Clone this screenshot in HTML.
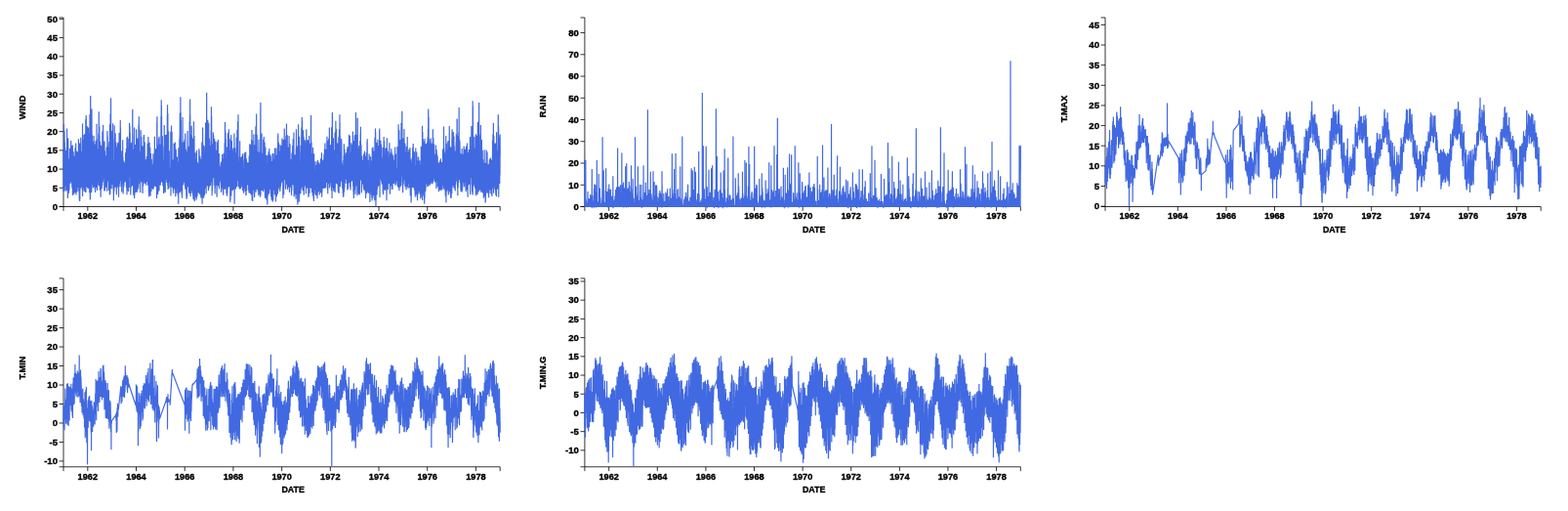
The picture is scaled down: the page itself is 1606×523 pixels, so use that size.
<!DOCTYPE html>
<html lang="en"><head><meta charset="utf-8"><title>Weather time series</title>
<style>
html,body{margin:0;padding:0;background:#fff;}
body{width:1606px;height:523px;overflow:hidden;}
svg{display:block;position:absolute;left:0;top:0;}
text{font-family:"Liberation Sans",sans-serif;font-weight:bold;font-size:9.2px;fill:#000;stroke:#000;stroke-width:0.35px;stroke-linejoin:round;}
.ax path,.ax line{fill:none;stroke:#000;stroke-width:0.8;}
.ln{fill:none;stroke:#4169e1;stroke-width:1.2;}
</style></head><body>
<svg width="1606" height="523" viewBox="0 0 1606 523">
<g class="chart">
<g class="ax">
<path d="M65.00,215.90V211.50H512.20V215.90"/>
<line x1="89.83" x2="89.83" y1="211.50" y2="215.90"/><text x="89.83" y="224.20" text-anchor="middle">1962</text>
<line x1="139.50" x2="139.50" y1="211.50" y2="215.90"/><text x="139.50" y="224.20" text-anchor="middle">1964</text>
<line x1="189.23" x2="189.23" y1="211.50" y2="215.90"/><text x="189.23" y="224.20" text-anchor="middle">1966</text>
<line x1="238.90" x2="238.90" y1="211.50" y2="215.90"/><text x="238.90" y="224.20" text-anchor="middle">1968</text>
<line x1="288.63" x2="288.63" y1="211.50" y2="215.90"/><text x="288.63" y="224.20" text-anchor="middle">1970</text>
<line x1="338.30" x2="338.30" y1="211.50" y2="215.90"/><text x="338.30" y="224.20" text-anchor="middle">1972</text>
<line x1="388.03" x2="388.03" y1="211.50" y2="215.90"/><text x="388.03" y="224.20" text-anchor="middle">1974</text>
<line x1="437.70" x2="437.70" y1="211.50" y2="215.90"/><text x="437.70" y="224.20" text-anchor="middle">1976</text>
<line x1="487.43" x2="487.43" y1="211.50" y2="215.90"/><text x="487.43" y="224.20" text-anchor="middle">1978</text>
<text x="300.20" y="238.00" text-anchor="middle" style="font-size:8.9px">DATE</text>
<path d="M60.60,18.00H65.00V211.50H60.60"/>
<line x1="60.60" x2="65.00" y1="211.50" y2="211.50"/><text x="59.00" y="214.80" text-anchor="end" style="font-size:9.6px">0</text>
<line x1="60.60" x2="65.00" y1="192.29" y2="192.29"/><text x="59.00" y="195.59" text-anchor="end" style="font-size:9.6px">5</text>
<line x1="60.60" x2="65.00" y1="173.08" y2="173.08"/><text x="59.00" y="176.38" text-anchor="end" style="font-size:9.6px">10</text>
<line x1="60.60" x2="65.00" y1="153.88" y2="153.88"/><text x="59.00" y="157.18" text-anchor="end" style="font-size:9.6px">15</text>
<line x1="60.60" x2="65.00" y1="134.67" y2="134.67"/><text x="59.00" y="137.97" text-anchor="end" style="font-size:9.6px">20</text>
<line x1="60.60" x2="65.00" y1="115.46" y2="115.46"/><text x="59.00" y="118.76" text-anchor="end" style="font-size:9.6px">25</text>
<line x1="60.60" x2="65.00" y1="96.25" y2="96.25"/><text x="59.00" y="99.55" text-anchor="end" style="font-size:9.6px">30</text>
<line x1="60.60" x2="65.00" y1="77.04" y2="77.04"/><text x="59.00" y="80.34" text-anchor="end" style="font-size:9.6px">35</text>
<line x1="60.60" x2="65.00" y1="57.84" y2="57.84"/><text x="59.00" y="61.14" text-anchor="end" style="font-size:9.6px">40</text>
<line x1="60.60" x2="65.00" y1="38.63" y2="38.63"/><text x="59.00" y="41.93" text-anchor="end" style="font-size:9.6px">45</text>
<line x1="60.60" x2="65.00" y1="19.42" y2="19.42"/><text x="59.00" y="22.72" text-anchor="end" style="font-size:9.6px">50</text>
<text transform="translate(25.50,97.70) rotate(-90)" text-anchor="end">WIND</text>
</g>
<path class="ln" vector-effect="non-scaling-stroke" transform="translate(65.000,211.500) scale(0.068036,-0.192079)" d="M0 294l1-214 1 11 1 74 1-31 1 74 1-4 1 234 1-166 1-147 1-41 1 59 1-22 1 102 1-9 1 189 1-56 1-102 1-112 1 211 1-142 1 88 1-182 1 129 1 79 1-159 1-52 1 128 1-124 1 7 1-34 1 109 1-83 1 63 1 128 1-120 1-6 1-3 1-27 1 9 1-30 1 83 1 31 1-18 1 17 1-55 1-1 1 11 1 32 1 68 1-203 1 14 1 176 1 140 1-133 1-200 1 26 1 146 1-6 1-77 1-7 1-58 1 93 1-27 1 37 1-167 1 81 1-68 1 116 1-25 1 217 1-151 1-101 1 1 1 6 1 38 1 37 1 61 1-2 1-153 1-29 1 24 1 118 1-87 1-40 1 56 1-55 1 5 1 9 1 45 1 32 1 74 1-115 1-9 1 54 1 128 1-102 1 1 1-22 1-30 1-28 1 12 1 50 1-69 1 49 1-21 1-12 1 4 1-11 1 17 1 17 1 117 1 37 1 31 1-138 1-1 1-64 1 4 1-12 1 27 1-28 1 185 1-153 1 52 1-14 1-81 1 41 1 7 1-34 1-27 1-12 1-4 1 145 1-69 1-2 1 11 1 46 1 98 1-229 1-39 1 67 1-26 1 11 1 67 1 85 1-8 1-109 1 133 1-5 1 18 1-80 1-123 1 36 1-59 1 10 1 22 1-21 1 35 1 135 1-181 1 85 1-45 1 163 1-64 1-90 1 18 1 15 1 6 1-46 1 72 1-87 1-9 1 30 1-30 1-11 1 123 1 98 1 18 1-84 1-9 1-118 1 88 1-66 1 54 1-28 1 110 1 79 1-123 1-141 1 101 1-3 1-111 1 105 1 38 1-15 1 107 1-101 1 72 1-152 1 82 1-2 1-104 1 18 1 181 1-212 1-1 1 26 1-19 1 52 1-31 1 165 1-6 1-117 1 63 1 3 1-106 1 71 1 114 1-71 1-14 1-39 1-68 1 41 1-39 1 16 1 93 1-8 1 157 1-160 1-9 1 42 1-151 1 12 1 14 1 59 1 62 1 52 1-183 1-41 1-22 1 142 1 17 1 110 1-170 1 204 1-310 1 82 1-71 1 83 1-36 1 115 1 1 1-64 1 35 1 126 1 4 1 20 1-201 1 96 1-120 1 91 1 178 1-67 1 48 1-159 1 107 1-135 1-45 1-10 1 1 1 67 1 79 1-61 1 24 1-87 1 4 1-7 1 168 1-56 1-22 1-90 1-35 1 34 1 8 1 47 1-19 1 36 1 244 1-387 1 148 1-111 1 38 1 20 1 48 1 155 1 3 1-253 1 129 1-23 1-5 1-103 1 23 1 3 1 26 1 37 1 10 1-73 1 64 1 192 1-146 1-128 1-23 1 129 1-134 1 45 1 53 1-2 1 82 1 31 1 33 1 65 1-296 1 75 1 96 1 33 1-131 1 88 1-79 1-37 1-41 1 1 1-1 1-21 1 9 1 182 1 198 1-308 1-79 1 31 1 138 1-66 1 302 1 4 1-143 1-79 1-36 1-34 1-5 1 64 1 18 1-164 1 189 1-12 1 6 1 139 1-225 1 193 1-174 1 4 1 79 1-145 1 15 1-74 1 164 1 22 1-94 1 70 1-117 1-46 1 0 1 322 1-324 1-4 1 198 1 13 1 9 1-25 1 130 1-281 1 209 1-161 1 39 1-93 1-33 1 16 1 154 1 118 1-37 1-26 1 45 1-183 1-21 1 17 1-109 1 141 1-77 1 203 1 151 1-325 1-36 1 22 1-54 1-52 1-11 1 153 1-63 1 41 1 424 1-21 1-414 1 93 1-112 1 103 1-25 1 54 1-66 1 6 1-52 1 139 1-209 1-13 1 125 1-15 1-105 1 196 1 118 1 128 1-160 1-207 1 113 1-136 1 120 1-132 1 90 1 173 1-260 1 7 1 58 1 91 1 23 1-103 1-12 1-15 1-47 1-4 1-20 1 74 1 174 1-180 1-66 1 74 1-41 1 5 1 79 1-29 1 63 1-94 1 96 1 123 1-62 1-152 1 26 1-83 1 122 1 35 1-38 1-34 1 46 1 25 1-65 1-15 1-62 1 212 1-241 1 100 1 19 1 55 1-108 1-37 1-46 1 53 1 31 1-62 1 129 1-106 1-8 1 240 1-240 1 117 1-25 1 18 1 126 1-49 1-138 1 43 1-103 1 104 1 35 1-75 1 62 1 214 1-234 1-61 1 69 1 147 1-39 1-147 1-90 1 34 1 29 1-11 1-24 1 56 1 39 1 98 1-135 1 8 1 2 1 33 1-34 1-7 1 19 1 76 1-14 1-110 1 47 1-61 1 258 1-170 1-24 1-80 1 87 1-81 1 385 1-85 1-311 1 48 1-25 1 101 1 73 1 121 1-19 1-269 1 237 1-225 1 96 1 41 1-84 1-82 1-36 1 117 1 72 1 71 1-203 1-23 1-12 1 122 1-24 1-69 1 44 1-55 1-76 1 12 1 188 1-62 1-72 1 27 1 183 1-36 1-7 1-180 1 132 1 23 1-72 1-36 1-25 1 24 1-54 1 38 1-7 1 193 1-178 1-21 1-8 1 119 1-61 1 230 1-131 1-71 1-51 1 24 1 51 1-56 1-37 1 29 1-16 1 65 1 33 1 195 1-275 1-10 1 17 1 37 1 46 1-43 1-39 1 151 1-53 1-96 1 82 1 52 1-126 1 151 1-107 1-59 1-75 1 260 1-5 1-192 1-70 1 175 1-75 1-8 1 123 1-182 1-28 1 18 1 110 1-77 1 24 1-21 1 94 1 24 1-156 1-2 1 40 1 39 1-7 1 16 1 21 1 62 1-131 1 3 1 43 1-68 1 9 1 106 1-118 1 108 1 92 1-128 1-72 1-4 1-8 1 119 1-75 1 67 1-133 1 78 1-1 1 244 1-33 1-126 1-113 1 242 1-61 1-173 1 29 1 157 1-47 1 2 1-39 1 23 1-20 1-56 1-37 1 119 1-40 1 30 1 54 1-135 1 10 1-46 1 28 1-85 1 59 1 82 1-24 1 143 1-105 1-111 1 92 1-3 1 31 1-121 1-61 1-5 1 339 1 37 1-260 1 146 1-253 1 84 1-90 1 125 1-96 1 167 1 225 1 9 1-283 1 116 1 100 1-119 1 269 1-33 1-171 1-144 1 130 1-68 1-136 1-18 1 14 1-58 1 214 1 96 1-93 1-149 1 161 1 57 1-224 1 235 1-195 1 53 1-61 1 166 1-39 1-191 1 128 1-136 1 167 1-162 1 16 1 59 1 247 1-255 1-8 1-36 1 43 1-78 1-15 1 109 1 43 1-101 1-74 1 125 1-164 1 41 1-5 1 111 1 58 1-127 1 64 1-93 1 31 1 249 1-143 1 117 1 97 1-163 1-36 1-114 1-17 1 2 1 234 1-47 1-23 1-127 1 20 1 67 1-55 1 157 1 61 1-192 1-5 1-92 1 3 1 2 1 148 1-2 1-81 1 170 1-41 1-97 1-39 1 111 1 45 1-93 1 8 1-173 1 29 1 219 1-58 1-59 1-76 1 121 1-64 1-67 1 54 1 100 1-91 1 86 1-59 1-13 1-60 1 3 1 121 1 90 1-118 1-96 1-6 1 28 1-19 1-29 1 73 1-72 1 222 1-227 1 152 1-132 1 88 1-75 1-78 1 292 1-122 1-16 1-22 1-49 1 117 1-3 1 146 1-79 1-169 1 46 1-29 1-2 1-8 1 71 1 5 1-27 1-79 1 70 1 95 1-111 1-71 1 131 1-56 1 280 1-235 1-64 1 258 1-122 1-11 1-56 1 35 1-75 1-55 1 16 1 127 1-88 1 47 1 17 1-41 1-1 1-43 1 22 1-34 1 10 1-90 1 93 1 0 1 127 1-22 1-90 1 27 1-30 1 14 1-31 1 50 1 40 1-50 1 3 1-74 1 220 1-191 1-15 1-29 1 144 1-49 1-147 1 8 1 20 1 63 1 35 1-64 1 25 1-52 1 138 1 4 1-138 1 6 1 6 1 66 1-44 1 30 1-6 1 63 1-14 1-46 1-13 1 8 1-33 1 59 1-33 1-16 1 64 1 31 1-13 1-52 1 41 1-34 1 38 1-54 1-3 1 17 1 36 1 77 1-70 1 36 1-59 1-65 1 51 1 27 1-15 1-23 1 63 1 25 1 52 1-168 1-34 1-7 1 140 1-81 1 5 1-45 1 91 1 157 1-304 1 94 1 60 1 76 1-119 1 22 1 12 1 67 1 77 1 21 1-180 1-49 1-60 1 91 1-30 1 38 1 98 1-30 1-101 1 167 1-213 1 82 1-106 1 74 1 16 1 34 1-93 1 94 1 70 1 86 1-247 1 232 1-124 1-122 1 124 1-41 1 109 1-77 1 230 1-289 1 154 1-120 1 204 1 36 1-95 1-58 1-102 1 219 1-101 1-53 1-42 1 49 1 14 1-90 1-62 1-34 1-14 1 36 1 190 1-65 1-64 1 99 1 81 1-196 1 12 1-50 1 4 1 82 1 2 1-58 1 69 1-93 1 230 1-44 1-45 1-139 1 55 1-8 1 63 1 127 1-232 1-4 1 111 1-113 1 395 1 12 1-344 1 214 1-118 1-81 1 59 1-22 1-78 1-33 1 29 1 24 1 7 1 130 1-245 1 47 1 146 1-21 1-14 1-84 1 105 1-83 1-64 1-6 1 170 1-139 1 304 1-378 1 3 1 54 1 92 1-132 1 38 1 86 1-33 1-8 1-67 1 251 1-96 1-158 1 257 1-193 1 25 1 166 1-65 1-61 1-35 1 64 1-58 1-31 1 80 1 20 1 65 1-43 1-188 1 25 1 311 1-11 1-191 1-85 1 210 1-149 1 108 1-66 1-73 1 31 1-41 1-69 1 201 1 13 1 36 1-196 1 103 1 130 1-166 1 52 1-88 1 35 1 11 1-104 1 1 1 74 1 102 1-22 1 91 1-112 1-45 1-100 1 20 1-6 1 48 1 130 1 152 1-258 1 97 1-14 1 218 1-359 1 110 1-48 1 22 1 217 1-134 1-111 1-33 1 56 1-27 1 5 1 46 1-70 1 140 1-101 1 6 1 20 1-18 1-54 1 76 1-148 1 108 1 77 1-134 1 85 1 83 1-78 1 192 1-261 1-14 1 97 1-71 1 11 1 17 1 27 1 38 1 120 1-76 1-85 1-63 1-11 1-5 1 3 1 51 1-44 1-9 1 25 1 74 1 92 1-125 1-58 1 156 1-145 1-18 1-53 1-11 1 17 1 188 1-119 1 165 1-142 1 11 1 58 1-139 1 38 1 7 1 54 1-22 1-12 1-51 1 2 1 250 1-88 1-40 1 8 1 36 1 92 1-241 1 127 1-60 1 35 1-87 1 34 1-10 1 96 1 0 1 67 1-136 1-13 1-70 1 56 1 44 1-26 1-6 1-7 1-63 1 102 1-16 1 44 1-85 1 17 1 32 1 23 1-46 1-14 1-29 1 75 1-9 1-104 1 127 1-54 1 42 1-45 1-27 1 65 1-50 1 56 1 41 1-126 1-7 1 0 1-3 1 32 1 23 1-39 1 31 1 23 1-2 1 47 1 89 1-56 1-90 1-18 1 92 1-36 1-8 1-107 1 42 1-9 1 178 1 48 1-92 1-45 1-91 1-28 1 190 1-199 1-31 1 137 1 88 1-115 1-133 1 221 1-213 1 124 1-65 1 39 1 22 1 161 1-127 1 79 1-120 1-85 1 5 1 75 1-19 1-28 1 75 1 118 1-201 1-26 1-23 1 16 1-25 1 94 1-50 1 126 1-133 1 100 1 91 1-135 1 98 1-145 1 140 1-46 1-115 1 15 1 120 1-8 1-71 1 117 1-83 1-30 1 58 1 19 1-71 1-6 1-45 1 72 1 1 1-37 1 92 1-62 1-47 1-18 1 34 1 5 1-1 1-24 1 90 1-15 1-93 1 137 1-109 1-30 1 192 1-161 1 40 1 81 1-20 1-14 1-68 1-41 1 117 1 5 1-77 1 49 1 16 1 33 1-69 1-47 1-17 1 77 1-24 1 10 1 201 1-230 1 89 1-42 1-61 1-20 1 60 1 18 1 30 1 38 1-94 1-26 1 171 1-119 1 7 1-88 1 16 1 36 1-21 1 33 1 83 1 16 1-54 1 24 1-35 1 105 1-18 1-52 1-68 1 97 1-141 1 14 1-98 1 107 1 51 1 234 1 17 1-3 1 30 1-337 1-38 1 67 1 57 1 98 1-194 1 35 1 160 1-104 1-160 1 70 1 14 1-45 1-27 1 164 1 55 1 18 1-128 1-18 1-46 1 47 1 162 1 34 1-97 1-61 1-65 1-30 1-28 1 7 1 0 1 59 1 225 1-232 1-14 1 95 1-54 1 8 1-22 1-26 1 40 1 37 1 86 1-172 1 186 1 26 1-203 1 44 1-1 1-59 1 44 1 122 1-98 1 137 1-76 1 24 1-78 1 10 1 174 1 110 1-237 1-116 1 24 1 416 1-223 1-206 1 400 1-380 1 321 1-99 1-202 1-35 1-7 1-2 1 76 1 32 1 106 1-68 1-118 1 212 1-43 1-127 1 18 1-96 1 183 1 10 1-46 1-165 1 17 1 123 1-45 1-44 1 6 1 46 1-44 1-5 1 71 1-44 1-121 1 124 1-32 1 20 1-11 1-31 1-21 1 15 1 3 1 298 1-211 1 23 1-153 1 23 1 64 1 160 1-24 1-99 1-122 1-17 1 151 1-85 1-71 1 17 1 53 1-64 1 196 1 107 1-21 1-148 1 113 1 22 1-98 1-45 1-16 1-22 1-26 1 30 1-24 1 5 1 32 1-31 1 154 1-53 1 129 1-165 1-56 1 104 1-46 1-93 1 136 1-70 1 36 1 62 1-27 1 222 1-301 1 148 1 209 1-402 1 11 1 40 1-80 1 385 1-300 1 52 1-156 1-1 1 12 1 107 1-9 1-64 1 143 1 121 1-157 1-141 1 72 1 124 1-119 1-84 1 53 1 47 1-10 1 29 1 81 1-157 1-8 1 12 1 22 1-24 1-8 1 73 1-72 1 10 1-6 1 61 1-57 1 19 1-13 1-17 1 1 1-19 1-10 1 106 1-26 1 14 1 72 1 130 1-253 1-90 1 102 1 26 1 1 1 10 1-48 1 51 1-2 1 235 1-176 1 48 1-102 1-25 1-14 1-56 1 143 1 150 1-211 1-82 1 97 1-45 1 91 1-149 1 149 1-100 1 59 1 5 1-63 1 14 1-17 1-39 1 9 1-18 1 16 1-16 1-18 1 169 1-62 1-110 1-8 1 82 1 16 1-54 1-25 1 7 1 240 1-168 1 67 1-22 1-82 1 121 1-39 1 91 1-59 1-114 1 28 1-13 1-49 1 89 1-5 1 11 1-4 1 72 1 82 1-106 1-85 1 57 1-120 1 31 1-38 1-28 1 59 1-57 1 64 1 19 1 46 1 9 1-17 1 129 1-186 1 3 1 26 1-60 1 17 1 45 1 59 1-121 1-17 1 19 1 150 1-122 1-11 1 38 1-33 1 152 1-68 1-65 1 69 1-54 1-17 1 39 1 20 1 49 1-11 1-52 1-54 1-13 1-32 1-19 1 55 1 13 1-12 1-31 1 7 1-75 1 152 1 148 1-239 1 17 1 17 1-39 1 52 1 63 1 19 1-62 1 128 1-37 1-154 1-2 1 170 1 114 1-247 1 96 1-44 1 213 1-217 1 337 1-15 1-262 1-134 1 203 1-13 1-201 1 17 1 81 1 409 1-162 1-288 1 214 1 156 1-264 1-70 1-84 1 373 1-320 1-24 1 53 1 5 1-48 1 54 1-53 1-18 1 37 1 198 1-273 1-5 1 12 1-17 1 21 1 5 1-40 1 55 1 174 1-94 1 56 1 13 1-25 1 252 1-190 1 16 1-189 1 41 1-37 1 15 1 64 1 1 1-62 1 83 1 95 1-133 1 63 1-61 1-10 1 109 1 61 1-130 1-27 1 32 1 79 1-168 1 36 1 129 1-110 1 12 1 105 1 40 1-96 1 111 1-228 1-13 1 20 1 84 1-74 1 52 1-92 1 286 1-15 1-268 1-13 1 0 1 42 1-13 1-23 1-4 1 50 1 160 1-105 1-56 1 40 1 36 1 69 1-194 1 156 1-196 1 44 1 146 1-207 1 207 1-50 1 99 1-218 1 140 1-68 1-104 1 181 1-41 1-24 1-18 1 101 1-121 1 69 1 210 1-107 1-133 1 60 1-67 1 114 1-166 1 215 1-189 1 174 1 2 1-91 1-81 1 187 1-194 1 95 1-28 1-29 1-13 1 161 1-158 1 131 1-185 1-30 1 128 1-57 1-39 1 16 1 162 1-80 1 40 1 216 1-172 1-145 1 1 1 348 1-192 1-172 1 448 1-301 1 218 1-422 1 70 1 40 1-51 1-72 1 167 1-1 1 35 1 78 1-162 1-37 1 34 1 122 1-24 1-175 1-20 1 38 1 273 1-68 1-117 1 233 1-189 1 3 1-159 1 261 1 27 1-27 1-131 1-10 1 93 1-69 1 21 1 90 1-123 1-92 1 112 1-56 1-97 1-13 1 73 1-86 1 206 1 98 1-80 1-82 1-159 1 55 1-13 1 52 1 37 1 60 1-197 1 319 1 99 1-292 1-69 1 39 1 139 1-26 1 17 1 116 1-127 1 4 1-73 1-116 1-38 1 58 1-17 1 66 1-57 1 59 1 6 1 32 1-106 1 65 1-34 1 70 1 118 1-124 1-63 1-33 1 27 1 156 1-85 1-118 1 72 1 43 1 2 1 62 1-118 1-3 1-4 1-67 1 54 1 2 1-23 1 104 1 129 1-254 1 98 1-14 1-2 1 56 1-68 1 41 1-102 1 158 1-98 1 43 1 78 1-102 1-16 1 96 1 13 1-75 1-63 1 12 1 43 1-23 1 29 1-29 1 44 1-93 1 2 1 69 1 63 1-80 1 52 1-96 1 20 1 3 1 202 1-132 1 99 1-80 1 103 1-109 1 50 1 31 1-51 1-152 1 54 1-25 1-30 1 34 1 90 1 45 1 34 1-49 1-96 1 18 1-80 1 48 1-41 1 186 1-87 1-16 1-54 1 4 1 24 1 9 1-88 1 165 1 40 1-65 1-7 1-87 1 108 1-49 1-52 1 89 1-4 1-8 1 45 1-53 1 174 1-72 1-185 1-53 1 111 1-130 1 61 1 125 1 103 1-194 1 30 1 68 1 215 1-132 1-68 1 60 1-123 1 26 1-137 1 38 1-4 1-4 1-24 1-5 1 238 1 41 1-234 1-45 1 0 1 164 1-147 1 140 1-85 1-12 1 35 1 15 1-88 1-11 1 10 1-10 1 16 1 210 1-26 1-63 1 124 1-199 1 67 1-11 1-82 1 27 1-20 1 56 1 53 1-7 1 180 1-215 1 278 1-179 1-70 1-40 1-24 1 68 1-71 1-37 1-26 1 256 1 41 1-66 1-18 1 116 1-85 1 196 1 99 1-406 1-13 1 142 1-69 1 117 1-152 1 11 1-129 1 38 1 46 1 124 1 28 1-75 1-138 1 27 1-18 1 321 1-142 1-103 1-75 1 89 1 99 1-88 1-17 1-42 1-98 1 150 1 12 1-102 1 302 1-87 1-87 1-176 1 11 1 76 1-32 1 99 1 28 1 85 1-146 1-30 1-34 1-45 1 217 1-192 1-17 1 88 1-42 1 31 1 16 1-98 1 2 1 74 1-77 1 56 1 65 1-114 1 2 1 69 1 16 1 18 1 127 1-197 1 22 1-14 1 246 1-247 1-27 1 253 1 146 1-230 1 35 1-146 1 289 1-238 1-50 1-51 1-13 1 106 1-175 1 98 1-82 1 54 1 2 1-43 1 57 1 68 1 120 1-222 1 22 1 32 1 18 1 80 1-9 1-37 1-66 1 101 1 144 1-188 1 51 1-79 1 39 1 76 1 85 1-187 1 49 1-90 1 47 1-44 1 15 1 35 1 6 1-41 1 98 1-93 1 83 1 104 1-193 1-56 1 29 1 145 1 48 1-111 1-155 1 63 1 0 1-18 1-15 1 55 1-2 1 60 1 52 1-37 1-22 1 143 1-108 1-84 1 101 1 9 1-123 1 106 1-133 1-2 1 127 1 46 1 14 1-134 1-15 1-11 1 55 1 73 1-208 1 89 1-99 1 39 1 35 1 42 1-10 1 33 1-42 1 51 1 145 1-193 1-38 1 7 1 128 1-47 1-42 1 84 1 60 1-12 1 65 1-147 1-41 1-46 1 15 1 100 1-76 1-16 1-37 1 5 1 96 1-88 1 8 1 150 1 5 1-129 1-61 1 92 1-80 1 46 1 52 1-58 1 0 1-10 1 40 1 36 1-47 1-22 1 41 1 8 1-51 1-3 1 45 1 19 1 5 1 8 1-41 1 7 1 6 1 42 1-76 1-24 1 81 1-4 1-19 1 53 1-165 1 23 1 53 1-53 1 0 1 117 1-62 1-51 1 1 1 17 1 3 1-21 1 1 1 2 1 109 1-10 1 75 1-109 1-36 1-20 1 17 1 21 1 44 1-63 1 42 1-90 1 140 1 31 1-56 1-85 1 1 1-55 1 9 1 3 1 24 1 7 1 111 1 70 1-112 1-1 1 21 1-66 1-33 1 20 1 27 1 7 1 28 1 30 1-19 1-33 1 56 1-44 1 14 1 160 1-92 1-2 1-23 1 13 1 214 1-357 1 163 1-137 1 142 1 147 1-212 1 199 1-217 1 72 1 69 1 40 1-253 1 53 1 92 1-90 1-6 1 30 1-58 1-24 1 105 1-124 1-13 1 147 1 21 1-79 1-98 1 3 1 24 1 121 1 108 1-262 1 184 1-138 1 107 1-140 1 12 1 13 1-3 1 39 1-32 1 22 1 34 1 238 1-288 1 19 1 131 1-17 1-133 1 20 1 41 1-6 1 150 1-88 1 154 1-164 1 177 1 24 1-226 1 67 1-5 1-100 1-40 1-1 1 149 1-43 1-99 1 8 1 103 1 135 1-177 1 82 1-149 1 164 1-163 1 25 1-27 1 43 1-135 1 114 1-11 1 137 1-228 1 138 1 72 1 55 1-40 1-145 1-47 1 187 1 106 1 21 1-316 1-9 1 22 1 101 1 10 1-65 1 18 1 39 1-50 1-13 1 232 1-201 1 147 1-121 1-89 1 185 1-3 1-80 1-31 1-25 1-43 1-5 1 18 1-5 1-7 1 4 1-2 1 199 1-186 1 117 1 85 1-98 1-94 1 8 1 98 1-16 1-70 1 77 1 57 1 43 1 1 1-47 1-16 1-160 1 118 1 112 1-33 1 103 1-245 1 64 1-196 1 43 1 30 1 54 1 164 1-28 1-155 1-27 1 34 1 184 1-135 1-41 1 31 1 6 1 44 1 60 1-175 1 56 1-65 1 62 1 1 1 130 1-144 1 14 1-21 1 115 1-64 1-23 1-61 1 22 1 81 1 162 1-196 1 129 1-18 1-149 1-26 1 85 1 136 1-33 1-102 1 215 1-134 1-118 1 0 1-17 1-3 1 69 1 47 1 201 1-301 1 54 1-20 1 137 1-72 1-112 1 26 1 325 1-308 1 87 1-165 1 159 1-143 1 31 1-10 1 58 1 13 1 27 1-110 1 88 1-92 1-4 1 84 1-45 1 60 1-124 1-3 1 23 1 47 1-18 1 114 1-14 1 104 1-211 1 7 1 7 1-35 1 64 1-45 1 19 1-2 1-51 1-8 1 10 1-8 1 3 1 29 1 134 1-112 1-6 1 6 1 30 1 10 1 72 1-65 1-70 1 8 1 53 1-2 1 81 1-77 1 70 1-27 1-66 1-62 1 1 1 0 1 52 1 3 1-56 1 10 1 115 1-113 1 111 1-142 1 196 1-199 1 35 1 62 1 63 1 7 1-101 1 52 1-68 1 22 1 48 1-72 1-28 1-33 1 37 1 12 1 14 1 60 1-36 1-37 1 6 1 5 1-6 1 34 1-6 1 127 1-68 1-74 1-14 1-29 1 66 1-1 1 47 1 81 1-67 1-134 1 17 1-26 1 4 1 99 1 33 1-68 1-25 1-21 1 29 1 162 1-68 1-121 1-44 1 69 1-65 1 1 1 55 1 42 1 95 1-121 1 34 1 77 1-117 1 50 1-93 1 103 1 2 1 24 1-13 1-2 1 10 1-71 1 49 1-25 1 0 1-44 1 12 1-15 1 3 1 117 1-45 1-39 1 46 1-20 1-14 1 34 1-67 1-16 1 47 1-19 1 9 1 6 1 27 1-98 1 105 1 43 1-22 1-37 1-103 1 50 1 148 1-12 1-56 1-90 1-39 1 41 1-42 1 27 1 117 1 118 1-148 1 37 1-82 1 109 1-45 1-88 1-6 1 23 1-64 1 111 1 54 1-49 1-117 1 37 1 63 1-96 1 86 1 171 1-202 1 77 1-143 1 67 1-19 1 25 1-64 1-7 1 78 1 215 1-237 1-13 1 29 1 49 1 223 1-324 1-53 1 127 1-123 1 118 1 28 1 6 1 164 1-250 1 140 1-213 1 210 1-90 1-37 1 31 1-4 1 49 1-24 1 135 1-25 1-88 1-78 1 71 1-86 1-2 1 19 1 275 1-167 1-13 1-52 1-52 1 68 1-18 1-85 1 129 1-109 1 140 1 58 1-235 1 19 1 50 1 65 1 90 1 56 1-178 1-41 1-3 1 83 1-104 1 4 1 78 1 94 1-59 1 25 1 159 1-111 1-71 1 222 1-173 1-177 1 243 1-53 1-26 1-35 1 190 1 41 1-256 1 313 1-370 1-26 1-5 1 51 1 98 1 53 1-27 1 116 1-135 1-35 1-28 1-7 1 27 1-59 1 63 1-24 1-7 1-90 1 27 1 177 1-145 1 32 1 17 1-53 1-20 1 32 1-44 1-33 1 37 1 157 1-214 1 113 1 120 1 66 1-103 1-144 1 147 1-29 1-85 1 21 1 52 1-3 1-24 1-41 1 51 1-134 1 5 1 39 1 86 1 75 1 19 1-159 1 71 1 76 1-62 1-165 1 110 1 59 1 75 1-136 1 327 1 40 1 28 1-495 1 127 1-11 1-56 1 124 1-57 1-57 1 81 1 164 1-254 1 110 1-72 1 85 1 139 1-208 1 216 1-284 1 66 1-86 1 193 1 1 1 0 1-114 1-70 1 189 1-165 1 89 1-22 1-78 1 16 1 40 1-24 1-55 1 189 1-54 1-52 1 16 1-105 1 30 1 158 1 90 1-224 1 42 1 26 1-73 1-7 1 101 1-19 1 168 1-98 1-132 1 91 1-56 1-85 1 35 1-13 1 40 1 52 1-24 1-51 1 212 1-73 1-154 1-36 1 27 1-42 1-19 1 4 1 8 1 193 1-90 1 157 1-211 1 145 1-94 1 8 1 96 1-103 1-34 1-80 1 72 1 45 1 39 1-81 1 153 1-165 1-3 1 63 1-133 1 21 1 16 1-5 1-10 1 5 1 20 1 3 1 48 1 95 1-135 1 10 1-93 1 190 1-184 1 240 1 18 1-34 1-179 1-2 1 39 1 2 1-22 1 10 1 26 1 32 1-40 1-43 1 29 1-27 1 228 1-134 1-17 1-21 1 103 1 17 1 19 1-109 1-19 1 160 1-221 1 26 1 213 1-156 1-60 1 5 1-8 1 49 1-1 1 51 1 13 1-45 1-67 1 76 1-15 1 127 1-102 1 63 1-62 1-81 1 41 1-46 1 19 1 159 1-25 1-101 1-45 1-36 1 11 1-19 1-3 1 98 1 92 1-59 1-106 1-18 1-24 1 32 1-27 1 28 1 6 1 53 1-16 1 130 1-107 1-81 1-9 1 137 1 17 1 58 1 28 1-259 1 27 1 222 1-40 1-93 1-43 1 10 1-6 1-70 1 29 1 18 1 115 1 90 1-35 1-104 1-36 1-11 1-12 1 79 1-14 1-34 1 10 1 81 1-77 1 78 1-79 1 20 1 102 1-119 1-40 1 21 1 30 1-27 1-53 1 246 1-186 1-52 1 18 1 52 1-9 1-4 1-7 1 51 1 141 1-160 1 103 1-175 1-3 1-53 1 18 1 93 1-64 1 32 1 159 1-55 1-22 1 87 1-48 1-3 1-4 1-149 1 4 1-20 1 14 1 10 1 28 1 14 1 70 1-65 1 64 1 124 1-39 1-78 1-83 1-38 1-1 1-7 1 50 1 0 1-37 1 236 1 61 1-119 1 132 1-267 1 85 1-91 1 46 1-33 1-12 1-24 1 98 1 149 1-233 1 6 1 32 1 131 1-96 1-6 1-28 1 149 1-105 1 14 1-64 1-7 1-1 1 31 1 105 1-82 1-37 1-41 1-20 1-8 1 116 1 134 1-177 1-60 1 39 1 25 1-28 1 13 1-35 1 213 1-157 1-46 1 19 1 43 1-22 1-30 1 12 1 12 1 105 1-77 1 10 1-64 1 200 1-88 1-2 1-18 1-33 1 128 1-8 1-3 1 20 1 43 1-230 1 16 1 72 1 92 1-76 1 70 1 6 1-87 1 109 1-70 1-63 1-73 1-87 1 89 1-37 1 50 1 158 1-172 1 225 1-166 1 32 1 11 1-38 1-91 1-43 1 122 1 94 1-25 1 3 1 29 1-112 1-26 1 269 1-63 1 9 1-80 1-102 1-38 1 10 1 94 1 0 1 54 1-48 1-33 1 138 1-54 1-72 1 6 1-40 1 96 1-46 1-139 1-15 1 114 1 78 1 9 1 49 1 34 1-32 1-6 1-109 1 111 1-91 1 148 1-27 1 71 1-163 1-145 1-16 1 47 1 21 1 8 1 39 1-58 1 55 1 62 1 39 1 50 1-272 1-4 1 21 1-29 1-6 1 80 1 104 1-45 1 86 1-160 1-51 1 12 1 2 1-6 1 3 1 56 1 12 1 88 1 33 1-188 1 17 1 135 1-127 1 30 1-69 1 274 1-238 1-26 1 34 1-7 1-39 1 41 1-67 1 110 1 124 1-88 1-41 1-50 1 105 1 100 1-56 1-112 1 20 1 59 1-12 1-110 1-19 1 54 1 50 1-82 1 78 1-92 1 25 1 115 1-153 1 37 1 1 1 24 1-13 1 79 1-66 1-102 1 133 1-79 1 61 1-90 1 9 1 192 1-157 1 27 1 125 1-165 1 8 1 26 1 46 1-59 1 142 1-74 1 121 1-164 1-26 1 39 1-36 1 97 1-47 1 16 1 155 1-246 1 24 1 98 1 19 1-99 1 150 1-69 1-8 1 13 1 40 1 114 1-185 1-130 1-28 1 1 1 80 1-36 1-1 1 97 1-31 1-49 1-31 1 94 1 12 1 88 1-142 1 118 1-90 1-16 1 71 1-79 1-73 1 50 1-23 1 82 1-90 1 32 1 159 1-47 1-170 1 108 1-22 1-104 1 2 1 269 1-200 1-45 1 345 1-159 1-146 1-19 1 26 1 38 1-84 1 176 1 75 1-251 1 0 1 9 1 46 1-6 1-44 1 48 1-34 1 18 1-68 1-15 1 154 1-166 1 275 1 1 1 40 1-136 1-83 1 8 1 6 1-53 1 293 1 77 1-162 1-59 1 54 1-44 1 18 1-180 1 81 1 79 1-175 1-25 1 35 1 73 1-91 1 300 1 32 1-87 1-80 1 84 1-89 1-12 1-83 1 91 1 16 1 11 1-121 1-9 1-21 1 39 1 129 1-131 1-43 1 91 1-90 1 16 1 40 1-28 1 131 1 99 1-149 1-57 1-17 1 133 1-143 1 12 1 13 1 5 1 237 1 61 1-163 1 30 1 32 1-156 1-61 1 372 1-302 1 121 1-97 1 74 1 186 1-225 1 37 1 18 1 82 1-48 1-38 1-20 1-180 1 63 1 44 1 46 1-22 1 55 1-110 1 247 1-131 1-20 1 26 1 13 1 32 1-85 1 130 1-142 1-163 1-5 1 141 1 18 1 40 1-37 1 37 1 54 1 34 1-96 1-104 1 1 1 10 1 73 1-87 1 208 1-1 1-144 1-95 1 0 1 117 1-71 1 79 1-63 1 132 1 35 1-191 1 24 1-75 1 47 1 123 1-154 1-18 1-30 1 76 1-10 1 9 1-44 1 312 1-21 1-277 1 107 1-125 1 6 1 54 1 61 1 136 1-215 1 48 1-83 1 17 1 20 1 59 1-26 1 184 1-188 1 44 1-33 1 59 1-20 1-24 1 158 1-244 1 192 1-146 1-57 1 36 1 87 1-159 1-10 1 92 1 142 1-135 1-100 1 259 1-167 1 85 1 53 1-11 1 107 1-244 1-56 1 73 1-22 1-57 1 4 1 29 1 152 1 81 1-125 1-1 1-86 1-4 1 7 1 1 1 117 1 74 1-173 1 17 1 121 1 40 1-121 1-7 1-95 1 55 1 114 1 188 1-133 1 161 1-125 1-187 1-79 1 196 1-111 1 14 1 147 1-243 1 63 1 88 1-17 1-12 1-127 1-19 1 132 1-125 1 37 1 163 1-31 1-6 1-46 1-56 1-38 1-6 1-42 1 19 1 7 1 28 1 204 1-201 1-19 1 132 1-56 1-43 1 21 1 14 1 48 1-170 1 12 1 115 1-68 1-71 1 102 1 27 1 124 1-72 1-70 1-6 1-32 1 18 1 23 1 39 1-50 1-24 1 28 1-33 1-16 1 51 1 54 1-18 1-61 1 69 1-53 1-63 1 175 1-97 1 1 1 57 1-1 1-66 1-18 1 83 1-37 1-103 1 35 1-35 1 22 1 96 1-27 1 70 1-155 1 28 1 33 1-33 1-35 1 11 1-2 1 40 1 15 1 39 1-45 1 122 1-59 1-137 1 53 1-38 1 104 1-79 1-3 1 40 1-46 1 175 1-154 1 42 1-56 1 55 1-11 1 30 1-17 1 63 1-38 1-11 1-45 1 35 1 2 1 53 1-113 1 5 1 48 1 98 1-46 1 43 1-104 1 0 1-49 1 37 1-10 1 67 1-110 1 37 1 86 1 39 1-73 1-41 1 35 1-71 1 29 1 24 1-14 1 10 1 62 1-32 1-60 1 6 1 38 1 119 1-126 1-14 1-3 1 11 1-6 1-28 1-4 1-15 1 153 1 13 1-105 1-46 1 89 1 112 1-147 1 97 1-187 1 57 1 87 1-76 1-43 1 50 1 118 1-30 1-98 1-7 1 56 1 16 1-19 1 36 1-69 1 8 1 112 1-140 1 40 1-31 1-21 1 13 1 96 1-14 1 51 1-87 1-33 1 114 1-131 1-9 1 46 1 111 1-150 1 176 1-55 1-25 1-54 1 105 1-11 1-22 1-20 1 111 1-189 1 125 1-148 1 99 1-22 1 26 1 139 1-4 1-228 1 4 1 22 1-1 1 152 1-87 1-58 1-39 1 13 1 97 1-33 1-48 1 14 1 96 1 66 1-34 1-86 1 8 1 47 1-50 1 19 1-82 1 41 1 23 1-61 1 54 1 117 1 59 1 14 1-159 1-24 1-44 1 53 1-48 1 16 1-77 1 9 1 251 1-68 1-183 1-31 1 98 1 84 1-73 1 130 1-38 1 24 1-2 1 19 1-81 1-55 1-42 1 84 1 146 1-242 1 130 1-44 1 42 1-42 1 47 1-119 1-7 1 67 1 227 1-261 1-62 1 27 1 75 1-93 1 79 1-32 1-22 1 96 1 23 1 78 1-119 1-42 1 16 1-59 1 75 1-35 1-5 1 101 1-17 1 77 1-78 1-70 1-42 1 15 1 53 1-36 1-55 1 220 1-110 1-135 1 48 1 86 1 205 1-89 1-63 1 39 1-180 1 1 1-87 1 161 1 45 1-10 1 262 1-51 1 36 1-365 1-17 1 183 1-162 1 29 1-54 1 43 1 62 1 59 1-90 1 66 1-2 1-31 1 158 1-185 1 109 1-194 1 96 1-110 1 3 1 8 1 105 1 51 1 29 1-147 1 71 1-61 1 62 1 99 1-154 1-42 1 180 1-41 1-144 1 44 1 113 1-168 1 304 1-225 1-93 1 93 1-67 1 127 1-17 1-50 1 235 1-66 1-83 1-125 1 334 1-115 1 74 1-68 1-147 1 85 1-151 1-11 1 113 1 65 1 112 1-242 1 180 1-142 1-74 1-15 1 39 1 32 1-67 1 60 1 106 1-82 1-15 1 102 1-123 1 37 1-45 1 173 1-191 1 11 1 16 1 39 1-94 1-2 1 27 1-38 1-25 1 8 1-1 1 175 1-158 1-32 1 68 1-25 1 255 1-134 1-27 1-56 1-83 1 243 1-34 1-64 1 66 1 129 1-85 1-210 1-9 1 233 1-159 1-12 1 322 1-241 1 195 1-149 1-77 1 158 1-158 1 21 1-80 1-55 1 56 1-37 1 105 1-62 1-35 1 7 1 65 1 23 1 67 1-129 1 105 1 22 1-156 1 70 1 126 1 30 1-82 1 73 1-116 1-55 1 62 1-35 1 25 1-42 1-55 1 25 1 67 1-50 1 38 1-48 1-46 1-26 1 17 1 77 1 30 1-48 1-20 1-38 1-45 1 6 1 5 1 70 1-100 1 58 1-22 1 57 1 103 1-161 1-31 1 25 1 192 1-55 1-42 1 54 1 105 1-40 1 14 1-144 1-86 1 49 1 28 1-56 1 14 1 191 1-120 1 24 1-3 1-83 1 5 1 21 1 72 1-56 1 16 1-31 1 125 1-82 1-28 1 6 1-25 1 56 1 12 1-42 1 92 1-47 1 71 1-28 1-85 1-5 1 86 1-14 1-8 1-52 1 19 1-30 1-12 1-32 1-4 1 22 1-16 1 20 1-25 1 41 1 144 1-53 1-126 1 36 1-77 1 24 1-6 1 214 1-122 1-4 1-88 1-9 1-4 1 35 1-26 1 36 1 8 1 133 1 38 1-104 1-85 1 140 1-68 1 9 1 57 1-120 1 51 1 181 1-157 1 163 1-254 1 47 1-34 1-17 1 63 1 102 1-85 1 127 1-30 1-133 1 207 1-231 1 138 1-158 1-22 1 15 1 155 1-30 1 46 1-12 1-161 1-28 1 81 1 20 1-23 1 85 1-49 1-40 1 26 1-51 1-5 1 207 1-95 1 59 1 23 1-19 1-168 1 48 1-7 1-15 1 44 1-6 1 127 1-11 1-79 1 82 1-22 1-97 1-49 1 78 1-97 1 22 1 44 1 65 1 12 1 122 1-163 1 56 1-104 1 3 1-85 1 24 1 38 1 81 1-172 1 31 1 242 1-289 1 70 1-89 1 21 1 114 1-72 1 125 1-82 1-39 1 8 1-20 1 62 1-72 1 12 1 14 1 58 1 205 1-99 1-75 1 148 1 5 1 25 1-192 1 75 1-58 1-25 1-116 1 30 1 166 1-110 1 130 1-54 1-19 1 293 1-146 1-121 1 240 1-243 1-114 1 158 1 66 1-166 1 162 1-229 1 127 1-25 1-72 1 0 1 130 1 3 1-35 1 26 1 119 1-194 1-51 1-58 1-20 1 21 1 234 1 24 1 135 1-326 1-4 1 89 1-84 1 109 1-64 1-66 1-52 1 159 1-28 1-41 1-4 1-49 1-7 1 206 1-244 1 9 1 7 1-9 1 55 1 101 1 95 1-135 1-37 1 3 1-27 1 60 1-84 1-28 1-2 1-12 1 84 1 55 1 56 1-39 1 133 1-140 1 7 1-78 1 19 1 157 1-145 1 218 1-245 1 90 1 191 1-210 1 120 1-110 1-75 1-5 1 41 1 21 1 120 1-78 1-111 1 95 1-6 1 42 1-169 1-28 1 39 1 62 1-30 1 81 1 46 1-77 1 37 1-75 1 74 1-10 1-91 1 72 1-60 1 15 1 47 1 28 1-60 1-11 1-41 1 33 1-1 1 49 1 49 1-83 1 57 1-61 1 77 1-92 1-46 1 82 1-82 1 180 1-38 1-155 1 59 1 69 1-70 1-43 1 32 1 55 1 28 1-56 1 48 1 85 1-65 1-97 1 38 1-61 1-11 1-16 1 42 1 101 1-134 1 60 1 90 1-112 1-20 1 160 1-209 1 8 1-25 1 22 1 13 1 49 1 72 1-50 1 42 1-103 1 165 1-86 1 120 1-213 1 75 1 93 1 13 1-84 1 79 1-181 1 115 1-56 1 117 1 99 1-170 1-87 1 272 1-200 1-27 1 49 1-18 1-86 1 113 1 23 1-69 1-62 1 1 1 8 1 157 1-99 1 13 1-34 1-5 1 46 1-86 1 33 1 7 1-47 1-5 1 121 1-23 1-79 1-19 1 62 1 147 1-172 1 154 1 9 1-184 1 35 1 11 1-37 1 99 1-57 1-5 1-110 1 7 1 50 1 23 1 22 1 14 1-31 1 74 1-70 1-20 1 56 1 118 1-111 1-12 1-32 1-11 1 52 1-28 1-42 1 19 1 15 1-53 1 102 1 46 1-41 1-7 1 81 1-80 1-94 1-22 1 115 1-84 1 160 1-209 1 134 1 148 1-206 1 28 1-33 1 7 1 45 1-27 1 24 1 81 1-188 1 149 1 72 1 53 1-83 1-154 1 130 1-72 1-22 1-18 1-35 1 55 1-60 1 238 1-152 1-5 1 71 1 26 1 33 1 16 1-179 1 14 1-15 1 158 1-104 1-65 1 65 1-47 1 9 1-90 1 47 1 289 1-200 1-40 1-31 1 171 1-85 1-123 1 118 1 238 1-73 1-211 1 264 1-277 1-36 1 87 1-167 1 242 1-207 1 151 1-101 1-15 1 135 1-100 1 234 1-193 1 191 1-221 1-25 1 184 1-139 1 67 1-143 1 175 1-120 1-18 1 88 1-95 1 102 1-44 1-29 1 67 1 122 1-171 1 218 1-222 1 49 1-17 1-63 1 13 1 33 1 25 1 88 1 61 1-127 1-10 1 60 1-97 1 10 1-17 1 84 1-96 1-13 1 6 1-13 1 28 1-22 1 94 1-95 1 118 1 169 1-123 1 135 1-220 1 47 1-110 1-84 1 168 1 53 1 48 1-82 1-27 1 3 1 107 1-61 1-112 1 52 1-45 1 200 1-192 1 97 1-98 1 12 1 23 1-9 1 8 1-21 1 159 1-134 1-45 1-19 1 26 1 33 1-20 1 21 1-7 1 27 1-94 1 23 1 38 1-50 1 130 1-136 1 1 1-8 1 96 1-25 1 50 1-86 1 56 1 106 1-168 1-74 1 42 1 50 1 47 1 67 1-109 1 63 1-169 1 77 1-30 1 12 1 22 1-15 1-40 1 282 1-134 1-71 1-75 1 80 1-13 1 19 1 171 1-80 1-138 1-27 1 26 1 47 1-69 1 81 1 0 1 122 1-165 1-22 1-38 1 70 1-51 1 35 1 65 1 2 1-8 1 28 1 54 1-165 1 95 1-17 1-34 1 15 1 2 1-54 1 190 1-122 1-99 1 11 1 57 1-20 1 55 1-162 1 79 1-43 1 22 1 9 1 266 1-247 1 14 1 177 1-119 1 45 1 60 1-146 1-57 1 67 1-36 1 8 1-1 1-40 1 205 1-36 1-49 1-43 1-4 1-28 1 41 1 25 1 16 1-51 1 23 1-10 1-57 1 19 1 62 1 61 1-95 1 49 1-77 1 61 1 48 1-38 1 127 1-3 1-60 1-126 1 132 1-151 1 48 1-48 1 3 1-68 1 8 1 37 1 25 1 32 1 48 1-101 1 61 1 109 1-120 1-21 1-1 1 45 1-23 1-27 1-29 1 111 1-68 1 6 1 97 1-67 1 120 1-152 1-39 1 174 1-56 1-63 1 11 1-91 1 31 1-15 1 43 1 76 1-106 1 66 1 77 1 11 1 5 1-190 1 50 1 95 1-6 1-26 1 66 1-15 1-119 1 18 1 12 1 83 1-67 1-4 1-55 1 37 1 87 1-50 1-18 1 6 1-58 1-4 1 67 1-8 1-52 1 30 1 43 1-65 1 27 1-16 1 10 1 37 1 76 1-77 1-1 1-43 1 128 1-112 1 14 1-14 1-20 1 171 1-168 1-37 1 37 1 6 1-3 1 26 1 28 1-39 1-35 1 38 1-26 1 136 1-161 1 38 1 4 1 2 1-2 1-24 1 50 1-13 1-35 1 66 1-36 1-23 1 11 1-8 1 11 1 38 1-54 1 31 1-41 1 4 1 52 1 129 1-150 1 26 1-88 1 5 1 58 1 39 1-52 1 86 1-60 1-69 1 118 1-121 1 21 1 50 1-83 1 338 1-236 1 66 1-142 1 99 1 68 1-92 1 153 1-68 1-126 1-32 1 280 1-323 1 29 1 31 1-5 1 11 1 25 1-24 1 29 1 58 1 1 1-25 1-11 1 115 1 37 1-252 1 182 1-44 1 98 1-89 1-16 1-5 1-75 1-45 1 86 1 47 1-132 1 26 1 33 1 22 1-30 1 285 1-90 1 14 1-67 1 73 1-11 1-169 1 9 1 20 1-29 1 30 1 54 1 228 1-10 1-144 1-107 1 89 1-208 1 26 1 50 1-94 1 88 1-74 1-21 1-30 1 48 1 96 1-6 1-73 1 226 1-210 1 118 1-149 1-5 1 58 1-40 1 59 1 4 1-61 1 159 1-89 1 108 1-3 1 100 1-31 1-69 1-172 1 110 1-82 1 94 1-120 1 114 1-81 1 162 1-145 1 5 1 52 1 85 1-227 1 13 1 133 1-52 1-18 1-21 1-59 1 109 1-52 1-3 1 132 1-27 1-66 1 25 1 3 1-90 1-46 1 1 1 136 1-24 1 119 1-181 1 68 1 50 1-76 1 36 1-7 1-18 1-53 1-1 1 5 1 66 1-105 1 37 1 229 1-211 1-28 1-28 1 4 1 16 1 104 1 2 1-40 1 1 1-26 1-22 1-48 1 196 1-25 1-109 1 30 1-14 1-42 1-6 1-1 1 135 1-106 1 25 1 127 1-90 1-1 1-59 1 35 1-20 1 34 1 69 1-145 1-29 1 3 1 59 1-5 1-25 1 22 1 25 1 136 1-98 1-108 1 128 1-32 1-147 1 11 1 48 1 7 1 59 1 42 1-57 1 85 1-50 1-88 1 20 1-45 1-69 1 16 1 16 1 62 1 18 1 103 1-91 1-30 1 67 1-9 1-35 1 66 1-43 1 24 1 4 1 24 1 50 1-99 1-57 1 101 1 55 1-161 1 51 1 162 1-39 1-64 1 26 1-53 1-24 1 89 1 59 1 27 1-37 1-34 1-97 1 34 1-42 1-34 1-20 1-6 1 34 1 90 1-51 1 43 1-46 1 22 1 73 1-13 1 41 1-165 1-39 1 34 1-2 1 66 1-37 1-22 1 81 1-10 1-93 1-39 1 147 1-162 1 40 1-30 1 26 1-26 1 65 1 91 1-15 1 110 1-249 1 187 1 27 1-120 1-72 1 200 1-157 1-57 1 208 1-142 1 73 1-86 1 46 1-36 1 156 1-219 1 126 1-72 1 59 1-123 1-11 1 42 1 8 1 32 1-51 1-50 1 36 1 177 1-153 1 66 1 54 1-129 1 136 1-128 1 32 1-12 1 155 1-70 1-15 1 33 1-31 1 81 1-42 1-65 1 78 1-115 1-52 1 17 1 25 1-2 1 12 1 24 1-14 1-24 1 33 1-26 1 71 1-93 1 139 1 16 1-122 1 2 1-33 1-11 1 57 1 37 1-20 1-19 1 35 1-106 1-4 1 163 1-183 1 140 1-68 1-12 1-10 1 19 1 41 1-21 1 191 1-242 1 99 1-24 1-85 1 170 1 27 1-71 1-77 1 157 1-72 1-110 1-44 1 113 1 70 1-112 1-37 1 137 1 210 1-362 1-35 1 209 1-78 1 233 1-181 1-95 1 148 1-167 1 195 1-169 1 231 1-153 1 132 1-212 1-35 1-18 1 1 1 41 1 100 1-150 1-8 1 198 1-170 1 233 1-88 1-55 1 172 1-263 1 70 1-120 1-21 1 48 1 46 1-6 1-57 1 66 1 251 1-212 1 40 1-65 1 14 1-24 1-25 1 28 1 20 1-59 1 25 1 57 1 12 1-77 1 16 1 99 1-28 1 153 1-104 1-82 1 24 1-53 1 104 1 15 1-23 1-69 1 15 1 36 1 132 1-35 1-170 1 161 1-61 1-49 1 24 1 26 1-110 1 226 1-167 1 37 1-99 1-8 1 160 1 105 1-260 1 177 1-40 1 46 1 47 1 73 1-157 1 14 1-18 1 268 1-49 1-128 1-235 1 109 1 260 1-145 1-121 1 122 1-198 1 198 1-91 1 35 1-81 1 162 1-145 1-64 1 32 1-60 1 55 1 48 1 113 1-159 1 32 1-93 1-4 1 22 1 36 1 14 1 104 1-142 1 37 1-9 1 170 1-49 1 67 1-53 1-8 1-20 1-159 1 125 1 25 1-15 1-37 1 45 1-129 1 160 1-89 1 128 1-86 1 30 1-131 1 102 1-100 1 35 1-27 1 75 1-76 1 38 1-76 1 21 1 10 1-27 1 107 1-81 1 194 1-220 1 198 1 90 1-118 1-134 1-29 1 3 1 42 1 60 1-30 1 160 1-146 1-5 1-20 1-47 1 28 1 104 1-50 1-19 1 123 1-148 1-41 1 25 1 41 1 12 1 15 1-46 1-42 1 72 1 21 1-8 1-102 1 146 1-81 1 3 1 16 1 22 1-71 1-39 1 34 1-18 1 49 1-55 1 5 1 76 1 83 1-110 1 134 1-146 1 19 1-65 1 12 1 25 1-16 1-61 1 36 1 17 1 103 1 51 1-88 1 68 1-22 1-24 1 43 1-22 1-72 1-48 1 36 1 43 1-23 1 16 1 57 1 0 1-19 1-105 1-37 1 38 1 31 1-59 1 49 1-44 1 58 1 5 1-32 1 84 1-75 1-41 1 79 1-50 1-3 1-66 1 33 1 36 1-49 1 1 1 75 1-37 1 94 1-61 1-32 1-13 1 16 1 24 1-26 1-16 1-4 1-30 1 129 1-1 1 26 1-90 1-9 1 49 1-75 1-35 1 32 1 45 1-18 1-33 1 146 1-125 1-14 1 61 1 47 1-26 1-80 1-16 1 51 1-67 1 40 1 37 1 18 1-30 1 19 1-34 1-50 1 9 1 140 1-45 1-41 1-61 1 11 1 7 1 46 1-26 1 70 1-44 1 46 1-4 1-73 1 80 1 1 1 103 1-194 1 14 1 167 1-16 1-38 1-27 1 34 1 2 1-34 1-33 1-52 1-36 1 42 1 291 1-323 1 233 1-115 1 27 1-29 1 92 1-137 1-33 1-37 1 34 1-30 1 40 1 6 1 136 1-118 1-17 1-40 1-25 1-4 1 22 1 26 1-37 1 177 1-208 1 14 1-2 1-24 1 30 1 54 1 78 1-146 1 55 1 252 1-257 1 7 1-107 1 164 1-6 1-38 1 71 1-51 1 176 1-255 1 49 1 48 1 8 1-61 1 88 1 38 1-117 1-47 1 66 1 127 1 24 1-93 1-15 1-99 1 50 1 53 1 41 1-52 1 131 1 28 1-128 1 33 1 73 1-201 1-47 1 33 1-44 1-5 1 46 1 202 1 40 1-57 1-46 1-38 1 78 1-167 1-34 1 18 1 75 1 9 1 241 1-57 1-249 1 141 1-186 1 12 1 31 1-17 1 218 1-150 1-20 1-50 1 97 1-22 1-101 1 67 1-76 1 31 1 184 1-73 1-162 1 147 1-121 1-1 1 145 1 98 1-129 1 14 1-157 1 28 1 209 1-91 1-19 1-47 1 105 1-63 1 27 1-13 1-110 1 290 1-182 1 172 1 63 1-312 1 79 1 34 1 5 1-98 1 24 1 205 1-7 1-34 1 33 1-201 1-30 1 114 1 41 1-90 1 100 1-99 1 221 1-111 1-126 1-10 1 68 1-69 1 27 1 17 1 54 1 127 1-276 1 103 1-17 1 97 1 41 1-31 1-78 1-116 1 100 1 55 1-11 1-94 1 11 1-43 1 50 1-76 1 60 1-5 1-20 1-42 1 214 1-132 1 14 1-33 1-11 1-16 1 69 1 55 1-23 1-31 1 100 1 38 1 17 1-158 1-52 1 253 1-98 1-58 1-34 1 11 1-3 1-23 1 135 1 58 1-208 1 302 1-86 1 80 1-82 1-208 1 109 1 17 1-140 1-60 1 24 1 53 1-44 1-73 1 319 1-220 1 11 1 102 1-170 1 49 1 54 1-11 1 21 1-85 1 94 1-27 1-23 1 224 1-180 1 98 1 13 1-175 1 375 1-313 1-15 1-42 1-1 1 73 1 70 1 58 1-215 1 23 1 103 1 42 1 38 1-72 1 10 1-113 1-3 1-14 1-8 1-21 1 67 1-15 1-40 1 63 1 29 1-131 1-11 1 2 1 27 1-38 1 132 1-87 1 157 1-82 1 49 1-150 1 82 1-42 1 1 1 84 1-99 1 51 1-95 1-5 1 233 1-91 1-129 1 155 1 16 1-86 1 91 1-179 1 141 1-110 1 2 1 160 1-119 1 98 1-93 1-29 1 128 1-62 1 54 1-46 1-26 1-36 1-13 1-7 1 15 1 120 1-105 1 123 1 26 1 1 1 14 1-73 1-144 1 9 1 5 1-9 1 130 1 61 1-106 1 81 1-107 1 120 1-27 1-103 1 145 1-169 1-8 1 25 1 11 1 33 1 16 1-85 1 112 1-40 1-7 1 26 1-103 1-24 1 54 1-50 1-16 1 234 1-79 1-26 1 83 1 30 1-213 1-17 1 40 1 164 1-206 1 23 1-19 1 193 1 6 1-105 1-23 1 27 1 147 1-114 1 91 1-171 1 97 1-121 1 87 1 5 1-19 1-122 1-21 1 214 1-98 1-50 1 0 1 32 1 24 1 39 1 77 1-85 1-88 1 4 1 100 1-99 1 130 1-83 1-49 1 52 1 133 1-106 1 2 1-65 1 91 1-85 1-18 1 98 1 31 1-89 1 44 1 93 1-164 1 128 1-38 1 22 1 124 1-195 1-78 1-34 1 73 1 104 1 30 1-62 1-92 1 62 1 22 1 48 1 54 1-146 1 96 1-100 1 86 1-69 1 106 1 73 1 20 1 60 1-144 1-47 1-65 1 41 1-26 1-8 1 34 1 57 1-90 1-93 1-9 1 44 1-25 1 133 1-42 1-123 1 120 1-66 1 443 1-501 1 91 1 381 1-171 1-112 1 11 1 14 1 27 1-21 1-71 1-80 1 5 1 68 1 109 1-181 1-24 1 171 1-158 1 65 1 18 1-66 1 23 1-8 1 219 1-2 1-134 1-64 1 140 1-167 1-6 1 153 1-90 1-62 1 38 1-13 1-69 1 9 1 199 1-56 1 58 1-85 1 51 1-94 1-57 1 125 1-181 1 321 1-62 1-104 1-133 1 235 1-265 1 10 1 61 1-11 1 16 1-8 1 71 1 20 1 56 1 106 1-263 1-13 1 195 1-7 1-30 1 65 1-126 1-59 1 113 1-49 1-140 1 55 1 249 1-216 1 297 1-133 1-24 1-77 1-87 1-29 1 72 1-95 1 73 1 107 1-122 1-31 1 88 1-47 1 312 1-200 1-134 1-39 1 8 1 462 1-363 1 202 1-114 1-16 1 37 1-37 1 118 1-289 1 70 1 16 1 122 1-93 1 68 1-78 1-101 1 91 1 81 1-60 1 10 1-123 1 13 1-23 1 74 1-38 1 86 1 228 1-249 1 88 1-179 1 30 1 59 1-44 1-64 1 3 1 22 1 69 1-71 1-17 1 40 1 190 1 45 1-124 1-80 1-19 1-30 1 18 1 3 1-41 1 62 1-31 1-28 1 213 1-117 1-29 1-26 1-55 1 50 1-30 1 95 1 63 1-55 1 25 1-57 1-74 1 69 1 74 1-124 1 29 1-92 1 2 1 58 1-37 1-6 1-5 1 69 1-38 1-18 1 20 1-36 1 122 1 126 1-187 1 59 1-51 1-24 1 7 1 125 1-126 1-37 1-14 1 39 1 84 1 55 1-25 1-187 1 5 1 2 1 0 1 34 1 63 1-8 1-37 1-14 1 32 1 14 1-24 1-9 1 44 1 47 1 10 1 122 1-186 1 0 1-10 1 39 1-47 1 21 1 9 1-6 1 47 1 93 1-52 1 82 1-178 1-43 1 56 1 29 1 39 1-81 1 41 1 22 1-7 1 55 1-81 1-9 1-21 1 83 1-53 1 4 1-40 1 26 1-55 1-7 1 154 1-166 1-12 1 20 1 53 1 76 1-111 1 3 1-18 1 60 1-1 1 5 1 32 1 70 1-129 1 146 1-109 1 16 1 0 1 30 1-50 1-52 1 166 1-22 1-52 1-61 1-3 1 42 1-33 1-32 1 22 1 144 1-124 1 43 1 53 1-110 1-53 1 43 1 21 1-40 1 24 1 3 1-19 1 17 1-54 1 184 1-69 1 43 1-79 1-63 1-6 1-19 1 29 1 21 1 31 1 107 1-47 1-19 1-79 1 131 1 125 1-243 1 156 1-100 1 84 1-69 1 203 1-151 1-112 1 138 1-13 1 96 1-176 1 279 1-272 1 118 1-221 1 106 1 59 1-52 1 192 1-239 1 138 1-14 1-19 1-59 1-40 1-28 1-8 1 42 1 43 1 140 1-106 1-11 1 11 1-23 1-109 1 1 1 117 1 126 1-83 1 8 1-18 1-101 1 122 1-166 1-16 1 46 1-13 1-56 1 136 1-13 1 11 1 143 1-137 1-16 1-94 1 105 1-142 1 39 1 304 1-58 1-38 1-162 1-44 1 13 1 100 1 25 1-85 1-18 1 12 1 39 1-89 1 86 1 25 1-10 1 63 1-16 1 59 1-68 1 5 1-139 1 124 1 32 1 228 1 10 1-219 1-67 1 97 1 128 1-16 1-196 1-167 1 119 1 201 1-227 1 96 1-31 1 93 1-2 1-45 1-19 1 8 1-13 1-32 1-3 1-24 1-50 1 158 1-112 1-2 1 20 1 199 1-113"/>
</g>
<g class="chart">
<g class="ax">
<path d="M598.90,215.90V211.50H1045.30V215.90"/>
<line x1="623.69" x2="623.69" y1="211.50" y2="215.90"/><text x="623.69" y="224.20" text-anchor="middle">1962</text>
<line x1="673.27" x2="673.27" y1="211.50" y2="215.90"/><text x="673.27" y="224.20" text-anchor="middle">1964</text>
<line x1="722.91" x2="722.91" y1="211.50" y2="215.90"/><text x="722.91" y="224.20" text-anchor="middle">1966</text>
<line x1="772.49" x2="772.49" y1="211.50" y2="215.90"/><text x="772.49" y="224.20" text-anchor="middle">1968</text>
<line x1="822.13" x2="822.13" y1="211.50" y2="215.90"/><text x="822.13" y="224.20" text-anchor="middle">1970</text>
<line x1="871.71" x2="871.71" y1="211.50" y2="215.90"/><text x="871.71" y="224.20" text-anchor="middle">1972</text>
<line x1="921.36" x2="921.36" y1="211.50" y2="215.90"/><text x="921.36" y="224.20" text-anchor="middle">1974</text>
<line x1="970.93" x2="970.93" y1="211.50" y2="215.90"/><text x="970.93" y="224.20" text-anchor="middle">1976</text>
<line x1="1020.58" x2="1020.58" y1="211.50" y2="215.90"/><text x="1020.58" y="224.20" text-anchor="middle">1978</text>
<text x="833.70" y="238.00" text-anchor="middle" style="font-size:8.9px">DATE</text>
<path d="M594.50,18.00H598.90V211.50H594.50"/>
<line x1="594.50" x2="598.90" y1="211.50" y2="211.50"/><text x="592.90" y="214.80" text-anchor="end" style="font-size:9.6px">0</text>
<line x1="594.50" x2="598.90" y1="189.26" y2="189.26"/><text x="592.90" y="192.56" text-anchor="end" style="font-size:9.6px">10</text>
<line x1="594.50" x2="598.90" y1="167.02" y2="167.02"/><text x="592.90" y="170.32" text-anchor="end" style="font-size:9.6px">20</text>
<line x1="594.50" x2="598.90" y1="144.78" y2="144.78"/><text x="592.90" y="148.08" text-anchor="end" style="font-size:9.6px">30</text>
<line x1="594.50" x2="598.90" y1="122.53" y2="122.53"/><text x="592.90" y="125.83" text-anchor="end" style="font-size:9.6px">40</text>
<line x1="594.50" x2="598.90" y1="100.29" y2="100.29"/><text x="592.90" y="103.59" text-anchor="end" style="font-size:9.6px">50</text>
<line x1="594.50" x2="598.90" y1="78.05" y2="78.05"/><text x="592.90" y="81.35" text-anchor="end" style="font-size:9.6px">60</text>
<line x1="594.50" x2="598.90" y1="55.81" y2="55.81"/><text x="592.90" y="59.11" text-anchor="end" style="font-size:9.6px">70</text>
<line x1="594.50" x2="598.90" y1="33.57" y2="33.57"/><text x="592.90" y="36.87" text-anchor="end" style="font-size:9.6px">80</text>
<text transform="translate(559.40,97.70) rotate(-90)" text-anchor="end">RAIN</text>
</g>
<path class="ln" vector-effect="non-scaling-stroke" transform="translate(598.900,211.500) scale(0.067914,-0.111207)" d="M0 430l1-250 1-176 1-4 1 0 1 0 1 39 1-39 1 5 1-5 1 0 1 0 1 0 1 0 1 430 1-430 1 14 1-14 1 64 1-39 1-25 1 0 1 24 1-7 1 34 1-41 1-10 1 0 1 11 1-11 1 0 1 0 1 0 1 0 1 0 1 0 1 0 1 0 1 0 1 28 1-28 1 22 1-22 1 0 1 3 1 3 1 133 1-105 1 48 1-7 1-20 1-42 1 3 1 3 1-4 1-15 1 7 1-7 1 0 1 0 1 6 1 56 1-62 1 0 1 0 1 0 1 0 1 75 1-75 1 0 1 0 1 0 1 0 1 0 1 0 1 0 1 17 1-3 1-14 1 0 1 0 1 44 1-40 1-4 1 0 1 90 1 23 1-64 1-38 1-7 1-4 1 2 1-2 1 0 1 6 1 72 1-52 1 11 1-35 1 65 1-14 1 44 1-94 1 13 1-14 1-2 1 2 1-2 1 5 1 341 1-326 1-9 1-11 1 0 1 1 1-1 1 41 1 9 1 53 1-92 1 5 1 15 1-23 1 2 1 3 1 4 1-17 1 0 1 6 1 26 1 18 1-13 1-37 1 0 1 0 1 0 1 44 1-43 1 57 1-57 1-1 1 165 1-133 1-32 1 0 1 19 1 191 1-197 1-10 1 97 1-88 1-12 1 46 1-38 1 16 1-21 1-3 1 25 1 44 1-69 1 0 1 29 1 171 1-199 1-1 1 24 1-24 1 0 1 17 1-9 1-8 1 0 1 63 1-63 1 7 1 130 1-38 1-99 1 0 1 0 1 0 1 0 1 0 1 426 1-426 1 0 1 0 1 0 1 0 1 0 1 3 1 38 1 6 1-47 1 0 1 12 1-12 1 0 1 0 1 15 1-15 1 2 1-2 1 0 1 4 1-2 1-2 1 0 1 9 1-9 1 0 1 301 1-296 1 22 1 10 1-17 1-20 1 7 1-7 1 0 1 0 1 6 1-6 1 0 1 0 1 0 1 0 1 0 1 58 1 112 1-170 1 0 1 13 1 50 1-55 1 58 1 18 1-32 1-20 1-32 1 24 1-24 1 29 1-29 1 0 1 10 1 13 1 3 1-13 1 9 1-22 1 0 1 11 1 20 1-5 1-26 1 0 1 10 1-1 1-9 1 0 1 56 1-54 1 32 1-34 1 152 1-123 1-3 1 615 1-641 1 27 1-27 1 0 1 3 1 32 1 81 1-103 1 12 1-6 1 35 1 5 1-59 1 0 1 0 1 0 1 336 1-336 1 0 1 0 1 12 1 5 1-17 1 0 1 0 1 30 1-18 1-12 1 4 1-4 1 30 1 10 1-40 1 0 1 0 1 3 1 12 1 18 1-33 1 0 1 0 1 9 1 35 1-44 1 20 1 132 1-50 1-102 1 0 1 46 1 4 1 303 1-339 1-14 1 0 1 0 1 15 1-15 1 0 1 21 1-21 1 0 1 0 1 0 1 0 1 34 1-20 1 1 1 26 1 18 1 80 1-139 1 0 1 3 1-3 1 70 1-52 1-18 1 30 1-30 1 29 1-29 1 44 1-37 1-7 1 0 1 0 1 166 1-166 1 1 1 123 1-124 1 0 1 0 1 136 1-120 1-10 1 201 1-134 1-73 1 13 1-8 1-5 1 37 1 122 1-159 1 11 1 55 1-66 1 0 1 0 1 18 1-18 1 0 1 0 1 118 1-94 1 30 1-20 1 0 1 30 1-64 1 0 1 160 1-160 1 0 1 49 1 45 1-15 1 9 1-63 1 6 1-20 1 14 1 0 1 17 1-35 1 20 1 70 1-97 1 92 1-9 1-80 1 13 1 14 1-8 1-20 1 9 1-11 1 0 1 3 1-3 1 18 1 30 1 29 1-66 1-11 1 282 1-282 1 1 1-1 1 22 1 10 1-30 1 6 1-8 1 48 1-11 1-31 1-6 1 25 1-23 1 53 1-55 1 0 1 26 1-26 1 0 1 16 1 50 1-5 1-55 1 11 1-17 1 0 1 0 1 0 1 0 1 99 1-99 1 2 1-2 1 0 1 0 1 57 1-57 1 19 1-9 1 148 1-55 1-64 1 65 1-78 1-17 1 47 1-56 1 0 1 0 1 0 1 3 1 2 1 175 1-17 1-156 1 122 1-129 1 0 1 0 1 62 1 1 1-63 1 96 1-96 1 3 1-3 1 19 1-15 1 536 1-540 1 34 1 156 1-154 1-36 1 2 1-2 1 0 1 7 1 23 1 50 1-50 1-30 1 0 1 0 1 0 1 0 1 0 1 99 1-80 1 166 1-76 1 9 1-90 1-28 1 42 1 130 1-67 1-80 1 9 1-23 1-11 1 0 1 0 1 60 1-38 1-21 1 126 1-115 1-4 1 1 1 25 1 165 1-199 1 38 1-38 1 0 1 0 1 0 1 0 1 15 1-15 1 59 1 20 1-54 1 16 1 87 1-123 1-5 1 18 1-18 1 0 1 495 1-495 1 34 1-20 1-8 1-5 1 20 1 10 1-31 1 0 1 75 1 127 1-169 1 45 1-21 1 19 1-10 1-46 1 78 1-73 1-5 1-19 1 38 1 102 1-137 1 220 1-224 1 0 1 0 1 13 1 12 1 42 1-67 1 24 1-24 1 1 1 10 1 25 1 137 1-114 1-59 1 0 1 0 1 5 1-5 1 0 1 0 1 0 1 4 1-4 1 0 1 0 1 0 1 0 1 0 1 40 1 22 1 310 1-317 1-41 1-14 1 0 1 39 1 113 1-152 1 0 1 0 1 0 1 1 1-1 1 7 1 1 1 390 1-340 1-37 1 21 1 3 1-29 1 83 1-95 1-4 1 0 1 3 1 157 1-149 1 0 1-11 1 16 1-16 1 7 1 22 1-29 1 164 1-155 1 6 1-15 1 170 1-124 1 30 1-68 1 37 1 14 1-59 1 30 1 33 1 93 1-124 1-32 1 28 1-14 1 216 1-224 1-6 1 0 1 0 1 0 1 0 1 0 1 29 1 163 1-192 1 33 1-33 1 6 1 8 1-14 1 0 1 0 1 47 1 93 1-6 1-75 1-59 1 0 1 4 1-4 1 93 1-64 1-12 1 24 1 19 1-60 1 379 1-379 1 0 1 27 1-24 1 82 1-15 1-56 1 105 1-119 1 8 1-8 1 0 1 41 1-41 1 0 1 111 1-78 1-23 1 4 1-14 1 166 1-88 1-78 1 0 1 256 1-256 1 0 1 13 1-13 1 0 1 3 1-3 1 0 1 0 1 11 1 23 1 45 1-79 1 30 1-25 1-5 1 0 1 0 1 0 1 10 1-7 1-3 1 38 1-38 1 37 1-37 1 0 1 0 1 0 1 0 1 0 1 1 1 43 1 597 1-607 1-34 1 0 1 0 1 0 1 0 1 9 1 1 1 19 1-21 1 2 1 18 1-3 1 13 1 148 1-186 1 0 1 124 1-124 1 5 1-5 1 0 1 0 1 0 1 4 1 4 1 92 1-66 1 23 1-53 1-4 1 19 1-19 1 21 1-21 1 46 1-46 1 0 1 0 1 0 1 0 1 372 1-323 1 90 1-93 1-40 1-6 1 0 1 0 1 18 1 40 1-58 1 21 1-21 1 8 1 50 1-58 1 0 1 27 1-1 1 9 1-13 1-6 1-5 1 45 1-52 1-4 1 0 1 0 1 19 1 186 1-177 1-28 1 0 1 0 1 28 1 35 1-63 1 0 1 35 1 28 1-37 1 56 1-41 1-30 1-11 1 0 1 58 1-55 1 36 1-35 1-1 1-3 1 29 1 173 1-202 1 11 1-11 1 44 1 4 1-48 1 1 1-1 1 3 1 10 1 53 1-16 1-22 1-28 1 0 1 9 1-8 1-1 1 0 1 36 1 3 1-11 1-28 1 2 1-2 1 0 1 1 1 1 1 106 1-77 1 348 1-312 1-64 1-3 1 0 1 11 1 38 1-49 1 0 1 0 1 56 1-11 1-45 1 41 1 89 1-130 1 0 1 0 1 0 1 0 1 0 1 1 1-1 1 0 1 15 1-15 1 3 1-3 1 0 1 46 1 5 1 3 1 99 1-145 1 215 1-110 1-113 1 62 1-62 1 0 1 18 1-18 1 0 1 0 1 0 1 13 1-13 1 5 1 9 1 15 1 41 1 34 1-104 1 0 1 0 1 0 1 42 1-42 1 0 1 0 1 0 1 0 1 0 1 141 1 752 1-893 1 176 1-176 1 0 1 14 1 51 1 4 1 54 1-63 1-44 1-16 1 0 1 0 1 53 1-5 1-9 1-39 1 0 1 23 1 55 1-78 1 41 1-24 1 140 1-6 1-147 1-4 1 38 1-38 1 5 1-5 1 19 1-19 1 0 1 21 1 14 1-27 1-8 1 15 1-15 1 73 1 248 1-315 1-3 1 65 1 24 1-43 1-26 1-23 1 25 1-25 1 0 1 120 1-92 1 74 1-90 1-12 1 0 1 82 1-76 1-6 1 0 1 46 1-46 1 0 1 45 1-44 1 25 1 20 1-46 1 6 1 52 1-8 1-50 1 0 1 0 1 7 1 56 1-58 1 18 1-20 1 324 1-279 1-3 1-34 1-11 1 0 1 18 1 115 1-133 1 17 1-17 1 0 1 22 1-22 1 0 1 76 1-10 1 164 1-204 1-26 1 49 1-43 1-6 1 0 1 0 1 0 1 0 1 0 1 8 1-8 1 0 1 1 1 99 1-82 1-18 1 37 1-11 1-26 1 12 1 185 1-193 1 8 1-12 1 0 1 0 1 3 1-1 1-1 1-1 1 0 1 4 1-4 1 46 1 132 1 20 1-136 1-44 1 12 1-30 1 2 1-2 1 10 1 26 1 57 1-71 1 26 1-48 1 8 1 33 1 0 1 9 1-40 1-6 1-4 1 0 1 0 1 0 1 0 1 0 1 13 1-13 1 0 1 0 1 11 1 72 1-83 1 0 1 60 1-34 1-26 1 0 1 0 1 126 1-69 1-55 1-2 1 0 1 0 1 4 1 59 1 11 1 74 1-119 1-29 1 110 1-49 1-54 1 1 1 1 1 43 1-23 1 48 1 48 1-122 1 27 1-30 1 13 1-1 1 100 1-53 1-59 1 0 1 0 1 59 1-35 1-15 1 4 1-13 1 0 1 1 1-1 1 8 1-3 1 322 1-327 1 196 1-80 1-116 1 7 1 67 1-45 1-29 1 4 1 4 1-8 1 0 1 11 1-11 1 0 1 0 1 0 1 3 1 12 1 23 1-38 1 51 1-51 1 3 1 10 1 108 1-121 1 0 1 0 1 0 1 14 1-14 1 0 1 0 1 25 1-25 1 0 1 11 1-11 1 5 1 45 1-50 1 25 1-25 1 0 1 30 1-30 1 52 1-34 1 14 1 0 1-32 1 20 1 38 1-34 1-24 1 134 1-91 1-36 1-7 1 14 1 23 1 57 1-94 1 42 1 11 1-23 1 90 1-61 1-53 1 13 1 29 1-2 1-46 1 12 1 4 1-16 1 55 1-28 1-7 1-20 1 163 1-139 1-5 1 31 1-50 1 5 1 9 1-14 1 57 1-57 1 0 1 0 1 0 1 0 1 0 1 15 1 79 1-94 1 0 1 35 1-35 1 0 1 0 1 61 1-48 1-13 1 12 1-12 1 0 1 0 1 45 1-45 1 0 1 0 1 14 1-14 1 0 1 97 1-81 1 38 1 117 1-158 1-9 1-4 1 0 1 0 1 0 1 0 1 19 1-6 1-4 1-9 1 0 1 3 1 75 1-59 1-19 1 0 1 0 1 0 1 0 1 18 1-18 1 14 1-8 1-6 1 0 1 3 1-3 1 13 1 475 1-488 1 0 1 86 1-49 1-27 1 144 1-154 1 0 1 0 1 12 1 111 1-78 1-45 1 44 1 6 1-50 1 65 1 29 1-87 1 79 1-30 1-56 1 14 1-14 1 0 1 4 1 10 1-10 1 5 1 3 1-2 1 336 1-319 1-8 1-14 1 23 1 1 1-29 1 0 1 0 1 28 1 39 1-67 1 0 1 26 1-14 1 105 1-57 1 23 1-41 1 79 1-117 1 0 1-2 1 489 1-491 1 4 1 31 1 0 1-34 1-1 1 0 1 64 1 10 1-24 1-50 1 8 1-8 1 0 1 0 1 0 1 0 1 0 1 0 1 0 1 0 1 13 1-13 1 0 1 12 1-8 1 117 1 36 1-110 1-39 1-8 1 34 1-34 1 4 1 0 1-4 1 163 1-78 1-15 1-49 1-17 1-4 1 0 1 0 1 0 1 1 1 17 1-8 1 4 1-14 1 27 1-16 1 39 1 40 1-33 1-57 1 0 1 10 1-10 1 0 1 0 1 0 1 1 1-1 1 0 1 0 1 0 1 372 1-372 1 10 1 14 1 33 1-57 1 16 1 38 1 24 1-62 1 21 1-2 1-35 1 0 1 0 1 0 1 0 1 0 1 0 1 0 1 0 1 36 1-15 1-17 1 20 1-13 1 42 1-31 1-22 1 22 1-15 1 641 1-609 1-28 1 11 1-22 1 0 1 0 1 0 1 0 1 0 1 0 1 0 1 2 1-2 1 0 1 0 1 0 1 1 1-1 1 0 1 11 1-11 1 0 1 13 1-10 1 25 1-28 1 0 1 43 1 21 1-64 1 0 1 0 1 65 1-56 1-9 1 14 1 31 1-40 1 64 1 7 1-76 1 30 1 61 1-36 1-3 1-52 1 17 1-17 1 71 1-56 1-14 1-1 1 0 1 0 1 34 1 97 1-50 1-60 1 13 1-24 1 79 1-45 1-14 1-30 1 2 1 5 1 69 1-76 1 0 1 0 1 18 1-18 1 0 1 0 1 62 1-58 1-4 1 15 1-10 1 21 1 34 1 97 1-140 1 60 1 128 1-205 1 26 1 26 1-52 1 0 1 12 1-12 1 0 1 22 1-20 1 33 1 19 1-54 1 19 1-19 1 26 1 8 1-34 1 0 1 0 1 0 1 0 1 0 1 0 1 25 1-15 1-10 1 0 1 0 1 42 1-32 1 19 1 26 1 33 1-88 1 0 1 0 1 0 1 47 1-3 1-44 1 0 1 0 1 10 1-10 1 0 1 72 1-7 1-30 1-2 1-33 1 353 1-353 1 13 1 4 1-17 1 0 1 0 1 0 1 21 1 41 1-62 1 0 1 0 1 11 1-11 1 71 1 58 1 204 1-251 1 46 1-99 1-19 1-10 1 4 1-4 1 19 1 68 1-26 1-61 1 13 1 8 1-10 1-5 1 152 1-109 1-44 1-5 1 0 1 0 1 6 1 4 1-10 1 0 1 0 1 3 1-3 1 0 1 366 1-354 1 19 1 8 1 108 1-117 1-6 1-22 1-2 1 0 1 15 1-15 1 0 1 0 1 0 1 0 1 0 1 321 1-321 1 0 1 7 1-7 1 0 1 34 1-23 1 55 1-66 1 28 1-28 1 0 1 0 1 0 1 14 1-13 1-1 1 0 1 0 1 9 1 39 1-26 1-22 1 48 1-27 1-21 1 0 1 66 1-50 1 74 1 31 1-91 1-30 1 82 1-39 1 47 1-82 1-8 1 0 1 0 1 0 1 0 1 75 1 18 1-93 1 11 1 36 1 461 1-508 1 10 1 11 1 24 1 72 1-43 1-74 1 16 1 25 1-34 1-7 1 2 1 38 1-26 1-3 1-11 1 0 1 0 1 0 1 18 1-18 1 14 1 22 1-36 1 11 1-10 1 11 1-12 1 10 1-2 1 49 1-21 1-30 1 11 1 9 1-4 1-22 1 0 1 0 1 23 1 5 1 27 1-48 1 43 1-36 1 63 1-73 1-4 1 0 1 0 1 0 1 0 1 1047 1-1010 1-37 1 0 1 35 1-35 1 0 1 0 1 0 1 63 1-52 1 29 1-2 1-38 1 0 1 559 1-558 1-1 1 0 1 31 1-9 1-22 1 25 1 9 1-34 1 4 1 6 1-7 1-3 1 145 1 19 1-143 1 46 1-39 1-28 1 14 1 7 1 44 1-65 1 0 1 31 1-31 1 60 1-60 1 0 1 5 1 55 1-60 1 70 1-70 1 0 1 59 1 15 1-74 1 14 1-14 1 29 1 526 1-555 1 14 1 21 1-31 1-4 1 10 1 90 1 17 1-117 1 73 1-66 1 122 1-128 1-1 1 50 1 131 1-162 1 37 1-56 1 57 1-29 1 2 1 13 1-42 1-1 1 0 1 41 1 24 1-13 1-14 1 18 1 38 1-66 1-28 1 0 1 25 1-20 1-5 1 0 1 7 1 16 1 317 1-340 1 0 1 55 1-55 1 0 1 0 1 0 1 58 1-58 1 0 1 0 1 8 1-8 1 0 1 43 1-31 1-10 1-2 1 133 1-103 1-25 1-5 1 0 1 1 1 55 1-8 1-38 1-2 1 49 1-22 1 4 1-25 1-14 1 0 1 0 1 29 1 3 1 321 1-353 1 0 1 1 1-1 1 0 1 0 1 24 1-1 1 6 1 56 1-85 1 44 1 69 1-38 1 304 1-379 1 22 1 68 1-73 1-17 1 36 1-36 1 5 1 49 1-54 1 0 1 14 1-14 1 44 1-44 1 0 1 25 1-25 1 0 1 37 1-37 1 0 1 0 1 85 1-85 1 69 1-69 1 1 1-1 1 43 1-43 1 0 1 0 1 45 1 17 1-5 1 100 1-108 1-49 1 0 1 12 1-12 1 5 1-5 1 58 1-51 1-7 1 0 1 0 1 37 1-23 1-14 1 0 1 88 1 814 1-874 1-13 1 16 1 19 1-32 1 14 1-10 1 1 1 23 1 39 1-85 1 8 1 10 1-18 1 462 1-432 1-30 1 11 1-11 1 5 1 25 1 43 1-73 1 6 1 47 1-53 1 23 1-23 1 139 1-108 1-16 1-15 1 69 1-51 1 20 1-38 1 1 1-1 1 37 1-35 1-2 1 9 1 19 1-28 1 2 1-2 1 0 1 0 1 52 1-20 1-23 1-9 1 0 1 58 1-6 1 101 1-86 1-53 1 49 1-39 1-20 1 40 1-32 1-12 1 14 1 7 1 45 1-66 1 0 1 0 1 22 1 292 1-314 1 118 1-118 1 0 1 0 1 0 1 20 1-20 1 32 1-32 1 0 1 0 1 12 1-12 1 0 1 0 1 126 1-125 1-1 1 38 1-14 1 62 1-53 1-33 1 0 1 15 1-3 1-12 1 18 1 43 1-15 1-2 1-4 1-39 1-1 1 14 1-11 1 12 1 56 1-55 1 8 1 309 1-333 1 1 1 40 1-10 1-31 1 0 1 24 1-24 1 10 1 3 1 5 1 172 1-117 1 106 1 354 1-524 1 0 1 78 1-50 1 123 1-160 1 0 1 0 1 0 1 82 1-43 1-39 1 0 1 0 1 0 1 11 1 10 1-21 1 19 1-19 1 0 1 0 1 25 1-25 1 0 1 0 1 43 1-43 1 0 1 0 1 36 1 3 1-29 1-10 1 71 1 10 1-81 1 0 1 0 1 43 1-43 1 5 1 23 1 31 1-19 1-38 1 1 1 162 1-63 1-82 1 3 1 93 1 334 1-433 1-17 1 0 1 3 1 28 1-18 1 47 1-8 1-46 1-6 1 0 1 0 1 0 1 25 1-6 1 14 1-15 1 5 1-23 1 34 1 63 1-66 1 4 1 74 1-5 1-104 1 4 1 20 1 17 1-41 1 0 1 0 1 101 1-40 1-61 1 0 1 5 1-5 1 0 1 0 1 0 1 0 1 0 1 0 1 0 1 0 1 0 1 12 1-12 1 8 1 2 1 49 1-46 1 6 1-5 1 33 1 12 1 0 1-55 1-4 1 15 1 16 1-31 1 17 1 35 1-52 1 25 1 27 1 22 1-44 1 52 1-82 1 7 1-7 1 0 1 648 1-648 1 0 1 0 1 0 1 0 1 0 1 75 1-75 1 48 1-36 1 21 1-31 1 12 1 3 1-17 1 0 1 7 1-7 1 0 1 14 1-14 1 0 1 0 1 11 1-11 1 0 1 0 1 3 1 3 1-6 1 0 1 12 1-12 1 0 1 0 1 263 1-148 1-95 1-20 1 15 1-15 1 41 1 27 1-68 1 66 1-8 1 47 1-54 1 43 1-37 1-57 1 0 1 0 1 0 1 0 1 20 1 11 1 55 1-59 1 3 1-29 1 21 1-20 1-2 1 0 1 86 1 41 1-79 1-48 1 0 1 0 1 0 1 0 1 0 1 15 1-15 1 15 1 293 1-269 1-39 1 9 1 11 1 115 1-66 1 117 1-54 1 21 1-144 1-9 1 47 1-40 1-7 1 0 1 0 1 0 1 73 1-73 1 53 1 14 1-67 1 65 1-60 1-5 1 0 1 23 1-23 1 0 1 0 1 0 1 0 1 30 1-30 1 0 1 0 1 11 1-11 1 0 1 0 1 9 1-7 1 79 1-81 1 2 1 60 1-30 1-21 1 58 1-42 1 28 1-1 1-22 1-32 1 0 1 19 1-19 1 26 1-10 1-1 1 93 1-79 1 292 1-286 1-35 1 20 1 31 1 72 1-123 1 33 1-33 1 0 1 0 1 0 1 0 1 0 1 0 1 0 1 30 1-30 1 0 1 0 1 23 1 24 1 30 1-77 1 0 1 0 1 32 1-2 1-30 1 99 1-99 1 0 1 53 1-53 1 0 1 29 1 397 1-426 1 0 1 19 1 23 1 15 1-57 1 99 1-13 1-80 1 7 1-13 1 4 1 34 1-38 1 0 1 0 1 12 1-9 1 2 1-5 1 404 1-370 1-34 1 50 1-50 1 33 1 66 1-87 1 0 1 1 1 43 1 19 1-62 1 61 1-42 1-32 1 0 1 25 1 14 1 17 1-56 1 0 1 0 1 0 1 0 1 0 1 0 1 0 1 23 1 37 1 129 1-107 1-26 1-56 1 40 1-26 1 4 1-4 1 539 1-466 1 26 1 9 1-107 1-15 1 0 1 86 1-70 1-16 1 0 1 391 1-298 1-19 1-20 1 44 1-15 1-59 1-24 1 0 1 0 1 0 1 0 1 58 1-3 1-45 1 12 1-22 1 53 1-51 1 11 1-13 1 40 1-39 1 58 1-52 1-7 1 0 1 46 1-14 1-24 1 67 1 48 1-106 1-17 1 6 1 10 1 69 1 55 1-140 1 0 1 0 1 0 1 0 1 0 1 54 1-15 1-31 1-8 1 3 1 2 1 33 1-13 1 17 1-16 1-11 1 58 1-11 1-29 1-23 1 72 1-61 1-21 1 0 1 10 1-10 1 6 1 49 1 69 1-124 1 0 1 2 1 1 1-3 1 0 1 555 1-555 1 0 1 31 1 119 1-81 1-12 1-7 1-42 1 35 1 6 1 118 1-167 1 23 1-23 1 0 1 0 1 171 1-70 1-53 1-37 1-11 1 0 1 0 1 0 1 16 1-16 1 0 1 0 1 40 1 94 1 71 1-173 1-30 1-2 1 15 1-15 1 38 1-2 1 160 1-181 1 3 1-18 1 29 1 25 1-41 1 15 1-28 1 24 1-24 1 38 1-38 1 19 1 19 1-24 1-14 1 0 1 0 1 18 1-18 1 23 1-23 1 0 1 0 1 20 1-20 1 0 1 0 1 6 1-6 1 0 1 0 1 0 1 18 1 238 1-250 1 3 1-9 1 23 1-23 1 0 1 5 1 4 1-1 1-8 1 0 1 0 1 0 1 0 1 14 1-14 1 0 1 85 1-85 1 2 1 14 1 89 1-91 1-8 1 10 1-16 1 0 1 0 1 0 1 0 1 0 1 0 1 14 1 63 1-73 1-3 1-1 1 308 1-302 1-6 1 19 1-19 1 91 1 9 1-42 1 113 1-169 1 26 1 29 1 58 1 1 1-60 1 9 1-21 1 26 1-22 1-20 1 23 1-47 1 9 1-6 1 51 1-58 1 0 1 60 1-52 1-8 1 0 1 0 1 13 1-13 1 0 1 13 1-13 1 0 1 0 1 0 1 0 1 47 1-35 1-12 1 0 1 0 1 47 1 8 1-55 1 1 1-1 1 0 1 0 1 0 1 0 1 0 1 0 1 243 1-243 1 0 1 23 1-9 1-4 1 6 1 34 1-45 1 94 1-99 1 23 1-23 1 0 1 76 1 43 1-97 1 35 1-57 1 90 1-90 1 0 1 6 1 0 1 40 1-44 1-2 1 27 1 136 1-90 1-73 1 0 1 0 1 0 1 3 1-3 1 0 1 72 1 7 1 40 1-54 1-10 1-55 1 0 1 132 1-132 1 0 1 8 1-8 1 0 1 0 1 2 1 406 1-408 1 0 1 48 1 21 1-28 1-36 1-5 1 3 1 0 1-3 1 0 1 0 1 0 1 17 1-5 1-12 1 0 1 18 1 39 1-57 1 61 1-59 1-2 1 0 1 0 1 64 1-64 1 0 1 19 1 88 1-86 1 358 1-367 1 54 1-66 1 1 1 23 1-24 1 0 1 0 1 0 1 0 1 158 1-81 1-14 1-15 1-33 1-15 1 11 1 3 1 2 1-16 1 0 1 41 1 12 1 75 1-117 1-4 1 53 1 74 1-134 1 18 1-7 1-4 1-7 1 10 1 40 1 97 1-52 1-46 1-33 1 92 1-108 1 0 1 0 1 29 1-29 1 559 1-543 1-16 1 0 1 0 1 0 1 0 1 18 1 45 1 32 1-8 1-1 1-25 1-61 1 0 1 0 1 2 1 0 1 9 1-11 1 13 1 21 1 9 1-35 1-8 1 149 1-103 1-7 1-22 1-6 1 1 1 76 1-32 1-26 1 30 1 33 1-89 1-4 1 25 1 457 1-482 1 35 1-24 1 48 1-59 1 0 1 2 1 4 1 53 1 756 1-815 1 0 1 0 1 0 1 3 1 42 1-7 1-7 1-31 1 0 1 9 1-2 1-7 1 20 1-20 1 0 1 29 1 90 1-119 1 3 1 164 1-113 1-50 1-3 1 26 1 54 1-81 1 99 1-97 1 65 1 93 1-160 1 0 1 0 1 0 1 0 1 0 1 0 1 0 1 0 1 0 1 0 1 25 1 22 1-5 1 19 1-26 1-27 1-8 1 31 1-19 1-11 1 45 1 140 1-186 1 0 1 58 1-46 1 10 1-18 1-4 1 0 1 25 1-11 1 79 1-86 1-7 1 0 1 0 1 9 1-9 1 8 1-8 1 0 1 0 1 49 1 20 1-69 1 0 1 0 1 0 1 0 1 78 1-68 1-10 1 9 1 82 1-91 1 357 1-348 1-9 1 14 1-1 1-12 1-1 1 17 1-17 1 0 1 0 1 0 1 19 1-19 1 0 1 0 1 8 1 26 1-34 1 0 1 63 1-23 1 2 1-31 1-11 1 0 1 0 1 295 1-295 1 1 1 78 1-7 1-15 1-14 1-35 1 36 1-44 1 0 1 57 1-57 1 0 1 0 1 0 1 20 1-7 1 112 1-110 1-15 1 0 1 0 1 50 1-50 1 67 1-54 1-13 1 0 1 54 1-39 1 14 1-29 1 22 1 43 1 92 1 205 1-362 1 39 1 35 1-73 1-1 1 12 1 2 1 7 1 131 1-149 1 13 1-16 1 0 1 34 1-34 1 35 1-35 1 0 1 59 1-59 1 0 1 0 1 0 1 0 1 0 1 0 1 0 1 486 1-486 1 56 1-56 1 0 1 94 1 20 1-89 1 131 1-156 1 0 1 33 1-33 1 0 1 77 1 131 1-149 1 5 1-60 1-4 1 0 1 0 1 36 1 21 1-57 1 11 1-11 1 221 1-108 1-107 1-6 1 478 1-467 1-11 1 0 1 6 1 28 1-34 1 0 1 0 1 0 1 0 1 0 1 38 1 5 1-37 1-6 1 0 1 9 1 4 1-8 1-5 1 14 1-14 1 0 1 0 1 0 1 0 1 17 1-17 1 129 1-19 1-70 1-40 1 3 1 13 1-16 1 0 1 0 1 0 1 0 1 22 1 40 1-43 1 21 1-40 1 23 1-23 1 0 1 0 1 38 1 31 1-51 1-18 1 559 1-558 1 40 1 0 1-37 1 11 1-15 1 0 1 0 1 12 1 22 1-24 1-10 1 0 1 0 1 0 1 31 1 9 1 39 1-50 1 6 1 2 1 52 1-81 1 9 1 27 1 11 1 49 1 23 1-64 1-31 1-30 1-2 1 36 1-36 1 2 1 46 1-18 1 33 1-25 1-38 1 0 1 0 1 25 1-25 1 0 1 0 1 0 1 36 1-36 1 0 1 26 1-26 1 408 1-398 1 64 1 38 1-112 1 0 1 33 1 96 1 9 1-138 1 41 1-41 1 50 1-50 1 1 1-1 1 0 1 20 1-12 1 50 1-52 1 302 1-303 1 6 1 109 1-120 1 0 1 0 1 0 1 78 1-78 1 0 1 0 1 0 1 0 1 1 1 60 1-14 1-47 1 0 1 0 1 0 1 35 1-11 1-7 1-17 1 18 1-18 1 0 1 0 1 58 1 12 1-12 1 172 1-210 1 27 1 42 1 128 1-165 1 61 1-104 1-9 1 28 1-28 1 84 1-84 1 23 1-23 1 16 1-16 1 3 1 33 1-16 1 20 1 89 1-98 1-20 1 6 1-11 1-6 1 0 1 8 1 14 1 10 1-32 1 7 1-7 1 0 1 149 1-7 1-92 1 23 1-63 1-10 1 48 1-34 1 47 1 53 1-68 1 139 1-146 1 42 1-32 1-32 1-7 1 167 1-108 1 0 1 124 1-91 1-102 1 0 1 0 1 29 1-29 1 61 1 24 1-85 1 33 1-14 1-19 1 9 1-9 1 0 1 35 1-17 1-18 1 43 1-43 1 51 1 2 1 5 1 15 1 20 1-93 1 0 1 0 1 0 1 2 1-2 1 0 1 0 1 64 1 15 1 121 1-185 1-15 1 0 1 0 1 0 1 0 1 11 1 45 1-19 1-14 1-23 1 0 1 17 1-17 1 26 1 88 1 64 1 136 1-265 1-32 1-17 1 0 1 0 1 0 1 0 1 0 1 0 1 20 1 15 1-35 1 36 1-36 1 23 1 0 1 3 1-1 1 152 1-155 1 93 1-115 1 0 1 0 1 0 1 30 1-30 1 0 1 0 1 4 1 48 1-37 1-13 1-2 1 0 1 17 1-11 1-2 1 138 1-142 1 0 1 6 1 8 1-14 1 0 1 0 1 128 1-109 1 18 1-25 1 31 1-43 1 30 1-30 1 11 1 174 1-185 1 3 1 118 1-121 1 3 1-3 1 28 1-28 1 15 1-15 1 0 1 0 1 0 1 0 1 27 1 184 1-211 1 205 1-132 1-37 1 121 1-135 1-22 1 0 1 178 1-79 1-89 1 33 1-43 1 13 1-8 1-5 1 3 1 46 1-21 1-28 1 40 1 10 1-11 1 15 1-39 1-15 1 15 1-15 1 0 1 49 1-49 1 0 1 0 1 0 1 0 1 0 1 0 1 4 1 0 1-4 1 0 1 0 1 0 1 0 1 11 1-11 1 0 1 0 1 0 1 0 1 462 1-462 1 0 1 0 1 0 1 0 1 0 1 162 1-148 1-14 1 4 1-4 1 0 1 49 1-22 1 3 1-28 1-2 1 7 1-5 1-2 1 18 1-18 1 15 1 43 1-15 1-36 1-7 1 11 1-11 1 16 1-11 1 12 1-5 1-12 1 0 1 205 1-205 1 40 1-40 1 0 1 0 1 0 1 0 1 0 1 40 1-11 1-6 1 31 1 6 1-60 1 19 1-19 1 41 1 84 1 5 1-11 1-116 1 3 1 7 1-13 1 0 1 39 1-38 1 135 1-108 1 12 1 40 1-40 1-16 1-24 1 158 1-147 1-11 1 0 1 0 1 0 1 39 1 527 1-505 1-47 1-14 1 0 1 37 1-37 1 27 1 62 1-53 1 10 1 40 1-68 1-5 1-7 1-6 1 0 1 0 1 0 1 77 1 30 1 162 1-241 1-23 1 4 1 4 1 2 1-15 1 0 1 20 1-20 1 0 1 0 1 20 1 5 1 116 1-59 1-82 1 7 1-7 1 0 1 0 1 0 1 12 1 54 1 30 1-58 1 17 1 62 1 36 1-143 1 53 1-63 1 0 1 0 1 2 1-2 1 2 1 59 1-61 1 100 1-94 1 4 1 25 1 39 1-60 1 25 1 116 1-13 1-122 1 6 1 45 1-69 1 1 1-3 1 27 1-27 1 36 1-36 1 8 1 351 1-345 1-14 1 7 1-7 1 0 1 62 1 27 1-68 1-21 1 0 1 14 1-14 1 0 1 0 1 0 1 0 1 8 1 4 1 27 1 5 1-19 1-25 1 118 1-108 1 27 1 5 1-36 1 118 1-80 1-26 1-2 1 23 1 62 1-101 1 0 1 0 1 0 1 0 1 47 1 24 1-57 1-4 1-10 1 0 1 3 1-3 1 0 1 0 1 0 1 43 1-39 1 42 1 714 1-760 1 0 1 2 1 39 1-30 1 5 1-16 1 6 1 18 1-24 1 0 1 0 1 0 1 0 1 67 1-43 1-15 1 24 1 45 1 76 1-131 1 99 1-92 1-9 1 116 1-111 1-26 1 0 1 0 1 0 1 0 1 5 1 44 1-49 1 19 1-19 1 22 1-22 1 0 1 295 1-295 1 0 1 0 1 78 1 77 1-138 1 76 1-93 1 0 1 39 1-39 1 0 1 14 1-14 1 0 1 30 1 46 1-22 1 24 1-56 1-5 1-11 1-6 1 0 1 0 1 104 1-104 1 16 1-16 1 0 1 0 1 13 1-13 1 3 1-3 1 57 1-50 1 113 1 39 1-159 1 0 1 0 1 57 1-57 1 4 1 31 1 5 1 68 1 361 1-469 1 0 1 0 1 0 1 0 1 0 1 71 1-58 1 7 1-13 1 28 1-32 1-3 1 0 1 0 1 15 1 9 1 10 1-5 1-17 1-10 1 6 1-8 1 0 1 0 1 0 1 20 1-7 1 81 1 49 1-73 1-70 1 60 1 74 1-93 1-24 1-17 1 0 1 37 1-37 1 33 1 333 1-366 1 29 1-21 1 13 1 67 1 52 1-70 1-68 1 113 1-115 1 0 1 0 1 0 1 0 1 67 1 40 1-77 1-20 1-10 1 98 1 3 1-101 1 0 1 0 1 21 1-9 1 8 1 9 1 30 1-38 1-6 1-15 1 42 1-42 1 86 1 25 1 63 1-170 1-4 1 0 1 51 1-30 1-3 1 19 1-26 1 14 1-21 1-4 1 13 1 34 1 38 1-50 1 157 1-169 1 3 1-26 1 0 1 3 1 29 1 83 1-105 1-10 1 29 1-29 1 0 1 0 1 0 1 0 1 137 1-137 1 0 1 11 1 105 1-34 1-82 1 47 1 26 1-73 1 0 1 78 1-78 1 33 1-33 1 0 1 6 1-6 1 74 1-66 1-8 1 0 1 250 1-250 1 0 1 21 1-20 1 13 1 42 1-56 1 0 1 53 1-50 1 13 1-16 1 0 1 0 1 0 1 39 1 28 1-1 1-57 1-9 1 0 1 42 1-42 1 9 1 228 1-200 1-33 1-4 1 1 1-1 1 46 1-18 1 37 1-9 1-16 1-40 1 0 1 0 1 7 1-7 1 10 1 34 1 73 1-107 1 69 1-65 1-6 1-8 1 0 1 0 1 42 1 1 1 8 1-47 1-4 1 0 1 0 1 0 1 16 1 135 1-34 1-80 1 55 1 25 1-73 1 138 1-182 1 0 1 63 1-3 1-48 1 76 1-32 1 10 1-66 1 0 1 0 1 0 1 0 1 0 1 0 1 0 1 0 1 0 1 8 1 43 1-51 1 18 1 43 1-58 1-3 1 0 1 21 1-21 1 11 1-2 1-8 1 16 1 297 1-295 1-9 1 44 1 39 1 83 1-22 1-154 1 84 1-19 1-65 1 0 1 0 1 0 1 60 1-6 1 83 1-123 1-14 1 41 1-40 1 0 1-1 1 0 1 0 1 78 1-78 1 80 1-80 1 10 1 20 1-15 1-1 1 9 1-18 1-5 1 0 1 0 1 47 1-27 1 14 1-8 1 64 1 116 1-186 1-20 1 33 1-33 1 57 1-57 1 64 1-31 1-33 1 211 1-170 1 48 1-67 1-18 1-4 1 80 1-5 1-75 1 1 1-1 1 90 1 103 1-141 1 34 1 46 1-103 1 96 1-29 1 31 1-89 1-32 1-6 1 0 1 5 1 63 1 1 1 91 1-99 1-41 1-20 1 0 1 0 1 0 1 2 1 13 1 7 1-10 1-12 1 0 1 69 1-29 1-35 1 11 1 62 1-51 1 317 1-300 1-17 1-12 1-15 1 6 1-4 1 10 1-11 1 4 1-4 1-1 1 30 1 16 1-7 1-39 1 64 1-31 1-23 1-10 1 5 1-5 1 40 1 45 1-78 1 10 1-6 1-11 1 32 1 113 1-145 1 10 1-10 1 5 1-5 1 39 1-39 1 0 1 0 1 29 1-29 1 0 1 0 1 0 1 6 1-6 1 24 1-7 1-17 1 344 1-236 1 15 1-1 1-115 1-7 1 12 1-4 1 100 1-108 1 3 1-3 1 0 1 0 1 0 1 28 1 38 1-66 1 0 1 0 1 0 1 7 1 22 1-29 1 3 1 26 1 24 1-48 1 16 1-21 1 18 1 163 1-173 1 27 1-28 1 82 1-89 1 68 1-9 1-59 1 6 1-6 1 237 1-237 1 0 1 0 1 56 1-56 1 0 1 0 1 75 1-71 1 7 1 11 1-14 1 50 1-44 1-14 1 69 1 3 1-40 1 3 1-35 1 0 1 40 1-17 1-23 1 7 1-6 1-1 1 0 1 28 1-28 1 49 1-49 1 19 1 29 1-31 1-17 1 10 1-10 1 0 1 0 1 0 1 0 1 0 1 0 1 19 1-19 1 25 1-25 1 0 1 0 1 94 1 31 1-119 1-6 1 42 1-21 1-21 1 0 1 0 1 0 1 5 1-5 1 0 1 0 1 0 1 10 1-7 1-3 1 0 1 0 1 0 1 0 1 0 1 308 1-283 1 116 1-125 1-16 1 0 1 25 1 11 1-23 1-13 1 84 1-4 1-80 1 0 1 0 1 50 1-33 1-17 1 0 1 0 1 0 1 0 1 0 1 0 1 0 1 559 1-559 1 0 1 6 1-6 1 74 1-74 1 0 1 22 1-22 1 0 1 0 1 0 1 33 1-33 1 0 1 0 1 33 1-20 1-13 1 0 1 2 1 36 1 66 1-73 1-3 1-28 1 0 1 73 1-73 1 103 1-103 1 7 1-7 1 34 1-10 1 7 1 2 1 45 1 17 1-95 1 0 1 0 1 28 1 75 1 327 1-401 1 50 1-79 1 0 1 0 1 0 1 0 1 24 1-22 1-2 1 30 1 45 1 33 1-36 1 100 1-139 1 9 1-42 1 0 1 0 1 16 1-16 1 2 1 20 1-22 1 0 1 36 1 25 1-61 1 0 1 0 1 86 1-48 1 31 1-69 1 0 1 1 1-1 1 12 1 42 1-54 1 12 1-12 1 0 1 41 1-39 1-2 1 2 1-2 1 0 1 0 1 6 1 23 1-29 1 0 1 45 1-45 1 44 1 14 1-35 1-16 1 48 1-39 1-2 1-14 1 69 1-69 1 10 1-1 1-9 1 0 1 2 1-2 1 0 1 4 1 12 1-5 1 39 1-49 1-1 1 0 1 0 1 32 1-32 1 13 1-13 1 0 1 0 1 0 1 18 1 9 1 21 1-18 1-30 1 301 1-301 1 43 1-38 1 9 1-14 1 0 1 21 1-5 1 8 1-3 1-21 1 25 1 24 1-46 1 45 1-29 1-19 1 0 1 0 1 23 1-3 1-20 1 20 1-18 1 20 1-17 1-5 1 0 1 0 1 14 1-3 1-11 1 1 1-1 1 0 1 0 1 20 1 27 1-42 1-5 1 0 1 0 1 0 1 0 1 34 1 222 1-255 1-1 1 2 1-2 1 0 1 0 1 0 1 0 1 0 1 0 1 0 1 16 1-14 1 96 1-22 1-61 1 37 1 18 1-67 1-3 1 0 1 0 1 2 1-2 1 0 1 0 1 10 1-10 1 21 1 92 1-50 1-30 1-17 1 14 1-28 1 3 1-5 1 20 1-11 1-9 1 3 1-3 1 24 1 11 1 70 1-105 1 0 1 3 1 60 1 3 1-52 1-5 1 113 1-122 1 0 1 0 1 589 1-589 1 0 1 10 1-8 1 20 1 53 1 152 1-195 1-25 1-7 1 19 1 59 1-78 1 0 1 119 1-53 1-41 1-5 1-13 1 98 1-105 1 34 1 319 1-295 1-57 1-1 1 0 1 0 1 0 1 0 1 17 1-17 1 0 1 54 1-54 1 0 1 0 1 0 1 13 1 58 1-62 1-3 1 52 1-7 1-51 1 111 1-102 1-9 1 0 1 120 1-120 1 0 1 0 1 24 1 56 1-42 1-38 1 0 1 0 1 40 1-37 1 31 1 432 1-466 1 12 1-12 1 0 1 0 1 0 1 34 1-7 1-25 1 23 1-4 1-21 1 25 1 7 1-21 1 23 1-34 1 0 1 0 1 26 1 0 1 80 1-65 1 15 1-18 1-17 1-18 1 227 1-230 1 0 1 0 1 0 1 3 1 17 1-20 1 7 1 20 1-27 1 0 1 43 1 128 1-142 1-3 1-26 1 0 1 43 1-41 1 6 1 20 1-17 1-11 1 0 1 28 1-28 1 0 1 51 1-28 1-23 1 26 1 24 1 23 1-7 1-32 1 3 1-37 1 0 1 0 1 0 1 4 1 13 1-12 1-5 1 70 1-15 1 37 1-13 1 7 1-60 1-16 1-10 1 0 1 0 1 45 1 118 1-135 1-17 1-11 1 0 1 44 1 2 1-46 1 0 1 0 1 0 1 0 1 0 1 0 1 411 1-411 1 153 1-123 1 47 1-70 1 22 1-29 1 0 1 4 1 111 1-68 1-4 1-43 1 0 1 0 1 25 1-25 1 0 1 0 1 21 1-21 1 109 1-109 1 5 1 238 1-240 1 12 1-15 1 2 1 121 1-116 1 27 1-34 1 0 1 0 1 7 1-7 1 0 1 0 1 50 1 64 1-114 1 37 1-37 1 0 1 0 1 0 1 32 1-32 1 0 1 13 1-13 1 0 1 0 1 41 1 21 1-62 1 6 1 14 1 21 1-41 1 0 1 9 1 27 1 169 1-181 1 16 1-40 1 0 1 0 1 5 1 39 1-44 1 18 1 32 1-5 1 5 1-24 1-26 1 0 1 0 1 0 1 13 1-13 1 20 1-18 1 13 1 52 1-55 1-12 1 0 1 5 1 9 1-14 1 14 1-14 1 0 1 0 1 0 1 12 1 0 1-12 1 0 1 78 1-9 1-44 1 10 1-35 1 30 1-30 1 33 1-33 1 8 1-8 1 11 1-2 1-9 1 51 1-17 1 11 1-43 1-2 1 22 1-4 1-18 1 0 1 0 1 0 1 8 1 104 1 340 1-372 1-63 1-17 1 10 1 16 1-7 1-19 1 0 1 0 1 0 1 0 1 0 1 4 1 87 1-91 1 0 1 78 1-52 1 1 1-18 1 273 1-282 1 45 1-26 1-16 1-3 1 105 1 60 1-165 1 29 1-29 1 0 1 14 1-14 1 0 1 33 1-33 1 3 1 10 1 78 1-10 1-81 1 0 1 0 1 0 1 0 1 0 1 0 1 33 1 7 1-40 1 1 1-1 1 22 1 27 1-46 1 28 1-3 1-10 1 3 1-21 1 0 1 0 1 0 1 9 1-9 1 0 1 7 1-7 1 0 1 0 1 0 1 23 1 33 1 8 1-41 1 60 1 11 1-74 1-10 1 201 1-160 1-51 1 0 1 141 1-141 1 11 1 297 1-308 1 5 1-5 1 51 1 47 1-31 1-63 1 2 1-6 1 0 1 0 1 0 1 96 1-26 1-70 1 9 1 13 1-20 1 17 1-19 1 0 1 0 1 0 1 0 1 46 1-28 1-18 1 11 1-11 1 7 1-7 1 0 1 0 1 120 1-109 1 80 1 65 1-137 1 127 1-133 1-13 1 0 1 0 1 0 1 721 1-544 1-98 1-75 1 26 1-27 1-2 1-1 1 0 1 0 1 5 1-5 1 0 1 0 1 0 1 3 1-3 1 0 1 33 1-9 1 30 1 23 1-77 1 143 1-142 1-1 1 4 1-4 1 0 1 0 1 0 1 13 1 37 1-50 1 0 1 0 1 0 1 0 1 34 1-34 1 0 1 29 1-18 1-6 1 7 1-12 1 137 1-77 1-60 1 0 1 7 1 17 1 70 1-43 1-48 1-3 1 0 1 0 1 0 1 0 1 0 1 6 1 8 1-14 1 0 1 0 1 0 1 0 1 0 1 0 1 0 1 5 1 106 1 152 1-198 1-45 1 170 1-190 1 0 1 4 1-4 1 2 1-2 1 0 1 37 1-35 1 30 1-19 1 47 1-60 1 0 1 43 1 92 1 31 1-147 1-6 1 23 1-4 1-32 1 1 1 71 1-57 1-15 1 16 1 12 1 57 1-62 1 3 1 70 1-96 1 0 1 0 1 0 1 15 1-15 1 0 1 0 1 0 1 19 1 43 1 40 1-82 1-20 1 0 1 0 1 0 1 0 1 0 1 0 1 0 1 5 1-5 1 0 1 0 1 7 1 316 1-323 1 0 1 0 1 0 1 0 1 0 1 0 1 32 1 19 1-50 1-1 1 39 1-39 1 0 1 0 1 0 1 0 1 0 1 0 1 1 1 78 1-54 1 152 1-124 1-22 1-14 1-4 1-1 1 59 1-53 1-18 1 11 1-11 1 0 1 0 1 5 1 6 1-11 1 5 1-5 1 4 1-2 1 11 1-13 1 0 1 16 1 46 1-54 1-8 1 31 1 7 1-38 1 0 1 0 1 0 1 15 1 50 1 25 1-85 1 35 1-40 1 5 1 35 1 185 1-46 1-179 1 0 1 0 1 0 1 0 1 0 1 0 1 14 1-7 1-7 1 10 1-10 1 79 1-26 1-43 1-10 1 0 1 0 1 57 1-57 1 15 1-13 1 10 1-6 1 29 1-10 1-25 1 0 1 6 1 9 1 20 1-35 1 8 1-8 1 0 1 336 1-336 1 2 1-2 1 0 1 0 1 9 1-9 1 39 1-39 1 0 1 1 1 150 1-139 1-12 1 0 1 0 1 29 1 75 1-104 1 0 1 0 1 39 1-39 1 2 1 61 1-56 1-7 1 0 1 0 1 0 1 5 1-5 1 0 1 0 1 0 1 0 1 3 1-3 1 0 1 3 1 4 1 56 1 3 1 42 1-42 1 11 1-77 1 78 1-21 1-35 1 29 1 6 1-57 1 0 1 0 1 0 1 0 1 0 1 27 1-6 1 97 1-77 1 26 1 76 1 20 1-133 1-30 1 0 1 32 1 18 1-32 1-18 1 0 1 0 1 0 1 4 1-3 1 121 1-104 1-2 1-7 1 47 1-56 1 1 1-1 1 3 1 8 1-11 1 129 1-115 1 1 1-15 1 11 1-9 1 239 1-241 1 122 1-122 1 85 1-85 1 0 1 10 1-10 1 6 1 2 1-8 1 0 1 15 1 15 1 128 1 1 1-95 1 125 1-59 1-130 1 1 1 17 1-18 1 12 1-12 1 71 1-36 1-23 1 1 1-13 1 5 1 36 1-41 1 0 1 0 1 0 1 6 1 725 1-728 1-3 1 29 1-27 1-2 1 0 1 10 1-10 1 7 1-7 1 32 1-32 1 43 1-14 1-29 1 0 1 0 1 8 1-8 1 0 1 0 1 0 1 121 1-105 1-4 1 127 1-125 1-5 1-9 1 0 1 0 1 0 1 0 1 185 1-22 1-118 1-45 1 4 1-4 1 0 1 0 1 0 1 46 1-15 1 3 1-20 1-8 1-6 1 0 1 0 1 10 1 44 1 441 1-443 1-51 1 6 1 51 1-33 1 5 1-30 1 42 1-42 1 0 1 0 1 0 1 0 1 28 1-28 1 0 1 9 1 10 1-6 1-3 1 6 1 9 1-25 1 0 1 0 1 0 1 5 1-4 1-1 1 21 1-14 1-7 1 3 1-3 1 12 1-9 1-3 1 61 1-61 1 0 1 13 1 16 1-8 1-21 1 65 1-27 1 82 1-96 1 45 1-69 1 0 1 126 1-45 1-80 1-1 1 3 1 67 1-62 1-8 1 0 1 340 1-340 1 44 1 38 1-82 1 12 1-12 1 0 1 0 1 0 1 0 1 53 1 95 1-68 1-48 1 3 1-12 1 42 1-65 1 0 1 0 1 0 1 49 1-12 1 104 1-33 1-108 1 58 1-7 1 57 1-78 1-29 1-1 1 0 1 4 1-4 1 5 1 149 1-6 1-148 1 0 1 158 1-158 1 14 1-14 1 8 1 3 1 33 1-44 1 34 1 55 1 17 1-106 1 0 1 0 1 10 1 121 1-45 1 92 1-128 1-37 1-11 1 95 1 230 1-327 1 0 1 0 1 7 1 0 1 55 1-59 1-2 1-1 1 13 1 65 1 100 1-11 1-79 1-44 1 106 1-150 1 0 1 0 1 0 1 75 1-51 1-24 1 17 1-17 1 94 1-85 1 71 1 13 1-45 1-25 1-23 1 4 1-4 1 7 1 42 1-34 1 30 1-45 1 5 1 21 1-1 1-25 1 0 1 0 1 41 1 29 1-70 1 0 1 0 1 0 1 118 1-118 1 0 1 23 1 35 1-16 1 26 1-47 1 145 1-145 1-21 1 0 1 66 1 15 1-81 1 0 1 38 1-38 1 0 1 0 1 0 1 6 1-6 1 0 1 0 1 0 1 0 1 10 1-4 1 8 1-11 1-3 1 119 1-88 1-31 1 0 1 0 1 0 1 70 1-70 1 27 1-27 1 0 1 72 1-34 1-18 1-8 1 77 1-24 1 2 1-62 1-5 1 0 1 15 1 12 1-12 1 22 1-29 1-8 1 32 1-17 1 5 1 46 1-30 1-5 1-8 1-23 1 344 1-344 1 36 1-36 1 21 1-21 1 0 1 69 1 29 1 116 1-198 1 22 1-38 1 0 1 0 1 53 1-30 1 22 1-45 1 0 1 16 1 71 1-81 1 2 1-8 1 59 1-51 1 22 1-30 1 0 1 0 1 0 1 39 1-10 1 36 1 79 1-117 1-27 1 116 1-100 1 8 1-13 1-11 1 53 1-2 1 82 1-133 1 0 1 0 1 0 1 22 1-22 1 2 1-2 1 0 1 52 1 5 1-57 1 0 1 0 1 77 1-73 1-4 1 35 1 4 1-39 1 0 1 66 1 41 1-93 1-14 1 2 1 12 1 36 1 500 1-550 1 0 1 23 1-23 1 0 1 0 1 0 1 0 1 14 1-14 1 60 1-33 1-27 1 0 1 0 1 0 1 0 1 43 1-43 1 70 1 321 1-354 1-6 1-31 1 0 1 10 1-10 1 31 1-31 1 43 1 41 1 7 1-91 1 0 1 0 1 45 1-45 1 25 1-25 1 0 1 0 1 0 1 0 1 0 1 0 1 14 1-14 1 35 1 66 1-45 1-56 1 20 1 11 1-31 1 10 1-10 1 0 1 0 1 15 1 18 1-33 1 0 1 15 1 24 1-21 1 58 1-13 1 23 1-18 1-34 1 14 1-2 1-46 1 24 1-3 1 22 1-43 1 43 1 50 1-60 1 9 1-39 1 16 1 3 1 48 1-14 1-56 1 0 1 33 1-32 1-1 1 0 1 16 1 149 1-118 1-13 1-10 1 8 1-32 1 0 1 105 1-57 1-26 1-22 1 0 1 0 1 0 1 0 1 25 1 16 1-41 1 11 1-11 1 379 1-268 1-66 1 38 1-73 1 14 1-3 1-7 1 118 1-132 1 0 1 0 1 0 1 0 1 65 1-41 1-23 1-1 1 0 1 1 1-1 1 0 1 0 1 0 1 0 1 0 1 164 1-107 1 30 1-27 1-25 1-7 1-28 1 297 1-297 1 5 1 172 1-122 1 9 1-11 1-53 1 0 1 0 1 16 1-16 1 1 1-1 1 9 1-9 1 15 1 0 1-15 1 0 1 0 1 20 1 13 1 6 1-22 1 42 1 28 1-61 1 50 1-76 1 0 1 0 1 0 1 0 1 32 1-32 1 237 1-237 1 56 1-34 1 64 1-65 1-7 1-14 1 97 1-70 1 2 1-2 1 53 1-67 1-9 1-4 1 0 1 0 1 174 1-7 1-167 1 12 1-12 1 17 1 0 1 28 1-17 1-28 1 15 1 55 1-46 1-3 1-21 1 62 1-62 1 0 1 3 1 18 1-11 1 108 1-51 1-67 1 40 1 2 1-4 1-32 1 7 1-13 1 0 1 0 1 0 1 0 1 14 1 3 1 29 1-46 1 19 1 21 1-40 1 15 1 30 1-1 1 120 1-144 1-14 1 8 1 46 1-60 1 0 1 0 1 0 1 4 1-4 1 11 1 67 1-63 1 43 1-58 1 0 1 110 1-103 1 320 1-311 1 121 1-99 1-9 1-29 1 0 1 0 1 82 1-80 1 88 1 125 1-215 1 0 1 75 1-75 1 140 1-140 1 0 1 0 1 16 1 40 1-29 1-27 1 41 1-41 1 103 1-103 1 18 1-17 1-1 1 56 1-56 1 4 1 2 1 118 1-86 1 138 1-122 1-17 1-37 1 31 1-5 1 106 1-103 1-29 1 0 1 8 1 5 1 0 1 1 1 3 1 10 1-27 1 14 1 15 1 0 1 33 1-12 1-32 1-11 1-7 1 23 1 61 1-84 1 0 1 0 1 12 1-8 1-3 1 143 1 1 1-111 1-34 1 0 1 0 1 0 1 0 1 308 1-258 1-50 1 11 1 51 1-23 1-39 1 0 1 30 1-20 1-10 1 0 1 0 1 26 1 60 1-67 1-8 1 48 1-46 1 2 1-15 1 0 1 20 1-5 1-15 1 0 1 0 1 2 1 17 1-6 1 18 1-2 1-29 1 0 1 19 1 42 1-61 1 22 1 301 1-309 1-14 1 0 1 52 1 83 1-85 1 1 1-31 1 30 1-50 1 24 1-2 1-15 1 46 1-53 1 1 1 3 1-4 1 0 1 118 1-118 1 6 1-6 1 0 1 598 1-551 1-47 1 0 1 0 1 0 1 0 1 0 1 0 1 0 1 0 1 24 1 16 1-22 1 141 1-159 1 0 1 87 1 13 1-64 1 151 1-88 1 71 1-106 1-64 1 71 1-23 1-32 1-16 1 45 1-45 1 21 1-2 1-6 1-13 1 0 1 0 1 56 1 187 1-225 1-18 1 31 1-31 1 46 1 61 1-80 1-27 1 0 1 25 1-25 1 13 1 137 1-51 1-44 1-38 1 55 1-72 1 0 1 5 1 78 1-61 1-22 1 18 1 73 1-74 1 35 1-50 1 8 1-10 1 0 1 0 1 48 1-41 1-7 1 27 1-27 1 0 1 0 1 0 1 19 1 38 1-8 1-5 1-44 1 0 1 0 1 39 1-39 1 2 1 4 1-6 1 0 1 65 1-65 1 0 1 336 1-325 1-11 1 0 1 0 1 4 1 17 1 23 1-44 1 0 1 0 1 0 1 15 1-10 1-5 1 65 1-65 1 58 1-51 1 24 1-20 1 16 1-22 1-5 1 0 1 0 1 22 1-22 1 0 1 0 1 0 1 0 1 282 1-282 1 0 1 0 1 39 1-7 1-32 1 29 1-29 1 16 1 20 1-36 1 27 1-27 1 16 1-16 1 10 1 23 1 23 1 3 1-42 1 39 1-56 1 0 1 0 1 51 1-50 1 54 1-52 1-3 1 54 1-49 1 19 1-22 1 17 1 46 1-47 1-17 1-1 1 119 1-107 1-11 1 97 1-76 1-1 1-21 1 0 1 0 1 70 1-52 1 7 1-21 1 164 1-168 1 23 1-23 1 76 1-66 1-3 1-7 1 24 1-10 1 7 1 15 1 23 1 9 1-68 1 9 1-9 1 7 1 47 1-54 1 0 1 0 1 5 1-5 1 0 1 1 1-1 1 14 1 36 1-5 1 24 1-54 1 8 1-7 1 31 1 4 1 6 1 27 1-84 1 19 1 52 1-46 1 75 1-9 1-76 1 2 1-5 1 1 1 36 1 177 1-226 1 0 1 0 1 0 1 0 1 0 1 0 1 10 1-10 1 0 1 0 1 0 1 0 1 0 1 0 1 8 1 6 1-11 1 26 1 21 1 36 1 32 1 63 1-128 1 11 1-29 1-11 1-4 1-20 1 3 1-3 1 0 1 0 1 115 1-90 1 97 1-122 1 0 1 0 1 0 1 10 1-10 1 0 1 28 1 31 1-59 1 7 1 2 1-9 1 24 1 1319 1-1343 1 0 1 24 1-1 1 117 1-140 1 24 1-24 1 24 1 31 1-47 1-8 1 0 1 0 1 28 1 127 1-81 1-17 1-12 1-4 1-35 1 6 1 33 1-16 1-29 1 50 1-44 1 22 1-14 1-14 1 0 1 2 1 1 1 214 1-217 1 61 1-60 1 11 1 0 1-12 1 0 1 0 1 0 1 0 1 9 1 26 1 95 1-96 1-34 1 0 1 0 1 20 1-17 1 27 1 44 1-74 1 51 1-9 1 16 1 57 1-71 1-41 1 23 1 8 1 18 1-43 1 68 1-14 1 9 1-33 1 29 1-59 1 67 1-76 1 0 1 0 1 74 1-65 1 10 1-12 1 17 1 10 1 10 1-7 1-37 1 0 1 25 1 38 1-4 1 26 1-32 1-53 1 28 1 12 1-15 1-10 1-15 1 0 1 0 1 0 1 217 1-168 1-49 1 0 1 0 1 122 1-89 1 9 1-42 1 0 1 0 1 10 1 100 1-101 1 186 1-182 1 11 1 18 1-40 1-2 1 36 1 3 1-13 1-14 1-12 1 0 1 0 1 0 1 17 1 28 1 155 1-200 1 559 1-559 1 40 1-10 1-17 1 12 1-19 1 5 1-5 1 8 1-14 1 12 1 10 1-22 1 7 1-7 1 200 1 364 1-244 1 230"/>
</g>
<g class="chart">
<g class="ax">
<path d="M1132.00,215.90V211.50H1578.20V215.90"/>
<line x1="1156.78" x2="1156.78" y1="211.50" y2="215.90"/><text x="1156.78" y="224.20" text-anchor="middle">1962</text>
<line x1="1206.33" x2="1206.33" y1="211.50" y2="215.90"/><text x="1206.33" y="224.20" text-anchor="middle">1964</text>
<line x1="1255.96" x2="1255.96" y1="211.50" y2="215.90"/><text x="1255.96" y="224.20" text-anchor="middle">1966</text>
<line x1="1305.51" x2="1305.51" y1="211.50" y2="215.90"/><text x="1305.51" y="224.20" text-anchor="middle">1968</text>
<line x1="1355.13" x2="1355.13" y1="211.50" y2="215.90"/><text x="1355.13" y="224.20" text-anchor="middle">1970</text>
<line x1="1404.69" x2="1404.69" y1="211.50" y2="215.90"/><text x="1404.69" y="224.20" text-anchor="middle">1972</text>
<line x1="1454.31" x2="1454.31" y1="211.50" y2="215.90"/><text x="1454.31" y="224.20" text-anchor="middle">1974</text>
<line x1="1503.87" x2="1503.87" y1="211.50" y2="215.90"/><text x="1503.87" y="224.20" text-anchor="middle">1976</text>
<line x1="1553.49" x2="1553.49" y1="211.50" y2="215.90"/><text x="1553.49" y="224.20" text-anchor="middle">1978</text>
<text x="1366.70" y="238.00" text-anchor="middle" style="font-size:8.9px">DATE</text>
<path d="M1127.60,18.00H1132.00V211.50H1127.60"/>
<line x1="1127.60" x2="1132.00" y1="211.09" y2="211.09"/><text x="1126.00" y="214.39" text-anchor="end" style="font-size:9.6px">0</text>
<line x1="1127.60" x2="1132.00" y1="190.46" y2="190.46"/><text x="1126.00" y="193.76" text-anchor="end" style="font-size:9.6px">5</text>
<line x1="1127.60" x2="1132.00" y1="169.83" y2="169.83"/><text x="1126.00" y="173.13" text-anchor="end" style="font-size:9.6px">10</text>
<line x1="1127.60" x2="1132.00" y1="149.20" y2="149.20"/><text x="1126.00" y="152.50" text-anchor="end" style="font-size:9.6px">15</text>
<line x1="1127.60" x2="1132.00" y1="128.57" y2="128.57"/><text x="1126.00" y="131.87" text-anchor="end" style="font-size:9.6px">20</text>
<line x1="1127.60" x2="1132.00" y1="107.94" y2="107.94"/><text x="1126.00" y="111.24" text-anchor="end" style="font-size:9.6px">25</text>
<line x1="1127.60" x2="1132.00" y1="87.31" y2="87.31"/><text x="1126.00" y="90.61" text-anchor="end" style="font-size:9.6px">30</text>
<line x1="1127.60" x2="1132.00" y1="66.68" y2="66.68"/><text x="1126.00" y="69.98" text-anchor="end" style="font-size:9.6px">35</text>
<line x1="1127.60" x2="1132.00" y1="46.06" y2="46.06"/><text x="1126.00" y="49.36" text-anchor="end" style="font-size:9.6px">40</text>
<line x1="1127.60" x2="1132.00" y1="25.43" y2="25.43"/><text x="1126.00" y="28.73" text-anchor="end" style="font-size:9.6px">45</text>
<text transform="translate(1092.50,97.70) rotate(-90)" text-anchor="end">T.MAX</text>
</g>
<path class="ln" vector-effect="non-scaling-stroke" transform="translate(1132.000,211.087) scale(0.067884,-0.206290)" d="M0 119l1 79 1-37 1-1 1 7 1-23 1-41 1 49 1 21 1-69 1 105 1 22 1-45 1 25 1-29 1-7 1 24 1-52 1 25 1 46 1 30 1-34 1 17 1-144 1 64 1 21 1-49 1 12 1 74 1 83 1-7 1-3 1-65 1-52 1-43 1 40 1 35 1-23 1-33 1 26 1 21 1 1 1 46 1-9 1-2 1-35 1 15 1 53 1-4 1 0 1 15 1 6 1 18 1 14 1 15 1-53 1 10 1-74 1 29 1-46 1 19 1 37 1-13 1 14 1-68 1-14 1 216 1-196 1 53 1-57 1-17 1-22 1 35 1 46 1-38 1 11 1-57 1 116 1-36 1 23 1-7 1-23 1-54 1 57 1-10 1 13 1-26 1 61 1 27 1 26 1-19 1 7 1 20 1 18 1-10 1-20 1-22 1-28 1-26 1 25 1 0 1-57 1 21 1 56 1-4 1-56 1 20 1 47 1 13 1-13 1 73 1 55 1-32 1 11 1-7 1 10 1 35 1 1 1-27 1-49 1-41 1 4 1 52 1 84 1-94 1 1 1-9 1 15 1-59 1-74 1 11 1-22 1 103 1-2 1-4 1-62 1 41 1-13 1 80 1 47 1-52 1 27 1-153 1 6 1 104 1 47 1 1 1-10 1-75 1-48 1 42 1 97 1-109 1 47 1 30 1 34 1-50 1-20 1 8 1-34 1-30 1-7 1 24 1 34 1 10 1 11 1-19 1-14 1 58 1-2 1-1 1 37 1 38 1 29 1-12 1 17 1-51 1-11 1 42 1-15 1 3 1-24 1 36 1-103 1 19 1 28 1-47 1 80 1-21 1-16 1-40 1 34 1 3 1-23 1 9 1 21 1 32 1-9 1-44 1-17 1-66 1 2 1 47 1 25 1 0 1-6 1 55 1-1 1 18 1-2 1-35 1 45 1-56 1-38 1-3 1-13 1-4 1-5 1 48 1 3 1 11 1-57 1-16 1 48 1-37 1 46 1-32 1 15 1-20 1 13 1 155 1-170 1 48 1-15 1 46 1-26 1-33 1 4 1-7 1 43 1 9 1 14 1-3 1 38 1-10 1-13 1-37 1-28 1 3 1 19 1 16 1-32 1 8 1-2 1-27 1 13 1-47 1 18 1 57 1-30 1 0 1-39 1-4 1 27 1-17 1 8 1-1 1-3 1 6 1 10 1 21 1 5 1-26 1 22 1 11 1-53 1 9 1 9 1 9 1-3 1-46 1-9 1-51 1 8 1 58 1 7 1 9 1-28 1-34 1-26 1 15 1-14 1-6 1 42 1-42 1-21 1 6 1 14 1 8 1-25 1 21 1 7 1 17 1-27 1 17 1 12 1-18 1 0 1-11 1 53 1-108 1-23 1-24 1 24 1 6 1 12 1 41 1-44 1-7 1 10 1-18 1 28 1 19 1-16 1-40 1 59 1 11 1 5 1-5 1-7 1 20 1-12 1-30 1 22 1 81 1-125 1-30 1 50 1 16 1 63 1-53 1-49 1 11 1 48 1 1 1-7 1 61 1-78 1-74 1-26 1 2 1 31 1 47 1 8 1 47 1-55 1 62 1-55 1 32 1-52 1 10 1-167 1 179 1 21 1-19 1-6 1 7 1-44 1-10 1-34 1 29 1 90 1 17 1-35 1-21 1 34 1-17 1-41 1-12 1-7 1-4 1 37 1 11 1-27 1 1 1-12 1-10 1-13 1 59 1-2 1 17 1 19 1-14 1 10 1 7 1-2 1 41 1-12 1-20 1 5 1 29 1 3 1-33 1-32 1 65 1-104 1 15 1 21 1-62 1 11 1-20 1 31 1 25 1-22 1-127 1 104 1 20 1-31 1-11 1 3 1 44 1 54 1-13 1-34 1 3 1-17 1 16 1-19 1 1 1 8 1 16 1 0 1 24 1-5 1-42 1 24 1-7 1-13 1 35 1-27 1 3 1-16 1 37 1-13 1 7 1-34 1 44 1-29 1 28 1 26 1 21 1 30 1-51 1 4 1-3 1 6 1 20 1-7 1-25 1 0 1 39 1-34 1 6 1-19 1 35 1-39 1 3 1 9 1 13 1 68 1 29 1-46 1 54 1-53 1-56 1-30 1 29 1 30 1-58 1 36 1 6 1 31 1-9 1 29 1 12 1-39 1 43 1-2 1 12 1 21 1-40 1-7 1-24 1-21 1 18 1 14 1 39 1 29 1-18 1-35 1 89 1 34 1-39 1-48 1-19 1 8 1 28 1 16 1-3 1-19 1-2 1-13 1 4 1-1 1 17 1-45 1 172 1-155 1-14 1 16 1-9 1 6 1 15 1 12 1 1 1 49 1 9 1 10 1 6 1-21 1-20 1 36 1-10 1-50 1-46 1 36 1-3 1 14 1-3 1 1 1 5 1-18 1 10 1 24 1 12 1-33 1-16 1-10 1 10 1 24 1 9 1-28 1 11 1 20 1-7 1 35 1-19 1 19 1 35 1-40 1-11 1 8 1 55 1-55 1 6 1-2 1-15 1-19 1 91 1-100 1-22 1 44 1-24 1-2 1-6 1 1 1 11 1-10 1 5 1 45 1 19 1-15 1 16 1-26 1 5 1-37 1-20 1-7 1 42 1 5 1 10 1-2 1 2 1 1 1 7 1-7 1-22 1-13 1 23 1 18 1-1 1-33 1 24 1-1 1-7 1-5 1-11 1 23 1 16 1-33 1-10 1 0 1 16 1-57 1 21 1 30 1-20 1-10 1 21 1-5 1-46 1-30 1-20 1-26 1 22 1 0 1 19 1 35 1 57 1-5 1-65 1 53 1-10 1 30 1-25 1 4 1-11 1-4 1 36 1-33 1 2 1 2 1-16 1-66 1 30 1-76 1-12 1 22 1 40 1 39 1 24 1 7 1-24 1 22 1-24 1 15 1-66 1-17 1-6 1 5 1-42 1 27 1 21 1 9 1-18 1 21 1-22 1 9 1-11 1-6 1-7 1-3 1 19 1 19 1 14 1 0 1-6 1-9 1 23 1-36 1-32 1-8 1-53 1-1 1 6 1-25 1-5 1 34 1-4 1 6 1 35 1-27 1-38 1 10 1 23 1-61 1 43 1-4 1-7 1-22 1 10 1 50 1 16 1 19 1-30 1 47 1 19 1-32 1-107 1 12 1 90 1-26 1-47 1 46 1-101 87 199 1-17 1-12 1-17 1-9 1 6 1-3 1 10 1 3 1 8 1-4 1 1 1 6 1 4 1 4 1 6 1-6 1-8 1 6 1 0 1 6 1-2 1-5 1 9 1-1 1-3 1-2 1 4 1-2 1 5 1 8 1-10 1-1 1 7 1 18 1 7 1-9 1 16 1-8 1-4 1 5 1-15 1 48 1 9 1-6 1-16 1-20 1 10 1 14 1-8 1-1 1 12 1-1 1-33 1 24 1 10 1 17 1 52 1-110 1-10 1 24 1 51 1 40 1-12 1-40 1-7 1 9 1 6 1-2 1 20 1-24 1-37 1-4 1-6 1 47 1-4 1-21 1 16 1 17 1-2 1 1 1 13 1 1 1-16 1 7 1 10 1-2 1 6 1-1 1-11 1-6 1 6 1-12 1 16 1 11 1-37 1 2 1-8 1-3 1 8 1 2 1 11 1 5 1 4 1-12 1-2 1 21 1-34 1 30 1-8 1 18 1-37 1 3 1 19 1 5 1 15 1-15 1-5 1-6 1 12 1 8 1-4 1-4 1-4 1 2 1-14 1 2 1 0 1-7 1-6 1 30 1-15 1 7 1 24 1 5 1 159 1-158 1-42 1-25 1-1 1 3 1 5 1 41 1 24 1-17 1-6 1-25 1 6 1-24 1 29 1-11 1 9 1-21 1 25 151-85 1-9 1 0 1 2 1-18 1 29 1-19 1-59 1-51 1 15 1 31 1 4 1 42 1-19 1 8 1 10 1-37 1 7 1 8 1 26 1 23 1 11 1-44 1 14 1 22 1-18 1 12 1 11 1 23 1-30 1-6 1-17 1-17 1-41 1-96 1 37 1 9 1 40 1 25 1 24 1-15 1 45 1-36 1 20 1 1 1-39 1-25 1 33 1-1 1 8 1 97 1-15 1-24 1 3 1-41 1-15 1 10 1-33 1 2 1-3 1 7 1-54 1 73 1-6 1 17 1-40 1-37 1 19 1 1 1 35 1-29 1-24 1 31 1 37 1 35 1-13 1 3 1-39 1 54 1 31 1 20 1-88 1 35 1-36 1 22 1 13 1 41 1-25 1-22 1-39 1-33 1 48 1-19 1 44 1-4 1-6 1 46 1 29 1-34 1 2 1 9 1 25 1-20 1-5 1 5 1 27 1 25 1-22 1 49 1-2 1-33 1-43 1 0 1-52 1 34 1 34 1 44 1 10 1-51 1 2 1 30 1-58 1-2 1 38 1 12 1-48 1 6 1 20 1 70 1-23 1-28 1 11 1 10 1 12 1 29 1-18 1-45 1 4 1 2 1 24 1 13 1-28 1 16 1 17 1-17 1 16 1-8 1-6 1-12 1 17 1 65 1-21 1-47 1-8 1-14 1 12 1-1 1 57 1 1 1 24 1-36 1-15 1 37 1-52 1 2 1-33 1 42 1-32 1 1 1 5 1-28 1 68 1-6 1 35 1-24 1-34 1 13 1 9 1 70 1-41 1-42 1-10 1 19 1 20 1-20 1-3 1 21 1 30 1-23 1 3 1-78 1-6 1 36 1 13 1 5 1 56 1 57 1-112 1 12 1 7 1-32 1 35 1 39 1-31 1-30 1-3 1 31 1-24 1-19 1-10 1 14 1 10 1-3 1 31 1 47 1-34 1 15 1-7 1 55 1-47 1-21 1-5 1-37 1 0 1 21 1-33 1 11 1 43 1-21 1-21 1-49 1 17 1-20 1 32 1 46 1 10 1-22 1 16 1-13 1-26 1-5 1 15 1-8 1 17 1 53 1-3 1 1 1-39 1 27 1-10 1 12 1-46 1-4 1-85 1 1 1-17 1-17 1 77 1-54 1 6 1 4 1 24 1 31 1-65 1-12 1-14 1 34 1 30 1-24 1-22 1-69 1 61 1 56 1-2 1-35 1-27 1-16 1-37 1 69 1 1 1-11 1 59 1-10 1 25 1-13 1 11 1-18 1-24 1 3 1 10 1 16 1-11 1-18 1-15 1 6 1-14 1-5 1 16 1 13 1 7 1-21 1-29 1 17 1 7 1-5 1 9 1 24 1-8 1 9 1-30 1-2 1-18 1-33 1 29 1-72 1 24 1 36 1 13 1-39 1 14 1-38 1-6 1 44 1 3 1 22 1-31 1-41 1-3 1 36 1 18 1 14 1-14 1-10 1-10 1 51 1-21 1 15 1-27 1 8 1-37 1-17 1 0 1-14 1-8 1-64 1 55 1 24 68 20 1 26 1 20 1 2 1 5 1 4 1-3 1 9 1-15 1-3 1 2 1-19 1-5 1 17 1 11 1-35 1 27 1 12 1 15 1-2 1 9 1-28 1 0 1-18 1 0 1 129 1-60 1-10 1-17 1 12 1 2 1 32 1-5 1-68 1 3 1-6 1-16 1 9 1 4 1-6 1 39 1 1 1 1 1-5 1 20 1-37 1 24 1-14 1 26 1 17 1-8 1-24 1-3 1 0 1-32 1-1 1-6 1 30 1 24 1-20 1-10 1-16 1 13 1 17 22 81 1 4 1 2 1 2 1 2 1 2 1 1 1 1 1 6 1-1 1 2 1 5 1 3 1 0 1 5 1 5 1-1 1-3 1 3 1 1 1 1 1 56 1-59 1 1 1 2 1-6 1-6 1 5 1-2 1 3 1 0 1 4 1 1 1-2 1-2 1 0 1 1 1-3 1-5 1 0 1 0 1-1 1-3 1 2 1-6 1 0 164-134 1 4 1 0 1 3 1 26 1 3 1 7 1-3 1-12 1-21 1-37 1-22 1-36 1-3 1-14 1 1 1 19 1-87 1 124 1 21 1 16 1 7 1-4 1-16 1 6 1-8 1-5 1 8 1-24 1-28 1 17 1 41 1 16 1 68 1-62 1-30 1-60 1-11 1 57 1 35 1-40 1-10 1-21 1-28 1 8 1 4 1 14 1 16 1 26 1 42 1-13 1-14 1-1 1 19 1-8 1-44 1-10 1 55 1-49 1 58 1-69 1 53 1 36 1-14 1-2 1-12 1 76 1-43 1-41 1 16 1 40 1-4 1-23 1 28 1-48 1-34 1-40 1 64 1-83 1-25 1 217 1-142 1 72 1 2 1-33 1 45 1 19 1 16 1 8 1-15 1-80 1-42 1 76 1-15 1-73 1 14 1 39 1 8 1-6 1-77 1 21 1 9 1 67 1-1 1-1 1-12 1 4 1 21 1-15 1-25 1-35 1 41 1-115 1 156 1-21 1 25 1 3 1 67 1 37 1 15 1 5 1 6 1 2 1-1 1 3 77 33 1 6 1 5 1 9 1 6 1-1 1 0 1-26 1 3 1 11 1 52 1-37 1-26 1 38 1 9 1 13 1-180 1 148 1-68 1 17 1-62 1-12 1-21 1 59 1 35 1-18 1 37 1-7 1-60 1 1 1-33 1 22 1 22 1-12 1 29 1 24 1-29 1 14 1-6 1-8 1 38 1-27 1-12 1-1 1 13 1 13 1-29 1 31 1 32 1 26 1-24 1-33 1-37 1 6 1-6 1-4 1-18 1-53 1 10 1 9 1 0 1-26 1 9 1 9 1-19 1 30 1 4 1 6 1 11 1-9 1-4 1 14 1 16 1 12 1-23 1 9 1 14 1-59 1-17 1-3 1-2 1 47 1 15 1-25 1-17 1-45 1-20 1 42 1-43 1 23 1-13 1-2 1 2 1 37 1-5 1 0 1 7 1-52 1 33 1-37 1-10 1 15 1-21 1-23 1 30 1-3 1 18 1 4 1-8 1 24 1-15 1 26 1-29 1-24 1-11 1 6 1-20 1-7 1 30 1-1 1 16 1-3 1-20 1-20 1 4 1 0 1-14 1-9 1 33 1 15 1-5 1-18 1-14 1 41 1-26 1 46 1-34 1-46 1 53 1-15 1 31 1-5 1-23 1 17 1-23 1 4 1-13 1-58 1 24 1-12 1 4 1 22 1-47 1 34 1 27 1 70 1 10 1-10 1-46 1-9 1-64 1 31 1-4 1-9 1 10 1 25 1 10 1-54 1 69 1-7 1-126 1 128 1-45 1 21 1-13 1 119 1-126 1 42 1 23 1-1 1-34 1-11 1 1 1-50 1 53 1 9 1-45 1 73 1 66 1-72 1-8 1-29 1 37 1-47 1 31 1 18 1 35 1-70 1-13 1 8 1 42 1 4 1 24 1 9 1-38 1 0 1-10 1-3 1-24 1 47 1 19 1-78 1 55 1-19 1-49 1 68 1-1 1 11 1-10 1-4 1-57 1 37 1-18 1 8 1 4 1-22 1-22 1 0 1 64 1-18 1-10 1 12 1-8 1 47 1 10 1 64 1-18 1 43 1-46 1-9 1-41 1-9 1-4 1 22 1 36 1-18 1-44 1 9 1 1 1-7 1 33 1 31 1-28 1-20 1-66 1 9 1 48 1-15 1 42 1 24 1 16 1 12 1-12 1 27 1 20 1-6 1-17 1 32 1 30 1-47 1 15 1-14 1 67 1-41 1-39 1-38 1 37 1-43 1 29 1-21 1 52 1 43 1 16 1-100 1-52 1-81 1 133 1-22 1-9 1 12 1 28 1 150 1-160 1-1 1-48 1 80 1 53 1-25 1-25 1 56 1 60 1-46 1-12 1-47 1-5 1-111 1-70 1 64 1 19 1 34 1 14 1 26 1 9 1-4 1 16 1-18 1 46 1-31 1-4 1 30 1-10 1 26 1 31 1 7 1-26 1 43 1-7 1-43 1 52 1-13 1 4 1 12 1-29 1 19 1-40 1-21 1 0 1 65 1 7 1 21 1-26 1 8 1-64 1 5 1 23 1-11 1-46 1-24 1 50 1 56 1 66 1-26 1-49 1 23 1 7 1 27 1-56 1 35 1-1 1-30 1-10 1-1 1 16 1-27 1-19 1 18 1 6 1 23 1 30 1-77 1 7 1 19 1 7 1-34 1 35 1 57 1-23 1-37 1 25 1-7 1-3 1 2 1-22 1-1 1-24 1-58 1 59 1 16 1-1 1 44 1-17 1 27 1 9 1-26 1-46 1 18 1 4 1 24 1-51 1 0 1 8 1 5 1-3 1 1 1-55 1 3 1-5 1-21 1 16 1 1 1-13 1-13 1 20 1-35 1 17 1-7 1 17 1 41 1 13 1-10 1 19 1 18 1-2 1 12 1-19 1-7 1-18 1-19 1-8 1-22 1-5 1 40 1-1 1-20 1 26 1 11 1-45 1-24 1 36 1-10 1-4 1-18 1-24 1 29 1-20 1 13 1 36 1-3 1-18 1 6 1 2 1-21 1 1 1-33 1-38 1 1 1-29 1 6 1 17 1 19 1 56 1-33 1-12 1-9 1-21 1 62 1-29 1-7 1-4 1 63 1-26 1-30 1 30 1-28 1-59 1 45 1 26 1-47 1-29 1 13 1-18 1-30 1-12 1 82 1 38 1-43 1-3 1 6 1-10 1 1 1 56 1-36 1-30 1 1 1-20 1-9 1-6 1-24 1 53 1-24 1 49 1-40 1-33 1 18 1-7 1 36 1 21 1 76 1-146 1-29 1 17 1 5 1 10 1-104 1 104 1 35 1-9 1 3 1 41 1-12 1 23 1 32 1 20 1-87 1-19 1-33 1-5 1 16 1 79 1-27 1-7 1-3 1 47 1-27 1 11 1 18 1 6 1-68 1-27 1 37 1-43 1 14 1-27 1 36 1 13 1-35 1 12 1-15 1 4 1 54 1 10 1 9 1 40 1-13 1 26 1-9 1-10 1-26 1-32 1-30 1-17 1 32 1 19 1-24 1 44 1-24 1-9 1-34 1-8 1 44 1 19 1-18 1-152 1 185 1-1 1 28 1 3 1-21 1-35 1 43 1-74 1-2 1-33 1 11 1 48 1 1 1-2 1 9 1 64 1 27 1-14 1-34 1-16 1 8 1-9 1-4 1-26 1-25 1-13 1 24 1-12 1 77 1 5 1 7 1 14 1-43 1-34 1 1 1 23 1 16 1 41 1 23 1 7 1 8 1-20 1 4 1-34 1-30 1 85 1-138 1 56 1 60 1-50 1 14 1-13 1-58 1 17 1 20 1 37 1-124 1 88 1-36 1 52 1-16 1 36 1-47 1 5 1-46 1-23 1 72 1-11 1-2 1 38 1-44 1 95 1-56 1-19 1 93 1-92 1 73 1-3 1 5 1-50 1 8 1-43 1 49 1-8 1-20 1-8 1 7 1 46 1 12 1-32 1-25 1-23 1 51 1 26 1-40 1-46 1 26 1 0 1 42 1 6 1 23 1 33 1 33 1-23 1 19 1-33 1-46 1 21 1 51 1 45 1-24 1-78 1 22 1-4 1 29 1 37 1-30 1-31 1-9 1-16 1-23 1 30 1-15 1 8 1 3 1-7 1 42 1-11 1 6 1 38 1-9 1-55 1-1 1-1 1 39 1 63 1-9 1-17 1 42 1-41 1 5 1 11 1-8 1-10 1 7 1 46 1 3 1 33 1-60 1 21 1 35 1-2 1-16 1 17 1 0 1-17 1-30 1-4 1 16 1-33 1-34 1 21 1-29 1-16 1 13 1 8 1 11 1 11 1 16 1-2 1-17 1-58 1 53 1 30 1 20 1-1 1-25 1 23 1 1 1-42 1 46 1-45 1-2 1 66 1-35 1 5 1 30 1-12 1-56 1-11 1 7 1-46 1 67 1 9 1 21 1 0 1 5 1 45 1-129 1 38 1 5 1 57 1-54 1 8 1 68 1-62 1-36 1 17 1 52 1-43 1 4 1-5 1-13 1-2 1 37 1-3 1-39 1-9 1 13 1-31 1-2 1 6 1-41 1 75 1-38 1 16 1 5 1-7 1 38 1-3 1-23 1 28 1 5 1-31 1-32 1 29 1-3 1-31 1 20 1-29 1-5 1-8 1-31 1 35 1 88 1-3 1-7 1-22 1-12 1-1 1 6 1-22 1-4 1-10 1 11 1 15 1 15 1-31 1-25 1 14 1-20 1-16 1 10 1 4 1 41 1-81 1 47 1-40 1 26 1-71 1 4 1-18 1 86 1-52 1 46 1-43 1-40 1 24 1 42 1-11 1 15 1-3 1-12 1 40 1-20 1 16 1-60 1-9 1 32 1-26 1-76 1 47 1 25 1-10 1 5 1-11 1 14 1 31 1-2 1-13 1-21 1-5 1-15 1 31 1-37 1-12 1 16 1 10 1 3 1-18 1 4 1-39 1-31 1-15 1 31 1 48 1-14 1-14 1-2 1 55 1-4 1-6 1-24 1 14 1 34 1-9 1-37 1 38 1-14 1 48 1-58 1-12 1 5 1-67 1 16 1 30 1-5 1 17 1 2 1-38 1 34 1-34 1-5 1-22 1 41 1-17 1-12 1-78 1 22 1 71 1-83 1 48 1 156 1-204 1 12 1 66 1 5 1 18 1 42 1-30 1 27 1-67 1-32 1 65 1 38 1 9 1-226 1 134 1-29 1 66 1-54 1-34 1-3 1 23 1-9 1 1 1 15 1 4 1-42 1-14 1 55 1 2 1 39 1 17 1 9 1-13 1 23 1-26 1 44 1-6 1-3 1-25 1-24 1-9 1-14 1-18 1-20 1 25 1 49 1 61 1 7 1-22 1 9 1 45 1-20 1 17 1-8 1-13 1-32 1 23 1-36 1-29 1 27 1 43 1 29 1 19 1-26 1-11 1 38 1 61 1-129 1 54 1 1 1-8 1-32 1-19 1-35 1 33 1-26 1 14 1-42 1 76 1 35 1-48 1 31 1-11 1-27 1 19 1 47 1 62 1-8 1 34 1 4 1 1 1 14 1-89 1-20 1 64 1-70 1-27 1 89 1-51 1 9 1 13 1-13 1 37 1 23 1-38 1 62 1-49 1-19 1-3 1 13 1-36 1 24 1-67 1 13 1-3 1 5 1 25 1 28 1-10 1 19 1-35 1 12 1 51 1-15 1 2 1 11 1 36 1 12 1-9 1-36 1 16 1-85 1 42 1-5 1 36 1 6 1 43 1-24 1-53 1 19 1-1 1 10 1 41 1-25 1 22 1 22 1 19 1-68 1 9 1-16 1 1 1-16 1 2 1 31 1 41 1 4 1-44 1 30 1-39 1-8 1 33 1-21 1 20 1-12 1-33 1 15 1-9 1 58 1 43 1 24 1-56 1 44 1-13 1-3 1-9 1-25 1 1 1 21 1 91 1-62 1-17 1-22 1-11 1 39 1 5 1-7 1-50 1-38 1 33 1 22 1 29 1-2 1-23 1-45 1-11 1-46 1 39 1 32 1 50 1-55 1-28 1 40 1 21 1-57 1-1 1 25 1 2 1 26 1 6 1-17 1 19 1-3 1 40 1-65 1-3 1-21 1 1 1 25 1 28 1-96 1 71 1 24 1 15 1-8 1 31 1-2 1-94 1-19 1 4 1-1 1-5 1 40 1-44 1-15 1-21 1 25 1 36 1-30 1 32 1-16 1 68 1-100 1 20 1 61 1-19 1-43 1-21 1 43 1-15 1 55 1-4 1-28 1-16 1 24 1 34 1-44 1-43 1-28 1 35 1 63 1-30 1 9 1-22 1 15 1-46 1 14 1-32 1-12 1 13 1-3 1-1 1 9 1 0 1 22 1 1 1-27 1-7 1-15 1-8 1 33 1-24 1 20 1 17 1 34 1-26 1-14 1-9 1-19 1 24 1 21 1-64 1-10 1 21 1-28 1-14 1 1 1-2 1-6 1-5 1 41 1-71 1-9 1-25 1 19 1-7 1 25 1 3 1 89 1-76 1-24 1 43 1-27 1 7 1-87 1 55 1-8 1 33 1-62 1-24 1-37 1 117 1-114 1 43 1 19 1 70 1-8 1-83 1 31 1-109 1 86 1-111 1 59 1-16 1 54 1-97 1 135 1-50 1 98 1-12 1 95 1-118 1 41 1-26 1-48 1 48 1-24 1-41 1-1 1-26 1 9 1 15 1 61 1-11 1-38 1 39 1-20 1-41 1-38 1 98 1-10 1 64 1-63 1-47 1 80 1-25 1-14 1-11 1-35 1 53 1-42 1 38 1-32 1 91 1 5 1 16 1-67 1 11 1-18 1-21 1-13 1 37 1 4 1-11 1-93 1 73 1-2 1 6 1-20 1-6 1-40 1 33 1 40 1-1 1 50 1-23 1 7 1 35 1 0 1-26 1 13 1-11 1 33 1 13 1-17 1 8 1 40 1 13 1 1 1-29 1-34 1-30 1 35 1-43 1 19 1 54 1-65 1 18 1-31 1 6 1 26 1-30 1-34 1 9 1 29 1 0 1-23 1 52 1-38 1-42 1 38 1 119 1-36 1-8 1-45 1-14 1-32 1 38 1-14 1-14 1 64 1-57 1 63 1-4 1-34 1 15 1-1 1 28 1-4 1 94 1 28 1 23 1-89 1-22 1 49 1 9 1-16 1-14 1 32 1-82 1-18 1-29 1 67 1-36 1 12 1 63 1-9 1 14 1 2 1 23 1 64 1-58 1-5 1 49 1 56 1-38 1 23 1-5 1-4 1-65 1-54 1 17 1 3 1 2 1-35 1 68 1-7 1 97 1-32 1-1 1 16 1-28 1-43 1-14 1 14 1-9 1 93 1-34 1 30 1 23 1 52 1-119 1 26 1 39 1-6 1-10 1-107 1-26 1 24 1 35 1 53 1-15 1 13 1-48 1 44 1 35 1-15 1 38 1-33 1-31 1-13 1 80 1-88 1 9 1-16 1 6 1-56 1 42 1 27 1-12 1-14 1 8 1 35 1-53 1 53 1-14 1 24 1-31 1 57 1-9 1 35 1-40 1-29 1 28 1 7 1-4 1 21 1-8 1-25 1-59 1-52 1 41 1 26 1-20 1 23 1-3 1 3 1 25 1-45 1 15 1 15 1-7 1 3 1-31 1 9 1 18 1 17 1-29 1 21 1 1 1 11 1-14 1 12 1-6 1 71 1-40 1 19 1-23 1-61 1 20 1 36 1 12 1 8 1-43 1 4 1 79 1-66 1 38 1-55 1-18 1-39 1-12 1 1 1-23 1 7 1 40 1-1 1 32 1-8 1 3 1-41 1 40 1-37 1-1 1-29 1 34 1-24 1 30 1 59 1-8 1-83 1 36 1-1 1 11 1 0 1 19 1 8 1-25 1-51 1-4 1 20 1-61 1 13 1-48 1 50 1 58 1 11 1-33 1 14 1 26 1 29 1 12 1-2 1-70 1-22 1 3 1-14 1-81 1 4 1-16 1 21 1 19 1-52 1-13 1 24 1-29 1 16 1-18 1-8 1 52 1-2 1-17 1 60 1-23 1-7 1-4 1 95 1-13 1-2 1-42 1 9 1 13 1-62 1 5 1 40 1 32 1-26 1 42 1-60 1 8 1-10 1-54 1 22 1-51 1-18 1 2 1-30 1 45 1-15 1-32 1 18 1 6 1-27 1-5 1 44 1 32 1-63 1 51 1 37 1 37 1-43 1-46 1-4 1-28 1-3 1-18 1 1 1-5 1 18 1 18 1-3 1-12 1 72 1 26 1 1 1-49 1 22 1-159 1 163 1-1 1 82 1-33 1-59 1 33 1 26 1 25 1-123 1-27 1 211 1-264 1 35 1 41 1 43 1 24 1-14 1 41 1-15 1-109 1 5 1-11 1 28 1-5 1 0 1 55 1-31 1-43 1 24 1 29 1-3 1 0 1-19 1-37 1-8 1-15 1 65 1-3 1 55 1-13 1-35 1 12 1 9 1 46 1-83 1-3 1 26 1-21 1 15 1-3 1 57 1 35 1-92 1-46 1-6 1 21 1 12 1-3 1 38 1 36 1-2 1-14 1 2 1-27 1 35 1 23 1-37 1 45 1-13 1 17 1-13 1-15 1 14 1-38 1-5 1-29 1 26 1-2 1-3 1-8 1 25 1 8 1-7 1-11 1 53 1 31 1-49 1 30 1 3 1-3 1 1 1-47 1 72 1 40 1-27 1-19 1-9 1-30 1 14 1-7 1-34 1-8 1-10 1-6 1 4 1 34 1-9 1-46 1 72 1-18 1 63 1 2 1 16 1-46 1 8 1-15 1 5 1 28 1-21 1 45 1-80 1-38 1 50 1 41 1 58 1 69 1-10 1 9 1-18 1-17 1 51 1-77 1-34 1-2 1 41 1 15 1 37 1-37 1-18 1 16 1-29 1-20 1 34 1-3 1 31 1 0 1-12 1-24 1 40 1-4 1-23 1-28 1-13 1 9 1 39 1-17 1 12 1 7 1-60 1-4 1 34 1-25 1 36 1 8 1-23 1 45 1-2 1 29 1-3 1-19 1 21 1 28 1 11 1-38 1 8 1-28 1-9 1 33 1-32 1 57 1-41 1-24 1 26 1-1 1 1 1-15 1 27 1 105 1-97 1-17 1-28 1 16 1-39 1 8 1 37 1 27 1-8 1-59 1 35 1 32 1 1 1 30 1 14 1-53 1-4 1-9 1 40 1 16 1-11 1 2 1 9 1-30 1-10 1-6 1-12 1-7 1 9 1-32 1-20 1 34 1 44 1 40 1-66 1 9 1-25 1-10 1 1 1 17 1 16 1-67 1 0 1 45 1 6 1-42 1-13 1-4 1 47 1 54 1-41 1 16 1-11 1 18 1-12 1-35 1-11 1-8 1 60 1-27 1 21 1-30 1-17 1 17 1-15 1 78 1 33 1-62 1 14 1 44 1-62 1-15 1 52 1-39 1 20 1-9 1 2 1-38 1 3 1-10 1 67 1 10 1-11 1-12 1 17 1-75 1-33 1-20 1-11 1-45 1 61 1 0 1 78 1-8 1 86 1-80 1 16 1-24 1 23 1 48 1-49 1 46 1-41 1 21 1-31 1-41 1 3 1-72 1-77 1 22 1 4 1-47 1 139 1 6 1-56 1 24 1 17 1-37 1-19 1-94 1 36 1 103 1 33 1 17 1-65 1-69 1 40 1-1 1-23 1-22 1 37 1 10 1-178 1 127 1-71 1-28 1 53 1-4 1-19 1 33 1 61 1-38 1-6 1-1 1 99 1 16 1-16 1-72 1 29 1 13 1-18 1-33 1-12 1-51 1 10 1 4 1-13 1 12 1-36 1 73 1 5 1-34 1 49 1 27 1 69 1-136 1 14 1 30 1 27 1 28 1 16 1-75 1 6 1-68 1 54 1 17 1 30 1-12 1-10 1-25 1-94 1 21 1 107 1 31 1-29 1-2 1 1 1-32 1-5 1 8 1-22 1 14 1 33 1 10 1-11 1-23 1 12 1-33 1-30 1 50 1-27 1-61 1-62 1 136 1 39 1-24 1 36 1-28 1-55 1-4 1 15 1-44 1 6 1 21 1-12 1 12 1 4 1-27 1 25 1 26 1-77 1-5 1 52 1 23 1-69 1 30 1 63 1 26 1 15 1-19 1-5 1-45 1 11 1 87 1-18 1-43 1 21 1-70 1 96 1 12 1-19 1-15 1-27 1 15 1 9 1-42 1 52 1-5 1-25 1 47 1 26 1-24 1-19 1 45 1-18 1 8 1 46 1-57 1-50 1-12 1 2 1 23 1 50 1-14 1 68 1-4 1 40 1-113 1 36 1 38 1-38 1-5 1 80 1-18 1-51 1-56 1-1 1 27 1-32 1 63 1-28 1-60 1 47 1 12 1-1 1 49 1-28 1 22 1-24 1 48 1-16 1-10 1 8 1-13 1 5 1-14 1 11 1-5 1-18 1 14 1 8 1-30 1-3 1-33 1 18 1 30 1 55 1-8 1 11 1 18 1-4 1-60 1-10 1 11 1 6 1 1 1-20 1-35 1 24 1 33 1-11 1 14 1-12 1 2 1-8 1 28 1-20 1 11 1 25 1-4 1-33 1 16 1-2 1-29 1 6 1 1 1 19 1-9 1 5 1 14 1-37 1 29 1 3 1-16 1 12 1 25 1-12 1-4 1 31 1 25 1 25 1-13 1-24 1-15 1 0 1-10 1 16 1 23 1-18 1 26 1-17 1-8 1-16 1 21 1 4 1 4 1-43 1 6 1 19 1-38 1 54 1 11 1 22 1-9 1 17 1 20 1 40 1-42 1 34 1-41 1 59 1-78 1-7 1-44 1 4 1-18 1 9 1 16 1 6 1 0 1 34 1 1 1 8 1 25 1-15 1-6 1 10 1-15 1 27 1-25 1-8 1-3 1-7 1 2 1-9 1-46 1 41 1-4 1 22 1-22 1 21 1-25 1 44 1-4 1-9 1-66 1-34 1 21 1 12 1 9 1 9 1 51 1-5 1-3 1 65 1-100 1 25 1-6 1-4 1 12 1 1 1 17 1 8 1-43 1-19 1 26 1-13 1 12 1-26 1-55 1-33 1 9 1 11 1 69 1 11 1 6 1 7 1-51 1-1 1-5 1 39 1-30 1-37 1 4 1-5 1 0 1 2 1-3 1-21 1-13 1 53 1-32 1 3 1-37 1-49 1 36 1 7 1 36 1 17 1-10 1-36 1 51 1-18 1 48 1-9 1 0 1-8 1-12 1-32 1 58 1-65 1-69 1 10 1-28 1 37 1-17 1 38 1-15 1-42 1-12 1 30 1-29 1-90 1 72 1 24 1 48 1 5 1 17 1-22 1 51 1 47 1-60 1-13 1-20 1 0 1-20 1-26 1-37 1-1 1 16 1 42 1 15 1-20 1-20 1-38 1 38 1 9 1 22 1 19 1 7 1-13 1-14 1-30 1-9 1 22 1 65 1-28 1-2 1 79 1-30 1-32 1-14 1-16 1-57 1 34 1-46 1 0 1 3 1 24 1-1 1-7 1-16 1 20 1-2 1-12 1-29 1-7 1 26 1-37 1 30 1 21 1 55 1-30 1-35 1 8 1-95 1 0 1 84 1 22 1 11 1-29 1 25 1-8 1 65 1 12 1 35 1-74 1-39 1-11 1-19 1 72 1 2 1-59 1-11 1 85 1-38 1 16 1-108 1-23 1 5 1 12 1 25 1 39 1 69 1-100 1 25 1 51 1 14 1 52 1-24 1-28 1-34 1 45 1-53 1-3 1 12 1 31 1-9 1-26 1 34 1-33 1-8 1-46 1 40 1 27 1-40 1 21 1 40 1-10 1-39 1 22 1 39 1-53 1 51 1 7 1 36 1-39 1 38 1 7 1 21 1-10 1 25 1-23 1-25 1-40 1-48 1 30 1 6 1 13 1 131 1-102 1 7 1-20 1 36 1 70 1-55 1-23 1 17 1-31 1 36 1-29 1-35 1-14 1 47 1-51 1 22 1-39 1 43 1 21 1 19 1 43 1-15 1 13 1 0 1 8 1-24 1 15 1-12 1 20 1 5 1-9 1 3 1 3 1-2 1 38 1-28 1-29 1-20 1 5 1 7 1 24 1 23 1 3 1 3 1-15 1 22 1 23 1-5 1 11 1-12 1 3 1 5 1 18 1-28 1 8 1 24 1 8 1 14 1-58 1-6 1 6 1-3 1-36 1 50 1 18 1-37 1 8 1 18 1 35 1 18 1-26 1-9 1 15 1 29 1-14 1-15 1 20 1 4 1 37 1 2 1 16 1-77 1-38 1-33 1 2 1 33 1 4 1 28 1-21 1 41 1 24 1-65 1-25 1-3 1 44 1 29 1 54 1-70 1 7 1-3 1-11 1-3 1-69 1 33 1-3 1-31 1 62 1-23 1 10 1-18 1-34 1 4 1 21 1-17 1 22 1 39 1 17 1-19 1-23 1 19 1-35 1-17 1 46 1 5 1 5 1-12 1 57 1 47 1-36 1-5 1-26 1-3 1 17 1 11 1-24 1-4 1 70 1-27 1 5 1-14 1-22 1-36 1-24 1-30 1-10 1-2 1 32 1-28 1 24 1-34 1 76 1-17 1 5 1 41 1-16 1-4 1 1 1 10 1-18 1 41 1 16 1-13 1 17 1-22 1-26 1-8 1 8 1-45 1-3 1 14 1-30 1 13 1-27 1 11 1-1 1 9 1-19 1-44 1-47 1 117 1-43 1-17 1-33 1 52 1 20 1 17 1-42 1 24 1-30 1 26 1-12 1-64 1 9 1-15 1 75 1-47 1-8 1-7 1-23 1-16 1 9 1 19 1-12 1-4 1 7 1-33 1 6 1 14 1 49 1 21 1 7 1 22 1-55 1 41 1-36 1-17 1-25 1 29 1-40 1 28 1-23 1-23 1 25 1-39 1 62 1-39 1-16 1 56 1-67 1 46 1 0 1-1 1 3 1-41 1 69 1 5 1 8 1 11 1 14 1-17 1-59 1-55 1-99 1 68 1 58 1-41 1 5 1 36 1-7 1-3 1-28 1 20 1-8 1-10 1 3 1 28 1 38 1-43 1 23 1-35 1-48 1 5 1 25 1 13 1 21 1-53 1 58 1 25 1 13 1-52 1 20 1-13 1-8 1 8 1-39 1 46 1 30 1 16 1 29 1-71 1-10 1-9 1-35 1 41 1 85 1-55 1 13 1-7 1-2 1-2 1 15 1-27 1-12 1 49 1-12 1-9 1-56 1 24 1 20 1 5 1 41 1-75 1 32 1-53 1-20 1-44 1 55 1 9 1-4 1-65 1 19 1 5 1 27 1-5 1 11 1-33 1 23 1 3 1 15 1 43 1-8 1-22 1 10 1-32 1 48 1-8 1-6 1 9 1-41 1 4 1-2 1 64 1 26 1 29 1-29 1-17 1 13 1-39 1-34 1 47 1 3 1 2 1-60 1-5 1-4 1-10 1 23 1-18 1-20 1 77 1 12 1-34 1 69 1 4 1-2 1-95 1 63 1 4 1 36 1 40 1-63 1 52 1 6 1-17 1-86 1 71 1 0 1 9 1-47 1 22 1 15 1 38 1-43 1-65 1 1 1-9 1 31 1 9 1 18 1 41 1 41 1-15 1-53 1 6 1-1 1 3 1 2 1 4 1-48 1 33 1 21 1 11 1-2 1 23 1-44 1 7 1 24 1-9 1 4 1 33 1-7 1-26 1-8 1 22 1-31 1 13 1-5 1 13 1 35 1 24 1-6 1 1 1 24 1-41 1 7 1-41 1 58 1-1 1-51 1-6 1 36 1 9 1-53 1 66 1 0 1 4 1-14 1-20 1-30 1 22 1 12 1 4 1 27 1 9 1-22 1 0 1 33 1-30 1 55 1-19 1 57 1-6 1-50 1 12 1 0 1-10 1 4 1 4 1-74 1 143 1-100 1 9 1 18 1-1 1-24 1 19 1-7 1 4 1-13 1 0 1-13 1 31 1-21 1 18 1-36 1 11 1-3 1 20 1 1 1 37 1 37 1-36 1-3 1-32 1-23 1 0 1 17 1 8 1-10 1 17 1-30 1-16 1 3 1-29 1 39 1 0 1-3 1 15 1-29 1 8 1-34 1 15 1 21 1 61 1-4 1 40 1-17 1-64 1 32 1 0 1-21 1 35 1-40 1-5 1 31 1 26 1-28 1 10 1 1 1 19 1-14 1-67 1 106 1-44 1-30 1-4 1 23 1-13 1-31 1 2 1-4 1-19 1 2 1-26 1-23 1-7 1 13 1 13 1-5 1 31 1 10 1-6 1 17 1 18 1-4 1-29 1 7 1 10 1-9 1-18 1-6 1-5 1-52 1 37 1-9 1 39 1-20 1-39 1 14 1-9 1 14 1-24 1-16 1-15 1-10 1 16 1-23 1 12 1 23 1-19 1-1 1-11 1-1 1 9 1 17 1 17 1-20 1 14 1-18 1-26 1-15 1-33 1 20 1-29 1 26 1 74 1-31 1-49 1 22 1-19 1 10 1 7 1 10 1 57 1-7 1-7 1-15 1-28 1-20 1-27 1 35 1-6 1 21 1 4 1 68 1-32 1 2 1-45 1 36 1-28 1-10 1-120 1 89 1 70 1 35 1-73 1 29 1-42 1-64 1-28 1 76 1-6 1-36 1 32 1 22 1-7 1 23 1-12 1 48 1 18 1-16 1 4 1 24 1-20 1 10 1-16 1-18 1-72 1-27 1-9 1 32 1 110 1-48 1-16 1-40 1 2 1 6 1 32 1-42 1 130 1-90 1-8 1-35 1-20 1 12 1 31 1 1 1-20 1 18 1-29 1 35 1 90 1-45 1 17 1-48 1-2 1 11 1 26 1-15 1 28 1-58 1-10 1-2 1 2 1-58 1 108 1-29 1 23 1-2 1 46 1-34 1 3 1-2 1-107 1 27 1 36 1 39 1-43 1-7 1 35 1-40 1-18 1 25 1 22 1 34 1 19 1-12 1-45 1-21 1 5 1 16 1 1 1 26 1-33 1-12 1-37 1 82 1-14 1 29 1 30 1-9 1-25 1-29 1-12 1-62 1 0 1 48 1 17 1 31 1 21 1 12 1-14 1-6 1 24 1-31 1-62 1 43 1-2 1 45 1-41 1-76 1 13 1-14 1-38 1 119 1 14 1-59 1-59 1 30 1 53 1 23 1 56 1 2 1 8 1-92 1 70 1-21 1 43 1-58 1-13 1 62 1-33 1 23 1 0 1 61 1 5 1 28 1-14 1-51 1 59 1-25 1-1 1-3 1-39 1 29 1-6 1-36 1-18 1-29 1 14 1 23 1 0 1 21 1 8 1 25 1 7 1 1 1-12 1-17 1-4 1 24 1-1 1 41 1 14 1-38 1 14 1 27 1-25 1 27 1-28 1 36 1 1 1-18 1-53 1 4 1-16 1 23 1-23 1 28 1-12 1 28 1 30 1-1 1 13 1 31 1-56 1 20 1 1 1 51 1-29 1 22 1-79 1 49 1 6 1 3 1 22 1-57 1-4 1 115 1-114 1-11 1 40 1-2 1-11 1 2 1 41 1 46 1 7 1-13 1-66 1-21 1-26 1-17 1 51 1-17 1 46 1-4 1-10 1-9 1-40 1 0 1 35 1 20 1-1 1 14 1-4 1 5 1 61 1-22 1-70 1-62 1-2 1 27 1 43 1-1 1 5 1 18 1-36 1 3 1 15 1-12 1-22 1 32 1 47 1-4 1-100 1-10 1 8 1 47 1-8 1-4 1 142 1-1 1-20 1-80 1-62 1 59 1-37 1 14 1 1 1 19 1 23 1-53 1-14 1 31 1 14 1-52 1 110 1-68 1 57 1-71 1 58 1-70 1 57 1 10 1 32 1-39 1 9 1 5 1-3 1-31 1 48 1-85 1-49 1-31 1 71 1-26 1-15 1-11 1 3 1 2 1-6 1-30 1 25 1 7 1 40 1 0 1-13 1-41 1 7 1 18 1 40 1-4 1 7 1 0 1 29 1 6 1-26 1-64 1 46 1-13 1-36 1-46 1-43 1 31 1 9 1 19 1 41 1-28 1 7 1-21 1-26 1-60 1 2 1 57 1-9 1 18 1 7 1 63 1 28 1-47 1-26 1 31 1-7 1-13 1 22 1-5 1-17 1 71 1-30 1-70 1-4 1-5 1 32 1-16 1-36 1-1 1-40 1-8 1 9 1-21 1-39 1-8 1 0 1 32 1-2 1 8 1-17 1 16 1-9 1 30 1 14 1 50 1 6 1-28 1-39 1 10 1 27 1 48 1-45 1-61 1-63 1-14 1 20 1 10 1 6 1 14 1-69 1 30 1 26 1 9 1 7 1-5 1-61 1 51 1-2 1 14 1 26 1 8 1 21 1 16 1-43 1-38 1 50 1-26 1 93 1-63 1 2 1-8 1 5 1-38 1 15 1 63 1-39 1-81 1 31 1 14 1 20 1-34 1 16 1 26 1-27 1-2 1 14 1 18 1-21 1 0 1 62 1 45 1-78 1 62 1-51 1 18 1-77 1-15 1-29 1 38 1 2 1-76 1 94 1-1 1 30 1-11 1-12 1-29 1-29 1-4 1 32 1 47 1-8 1 73 1 25 1-28 1-8 1-20 1-80 1 42 1 7 1-63 1 48 1-18 1 0 1-53 1 23 1 34 1-6 1 10 1-57 1 42 1 12 1 8 1 30 1 32 1-13 1 22 1 44 1-60 1-4 1-55 1 21 1 45 1-14 1-39 1-10 1 22 1-41 1-27 1 38 1-29 1 24 1-18 1-29 1 53 1 47 1-25 1 77 1-12 1 3 1-7 1-41 1 34 1-1 1 11 1-2 1-15 1 61 1-6 1-20 1 8 1-36 1 12 1 58 1-31 1 4 1-29 1 5 1 22 1-20 1-12 1 27 1 4 1 9 1 5 1-25 1-22 1-17 1 24 1-12 1-12 1 10 1 13 1 16 1-18 1 33 1-9 1 10 1 5 1-9 1 14 1 10 1 18 1 25 1 22 1-1 1-4 1-19 1-31 1 8 1-11 1-3 1-7 1 12 1-8 1 54 1 8 1-26 1 4 1 33 1-47 1 6 1-19 1 7 1-14 1 16 1 23 1 27 1-71 1 46 1 2 1-28 1 7 1 83 1-22 1-46 1 38 1-12 1 32 1 3 1 49 1-46 1-18 1 43 1 50 1-18 1 22 1-9 1-21 1-66 1 73 1 21 1-90 1 30 1 112 1-162 1-6 1 35 1 1 1-5 1-1 1-8 1 22 1-63 1-23 1 20 1-17 1 29 1 4 1 28 1 1 1 25 1-1 1 23 1-19 1-58 1 16 1 12 1-9 1 41 1 13 1 43 1-34 1-26 1 13 1 43 1-49 1 9 1-14 1-21 1 33 1 21 1 10 1-49 1-9 1-71 1 36 1-47 1 5 1 47 1-9 1 8 1-27 1 109 1-73 1-27 1-2 1 114 1-52 1-11 1 25 1 72 1-133 1 11 1 57 1 37 1-20 1 11 1-68 1-68 1-11 1 9 1-14 1 17 1 17 1 51 1-36 1-35 1 10 1-2 1 10 1 44 1-52 1 14 1 30 1 17 1-69 1-12 1 34 1-12 1 3 1-13 1 28 1-9 1-20 1-5 1 29 1-5 1-57 1-55 1 37 1-42 1 22 1-10 1 20 1-15 1-66 1 76 1 7 1-2 1 59 1 8 1 20 1-34 1-13 1 2 1-40 1 25 1 2 1-29 1-25 1 31 1-21 1 7 1 0 1-22 1-145 1 48 1 54 1-27 1-22 1 54 1-56 1 71 1 15 1 42 1-34 1-19 1-7 1-77 1-30 1 50 1-32 1-35 1 22 1 55 1-17 1-22 1-7 1 12 1-75 1 31 1 23 1 43 1 32 1 4 1 62 1-44 1-37 1-133 1 154 1-51 1-32 1 1 1-52 1 58 1 14 1 46 1-54 1-10 1-17 1 30 1 18 1 26 1 18 1-53 1 15 1 4 1 0 1 23 1-79 1-7 1 12 1-14 1-20 1 64 1 41 1 59 1-54 1-88 1 45 1-4 1-28 1 37 1 4 1-52 1 25 1-40 1 45 1-27 1-26 1 54 1 45 1-6 1-32 1 34 1 8 1 11 1-12 1-42 1 3 1 60 1-21 1 1 1 3 1 31 1 3 1-19 1 55 1-12 1-5 1-33 1-52 1 26 1-6 1 17 1-70 1 79 1 4 1 30 1-45 1 12 1 12 1 49 1 24 1-102 1 24 1 16 1-6 1 23 1 35 1 44 1-67 1-30 1 21 1 44 1-41 1 113 1-140 1 24 1 8 1 35 1 62 1-49 1 17 1-73 1 29 1 81 1-81 1-14 1-117 1 64 1 110 1-45 1 17 1 48 1-44 1 3 1-31 1-12 1 8 1 32 1 3 1-7 1-11 1 34 1 4 1 0 1-76 1 0 1-28 1 76 1 17 1 39 1-51 1-56 1-14 1 37 1-16 1 32 1 37 1-22 1 20 1-67 1-19 1 2 1 9 1-17 1 12 1 37 1 21 1 8 1-19 1 31 1 9 1-25 1 21 1-10 1 11 1 5 1 8 1 23 1 35 1-13 1-14 1-13 1 2 1 4 1-33 1 5 1 46 1 3 1 10 1-15 1 33 1-6 1-20 1-23 1 9 1 33 1-24 1-24 1-43 1 32 1-13 1-2 1-8 1-2 1 37 1-8 1 16 1-8 1 3 1 29 1 22 1-31 1 11 1-19 1 34 1-13 1-21 1 36 1-16 1 9 1 21 1-22 1-10 1 18 1 61 1-7 1-2 1-19 1-15 1 35 1-42 1-27 1 46 1-34 1-37 1 25 1 33 1 46 1 45 1-98 1-8 1-9 1 14 1-27 1 134 1-114 1 6 1-27 1 13 1-23 1-16 1 7 1 37 1-57 1 21 1 61 1 5 1-17 1 15 1 56 1-17 1-29 1 26 1-16 1-27 1 31 1-32 1-6 1 48 1-4 1 32 1-74 1-43 1-6 1 16 1-42 1 36 1 3 1 3 1 17 1 5 1-21 1 11 1-17 1 47 1-10 1-3 1-11 1 7 1 8 1-3 1-20 1 28 1-4 1-38 1-36 1-4 1-4 1-13 1 4 1 29 1 40 1 6 1 7 1 21 1 35 1 1 1-12 1-25 1-36 1 3 1 18 1-8 1-25 1 4 1-12 1-22 1-48 1 24 1-10 1 32 1-17 1 3 1-11 1 42 1 20 1-13 1 21 1-38 1 10 1-17 1-4 1-10 1 14 1-38 1 0 1 37 1-49 1 8 1-19 1-41 1 35 1 5 1 40 1-38 1 19 1 37 1-43 1 19 1 13 1-1 1 22 1 2 1-26 1-22 1-3 1 35 1-16 1 11 1-19 1 4 1-2 1 19 1 35 1-57 1-68 1-12 1-9 1 7 1 34 1-38 1-6 1-5 1 43 1-33 1 48 1 61 1-43 1 33 1-10 1-27 1 51 1 9 1-43 1-2 1-39 1-49 1 37 1-164 1 205 1-13 1-5 1-16 1-2 1-30 1-3 1-46 1-35 1-11 1 14 1 26 1 15 1 51 1 73 1-91 1 49 1 17 1-31 1-2 1-60 1 7 1 54 1-41 1-13 1 9 1 23 1-3 1-21 1 22 1-25 1 80 1 19 1-27 1-56 1-32 1-29 1-6 1 24 1-53 1 22 1 8 1-36 1 72 1 16 1 6 1-32 1-29 1 15 1-59 1 47 1-42 1-59 1 153 1-4 1-26 1-26 1 31 1-51 1 24 1 73 1-107 1-15 1 46 1-41 1-25 1-26 1 89 1-93 1 39 1 24 1 28 1-23 1 30 1-9 1-22 1 162 1 31 1-83 1-38 1 31 1 70 1-31 1 23 1-8 1 42 1-54 1-49 1 17 1 13 1-2 1 57 1 14 1-18 1-72 1 38 1 35 1-48 1-6 1-55 1 23 1-1 1-81 1 34 1 7 1 4 1 73 1 22 1 36 1-37 1 58 1-66 1 29 1-91 1 21 1-46 1-54 1 65 1 22 1 29 1-1 1 9 1-9 1-11 1 5 1 104 1-79 1-79 1-28 1-11 1-24 1 142 1 49 1-31 1 24 1 73 1-7 1 28 1-86 1 27 1 17 1-78 1 4 1 29 1-42 1 47 1 35 1-2 1-16 1-13 1 15 1 40 1-63 1 16 1 16 1-30 1-38 1 16 1-46 1 47 1 13 1-25 1 30 1-15 1-5 1 75 1-27 1-88 1 52 1-16 1-4 1 88 1 1 1 35 1-55 1-24 1-9 1 50 1-14 1-54 1 57 1-6 1 18 1 131 1-15 1-27 1 40 1-80 1 0 1 5 1-89 1-16 1-2 1 42 1-6 1-2 1-11 1 33 1 5 1 2 1-4 1 30 1-28 1 5 1 5 1 16 1 32 1 0 1-58 1 40 1 35 1 27 1 5 1-80 1-6 1 27 1 20 1-17 1-4 1-43 1 20 1-66 1 13 1 47 1-36 1 55 1 61 1-3 1-37 1-23 1-38 1 36 1-32 1 18 1-25 1 32 1-34 1 13 1-7 1 45 1-9 1 2 1 41 1-39 1-31 1 15 1-21 1 78 1 5 1 8 1-15 1-119 1 81 1 0 1-63 1-11 1 24 1 120 1-63 1 4 1 0 1-30 1-14 1 5 1-26 1 13 1 22 1-52 1 11 1 6 1 12 1 46 1-39 1 49 1 4 1 46 1-35 1-7 1-17 1 3 1-31 1-19 1 1 1 19 1-32 1-2 1-9 1 16 1 24 1-42 1-19 1 4 1-16 1 57 1 49 1 9 1-2 1-43 1-25 1 17 1 37 1-19 1 1 1 30 1 22 1-45 1-4 1 6 1-47 1-9 1 7 1-11 1 14 1-10 1-37 1-16 1-31 1-6 1 38 1 20 1 20 1 35 1-36 1-9 1 10 1 50 1-1 1-12 1 1 1-36 1-62 1 31 1-9 1 23 1-44 1-24 1 45 1 10 1 39 1-43 1 1 1 30 1 29 1-22 1-1 1-17 1-15 1-6 1 15 1-64 1 7 1-38 1 17 1-1 1 16 1-7 1-2 1-59 1 85 1-68 1-75 1 51 1 48 1 0 1-12 1-51 1 114 1-101 1 135 1-108 1-47 1 7 1-7 1 40 1-39 1-3 1-63 1 88 1-11 1-29 1 15 1 51 1 10 1-43 1 10 1 14 1 14 1-24 1 27 1-64 1 11 1-38 1 15 1-26 1 52 1-27 1 84 1-85"/>
</g>
<g class="chart">
<g class="ax">
<path d="M65.00,482.20V477.80H512.20V482.20"/>
<line x1="89.83" x2="89.83" y1="477.80" y2="482.20"/><text x="89.83" y="490.50" text-anchor="middle">1962</text>
<line x1="139.50" x2="139.50" y1="477.80" y2="482.20"/><text x="139.50" y="490.50" text-anchor="middle">1964</text>
<line x1="189.23" x2="189.23" y1="477.80" y2="482.20"/><text x="189.23" y="490.50" text-anchor="middle">1966</text>
<line x1="238.90" x2="238.90" y1="477.80" y2="482.20"/><text x="238.90" y="490.50" text-anchor="middle">1968</text>
<line x1="288.63" x2="288.63" y1="477.80" y2="482.20"/><text x="288.63" y="490.50" text-anchor="middle">1970</text>
<line x1="338.30" x2="338.30" y1="477.80" y2="482.20"/><text x="338.30" y="490.50" text-anchor="middle">1972</text>
<line x1="388.03" x2="388.03" y1="477.80" y2="482.20"/><text x="388.03" y="490.50" text-anchor="middle">1974</text>
<line x1="437.70" x2="437.70" y1="477.80" y2="482.20"/><text x="437.70" y="490.50" text-anchor="middle">1976</text>
<line x1="487.43" x2="487.43" y1="477.80" y2="482.20"/><text x="487.43" y="490.50" text-anchor="middle">1978</text>
<text x="300.20" y="504.30" text-anchor="middle" style="font-size:8.9px">DATE</text>
<path d="M60.60,284.90H65.00V477.80H60.60"/>
<line x1="60.60" x2="65.00" y1="471.95" y2="471.95"/><text x="59.00" y="475.25" text-anchor="end" style="font-size:9.6px">-10</text>
<line x1="60.60" x2="65.00" y1="452.47" y2="452.47"/><text x="59.00" y="455.77" text-anchor="end" style="font-size:9.6px">-5</text>
<line x1="60.60" x2="65.00" y1="432.98" y2="432.98"/><text x="59.00" y="436.28" text-anchor="end" style="font-size:9.6px">0</text>
<line x1="60.60" x2="65.00" y1="413.50" y2="413.50"/><text x="59.00" y="416.80" text-anchor="end" style="font-size:9.6px">5</text>
<line x1="60.60" x2="65.00" y1="394.02" y2="394.02"/><text x="59.00" y="397.32" text-anchor="end" style="font-size:9.6px">10</text>
<line x1="60.60" x2="65.00" y1="374.53" y2="374.53"/><text x="59.00" y="377.83" text-anchor="end" style="font-size:9.6px">15</text>
<line x1="60.60" x2="65.00" y1="355.05" y2="355.05"/><text x="59.00" y="358.35" text-anchor="end" style="font-size:9.6px">20</text>
<line x1="60.60" x2="65.00" y1="335.56" y2="335.56"/><text x="59.00" y="338.86" text-anchor="end" style="font-size:9.6px">25</text>
<line x1="60.60" x2="65.00" y1="316.08" y2="316.08"/><text x="59.00" y="319.38" text-anchor="end" style="font-size:9.6px">30</text>
<line x1="60.60" x2="65.00" y1="296.59" y2="296.59"/><text x="59.00" y="299.89" text-anchor="end" style="font-size:9.6px">35</text>
<text transform="translate(25.50,364.60) rotate(-90)" text-anchor="end">T.MIN</text>
</g>
<path class="ln" vector-effect="non-scaling-stroke" transform="translate(65.000,432.985) scale(0.068036,-0.194848)" d="M0 12l1 44 1 35 1-94 1 21 1-11 1-30 1 65 1-39 1-20 1 38 1-26 1 71 1-37 1-41 1-26 1 117 1 26 1-60 1-7 1 58 1-40 1-37 1 11 1 51 1 42 1-16 1 60 1 15 1-51 1-51 1 26 1 17 1-57 1 31 1 1 1-81 1-21 1 18 1 64 1 3 1 44 1-47 1-12 1-26 1-18 1-4 1 33 1 50 1-68 1 79 1 1 1 68 1 25 1-97 1-22 1-37 1-11 1-36 1-11 1 20 1-6 1-15 1 30 1 17 1 171 1-126 1 1 1 42 1-57 1 57 1-68 1 113 1-21 1-140 1 96 1-121 1 100 1 48 1-41 1 18 1 83 1-35 1-65 1-79 1 129 1-4 1-58 1 11 1 33 1-112 1 130 1-8 1 20 1-23 1 33 1 25 1-15 1-46 1-38 1 35 1 4 1-21 1 19 1-35 1 40 1-16 1 2 1 28 1 41 1-31 1-3 1-11 1-22 1 13 1 73 1-39 1-96 1 31 1 39 1-82 1 93 1 5 1-17 1 25 1-49 1 37 1-30 1 29 1 28 1-75 1-5 1-3 1-38 1-21 1 43 1-36 1-9 1 46 1-57 1 95 1 3 1-9 1 92 1-96 1 28 1 56 1 19 1-23 1 39 1 9 1-25 1-75 1-38 1-6 1 62 1-39 1 16 1 17 1 65 1-27 1 52 1-60 1-29 1-51 1 33 1 88 1 39 1-48 1 19 1 8 1-59 1 41 1-62 1 51 1 97 1-87 1 3 1 26 1-49 1-4 1 9 1 54 1-64 1 68 1-53 1-13 1-49 1 87 1-26 1 40 1-37 1 17 1-45 1-47 1 19 1 27 1 44 1 28 1-12 1 14 1-44 1-18 1 46 1-28 1 6 1-6 1-49 1-1 1 66 1-12 1 14 1 42 1-49 1 3 1-8 1-11 1-13 1-61 1 12 1 83 1-39 1-51 1 33 1 5 1 86 1-66 1 4 1 21 1-34 1-47 1 26 1 37 1-12 1 29 1-56 1 43 1 8 1 139 1-130 1-45 1 47 1 38 1-49 1-17 1 3 1-55 1 4 1-14 1 11 1 15 1-55 1 0 1 38 1 23 1 51 1-30 1 60 1 29 1-77 1 27 1 15 1-3 1-9 1 5 1-18 1-13 1-16 1 5 1-30 1 4 1-82 1 1 1 23 1 46 1 8 1-49 1 18 1-29 1 6 1-58 1 37 1 6 1 32 1-34 1 75 1 4 1-33 1-65 1 49 1 4 1 53 1-65 1 2 1-18 1-60 1 11 1-8 1 7 1 20 1 56 1-83 1-3 1 6 1 25 1 32 1-41 1 11 1-39 1-10 1 60 1 23 1-64 1 20 1 47 1-42 1-92 1 4 1 28 1 27 1 29 1 59 1 0 1 39 1-47 1-57 1-93 1-44 1 41 1 85 1-12 1 42 1-37 1-1 1 11 1 115 1-52 1 62 1-13 1-53 1-115 1 1 1-24 1-21 1 239 1-218 1 67 1-106 1 6 1-3 1-37 1 19 1-18 1 55 1 125 1-184 1 55 1 30 1 39 1-141 1 187 1-284 1 262 1-13 1 30 1-42 1-34 1 120 1-41 1 17 1 40 1-114 1-31 1 80 1-15 1 27 1-40 1 83 1-13 1 2 1 34 1-58 1-28 1-3 1 71 1-16 1 20 1 18 1-21 1-4 1 13 1-115 1 132 1-110 1 21 1 21 1 45 1-66 1 47 1-40 1-43 1-12 1 12 1 17 1-17 1 52 1 45 1-29 1-31 1 9 1 14 1 5 1-40 1-42 1-22 1-29 1 81 1-36 1 88 1-39 1-189 1 198 1 37 1 28 1-69 1-25 1 27 1-18 1 37 1 19 1-41 1 9 1 34 1-30 1-33 1 12 1-86 1 54 1 14 1-32 1 40 1 21 1 13 1-29 1 10 1-10 1 32 1-32 1-25 1 31 1-31 1-18 1-11 1 67 1-11 1 44 1-50 1 1 1 26 1 43 1 11 1-11 1-27 1 5 1 8 1-60 1 26 1 18 1-27 1 4 1-37 1 11 1-24 1-6 1 72 1 38 1-59 1 50 1 15 1-59 1 39 1 68 1-58 1-42 1 93 1-22 1 19 1 85 1-93 1 50 1 10 1-35 1-57 1-20 1-22 1-50 1 101 1 63 1 15 1-7 1 33 1-48 1-21 1-50 1 63 1 5 1-26 1 73 1-50 1 0 1 32 1 23 1-108 1 83 1 29 1-35 1-3 1-100 1 3 1 49 1-14 1-14 1-48 1 76 1 19 1 25 1 37 1-99 1 49 1 25 1 78 1-55 1 0 1 1 1-22 1 1 1 26 1-32 1 48 1-64 1-28 1-11 1-28 1 45 1-20 1 70 1 37 1-40 1-41 1 73 1-18 1-49 1 46 1-64 1-8 1 59 1-12 1-48 1 145 1 1 1 0 1-36 1 32 1-48 1-25 1 40 1-60 1 13 1 26 1-13 1 3 1-79 1 63 1-18 1-42 1 33 1 5 1 1 1 4 1 16 1-78 1 19 1 30 1 40 1-5 1-11 1 17 1-21 1 30 1-27 1 17 1 36 1 48 1 6 1-81 1 8 1 10 1-39 1-64 1 16 1-17 1 67 1 9 1 96 1-52 1-5 1-42 1 39 1 23 1-19 1-50 1-31 1 101 1-43 1 16 1-1 1-101 1-69 1 68 1 28 1 3 1 27 1-23 1-62 1 49 1-9 1-14 1 22 1 34 1-22 1-6 1 58 1-14 1-90 1 2 1-39 1-58 1 129 1-21 1 43 1 36 1-84 1 8 1 11 1 24 1 0 1-16 1-78 1-53 1 59 1 40 1 37 1-44 1 2 1-11 1 16 1-11 1-29 1 4 1-58 1-6 1 25 1 73 1 34 1 55 1-87 1-29 1 24 1-10 1-88 1 90 1 0 1-10 1 6 1-40 1-10 1 65 1-43 1 19 1 29 1-76 1 52 1 71 1-115 1-52 1 4 1 55 1-15 1 12 1-91 1 33 1 42 1-64 1 49 1 32 1-40 1 71 1-39 1 37 1-9 1-24 1 60 1-61 1-23 1 37 1-13 1 39 1 12 1-8 1-30 1-43 1 15 1-50 1-40 1 20 1 6 1 5 1-15 1 7 1-117 1 154 1 0 1-16 1 0 1 3 1 5 1 6 1 0 60 28 1 1 1 6 1-15 1-4 1-15 1 9 1 9 1-18 1 35 1-99 1 104 1-32 1 39 1-90 1 10 1 25 1-5 1 2 1-19 1-28 1 62 1 63 1-1 1-32 1-4 1 5 1-13 1 69 1-58 1 20 1-24 1-10 1 5 1 37 1 12 1-20 1 1 1 10 1-3 1 7 1-8 37 120 1 1 1-33 1-25 1-35 1 17 1 0 1 50 1-10 1 28 1-27 1 17 1-12 1-2 1 8 1 19 1-79 1 14 1 18 1 23 1-3 1 26 1-7 1-30 1 4 1 55 1-11 1-28 1 55 1-18 1-16 1-30 1-5 1-6 1 26 1-22 1 23 1-41 1 44 1 14 1-26 1 62 1 6 1-12 1-10 1 3 1-54 1 7 1 43 1 32 1 3 1-19 1-43 1-17 1-36 1 10 1 86 1-6 1-38 1-17 1 3 1-12 1 48 1-17 1-2 1 112 1-70 1 0 1 1 1 35 1-39 1 17 1-28 1 30 1-20 1-12 1 17 1-32 1 26 1-9 1-15 1 5 1 16 1-15 1 9 1-6 1-11 1 4 1-6 1 16 1 31 1 6 1-13 1 0 1-30 1-32 1 0 1 14 1-8 1-23 1 28 1 47 1 9 1-24 1 4 1 7 1 0 1 2 1-10 1 9 1-13 1-26 1 3 1-8 1 18 1 2 1-7 1 12 1-25 1 17 102-108 1 0 1 3 1-6 1 18 1-18 1 12 1-15 1 112 1-46 1-59 1-1 1-15 1 4 1 30 1-42 1 15 1-20 1 17 1-23 1 85 1 10 1-62 1 100 1-21 1-98 1-20 1 78 1-59 1 39 1 3 1 44 1-32 1-28 1-51 1 6 1 52 1-37 1-191 1 139 1 24 1-48 1-41 1 9 1 8 1 33 1-23 1 24 1 70 1 27 1-34 1-18 1 63 1-9 1-10 1 5 1 59 1-78 1 5 1-15 1-17 1 50 1 42 1-25 1-29 1-45 1-1 1 22 1-98 1 95 1-5 1-9 1 57 1-26 1 15 1 5 1-97 1 35 1-29 1-28 1 50 1 6 1-6 1 103 1 20 1-77 1-11 1 73 1 8 1-83 1 2 1 46 1 28 1 31 1-46 1-69 1 52 1 11 1-9 1-7 1 38 1-57 1 15 1 41 1-124 1-4 1 31 1 25 1 60 1-7 1-26 1-72 1 28 1-17 1 163 1-47 1 17 1-33 1 34 1-89 1 16 1 56 1 18 1-29 1-2 1 16 1 11 1 14 1-58 1 49 1 39 1-38 1-77 1 20 1-11 1 40 1-34 1 19 1-55 1 26 1-24 1 57 1 11 1 60 1-37 1-54 1 38 1-23 1 24 1 54 1-18 1 13 1-23 1-45 1 14 1 69 1 28 1 7 1-56 1-51 1 26 1-6 1 48 1-81 1 82 1-52 1-73 1 86 1-8 1-36 1 34 1 14 1-9 1-6 1-13 1 11 1 68 1-85 1 69 1 11 1 24 1 17 1-29 1 25 1-60 1-8 1-48 1-23 1 35 1-26 1 65 1-19 1 51 1 60 1-116 1-15 1-24 1 9 1-32 1 9 1 80 1 7 1-1 1-4 1-34 1-4 1 32 1-51 1 3 1 52 1 0 1-35 1 11 1-17 1 2 1 31 1 17 1 8 1-3 1 42 1 60 1-39 1-23 1-79 1 59 1-20 1-34 1-41 1-35 1 38 1 9 1 23 1-19 1-57 1 31 1 58 1-10 1 15 1 24 1-46 1 49 1 67 1-63 1 1 1 9 1-71 1 21 1 57 1-17 1 49 1-127 1-13 1 2 1-57 1 96 1 109 1 52 1-38 1-119 1 158 1-162 1-33 1 30 1-42 1 58 1-92 1-28 1 54 1 50 1-98 1 20 1 71 1-13 1-36 1 55 1-2 1-61 1 35 1 30 1-38 1 31 1-17 1 24 1 80 1-111 1-14 1-51 1-18 1 17 1 15 1 55 1-63 1-77 1 86 1 40 1-49 1 30 1 24 1-33 1-12 1 34 1 0 1 1 1-15 1 31 1-38 1 41 1 35 1-23 1 65 1-132 1 118 1-61 1 13 1-124 1-36 1-90 1 164 1-171 1 149 1-18 1 112 1-84 1 86 1-95 1 11 1-54 1 28 1 29 1 13 1 57 1 49 1 15 1-58 1-73 1-17 1 37 1 13 1-13 1-32 1-4 1 17 1-7 1 18 1-50 1 63 1-15 1-157 1 70 1 19 1-17 1 86 1 1 1 6 1-3 1-6 1-3 1-4 1-38 1 15 1 15 1-4 1-9 1-17 1 0 1-1 1-2 1 1 1-1 85 83 1-1 1 1 1 3 1 1 1 4 1 3 1 1 1-1 1 1 1-10 1 5 1-6 1-5 1 11 1 12 1 7 1-10 1-7 1-4 1 6 1-4 1-10 1 1 1 0 1-3 1 3 1-143 1 145 1 12 1 12 1-2 1-16 1 10 1 24 1-22 1-22 1 6 1-6 1 11 1 6 1 1 1-9 1-6 1 6 1-3 1 4 18-6 1 16 1-34 1 7 28 165 1 5 1 11 1-19 1 1 1 0 1 3 1-8 1-9 1 6 1 1 1 4 1-8 1 9 1-4 176-162 1 1 1 9 1 0 1-31 1 50 1-165 1 216 1-97 1-26 1-11 1 57 1-41 1-1 1-4 1-32 1 44 1 65 1 33 1-91 1 112 1-97 1-42 1 18 1 19 1 48 1-42 1-9 1 44 1 64 1-103 1-3 1 16 1-2 1 23 1-3 1 12 1-11 1 15 1-8 1-68 1-19 1-29 1 23 1 28 1 44 1-1 1 13 1 8 1-15 1 40 1 26 1-70 1-41 1-25 1 3 1 32 1-7 1-49 1 25 1-5 1 26 1-24 1 35 1 63 1-55 1 21 1-21 1-10 1-126 1 163 1-22 1 84 1-17 1-97 1 48 1 41 1-62 1 1 1-10 1-17 1 22 1 21 1-4 1-10 1-31 1 1 1 35 1-68 1 146 1-51 1-29 1-41 1-20 1 51 1-69 1 50 1 2 1 10 1 55 1-65 1 1 1 64 1-28 1 35 1-18 1 29 1-16 1 32 1-17 1 20 1-3 1 11 1 15 1 3 1 3 1 8 1-1 1 1 1-2 60 26 1 2 1 3 1 0 1-12 1-5 1-33 1 19 1 21 1-3 1 50 1-61 1-77 1 141 1 16 1-63 1-26 1-20 1 16 1-12 1 5 1-15 1 55 1-62 1-7 1 52 1 34 1-9 1-96 1 92 1 68 1-23 1-113 1-26 1 19 1 48 1 38 1 7 1-44 1-51 1 69 1 3 1-13 1-70 1 133 1-51 1 15 1 31 1 68 1-79 1-44 1 53 1 29 1-27 1-55 1 28 1 13 1 45 1-20 1-22 1-45 1-7 1 30 1-19 1 58 1-18 1-35 1-70 1 36 1-17 1-26 1-32 1 115 1-5 1-38 1 63 1-7 1 3 1-28 1-34 1 13 1-41 1 39 1-10 1-7 1 10 1 10 1-34 1-26 1 62 1 17 1 6 1 19 1-87 1 24 1-5 1 12 1-7 1-61 1 22 1-34 1 15 1-45 1-39 1 72 1-39 1 50 1 21 1-42 1 32 1 94 1-100 1 1 1 35 1-57 1-48 1 53 1 32 1-117 1 18 1 90 1-53 1 45 1 28 1 36 1-18 1-112 1 15 1 62 1-81 1-29 1 94 1-73 1 99 1-102 1-44 1 131 1 9 1-132 1-46 1 98 1-58 1 83 1-48 1-44 1 6 1 52 1-15 1-17 1 39 1 76 1 17 1-98 1 31 1 84 1-56 1 71 1-24 1-57 1-7 1-6 1-53 1-72 1 34 1 20 1-19 1-5 1 30 1-43 1 49 1-54 1-2 1 6 1 46 1 50 1-21 1 5 1-45 1 79 1-14 1 11 1-22 1-35 1 100 1-9 1 52 1 4 1-9 1-83 1-7 1-71 1 9 1 33 1 99 1-47 1-29 1 86 1-68 1 40 1 51 1-86 1 0 1 44 1 54 1-135 1 51 1 3 1 47 1 45 1-10 1-81 1 14 1 87 1-215 1-38 1 16 1 55 1 108 1-2 1-71 1 17 1-5 1 13 1-18 1 44 1-85 1 115 1 37 1-33 1 43 1-11 1-50 1-57 1 8 1 31 1 10 1-88 1 40 1 32 1-65 1 33 1-45 1-46 1 6 1 79 1-61 1 43 1 22 1 30 1-7 1 0 1-37 1-52 1-46 1 25 1-3 1 15 1 86 1-83 1 20 1 101 1 52 1-84 1 10 1-78 1 15 1-63 1 62 1-13 1 62 1-24 1 6 1 21 1-46 1 31 1 6 1 45 1-25 1-47 1 62 1 60 1-40 1 9 1-60 1-109 1 57 1-69 1 5 1 55 1 19 1-27 1-21 1 67 1-34 1 102 1-42 1 103 1-88 1-9 1 6 1-30 1-3 1-90 1 16 1 6 1 6 1 46 1-91 1 214 1-50 1-21 1 10 1 66 1 9 1-50 1 24 1-27 1 9 1-40 1-34 1 2 1 55 1 35 1-36 1-48 1-29 1 27 1 25 1 69 1-105 1 20 1-22 1 89 1 47 1 26 1-44 1 67 1-28 1 31 1-57 1-18 1-29 1-48 1 68 1-26 1 30 1-8 1-3 1-84 1 18 1 19 1 40 1 19 1 32 1-61 1-7 1 68 1-14 1 5 1 5 1 12 1 58 1-24 1 11 1-17 1-72 1 82 1-11 1 9 1-69 1 32 1 76 1-1 1-68 1-43 1-16 1-24 1 13 1 18 1-17 1 68 1-84 1 2 1 16 1 12 1 55 1 69 1 12 1-37 1-47 1-2 1 40 1-46 1-55 1-2 1 49 1-32 1 31 1 49 1 23 1-47 1-13 1-9 1-44 1-6 1-2 1-13 1 49 1 95 1-76 1 53 1-18 1-59 1-10 1 13 1 49 1-98 1 98 1-34 1 45 1 1 1-23 1-28 1 116 1-1 1-55 1-34 1-23 1 14 1 5 1-23 1 17 1-13 1 17 1-42 1-1 1-14 1-45 1 31 1-8 1 30 1 24 1-6 1-1 1 24 1 7 1-46 1-10 1 15 1-8 1 17 1 34 1-35 1 24 1-4 1-33 1 6 1 88 1 2 1-22 1-104 1 9 1-16 1-28 1 62 1 0 1 28 1 35 1-74 1-70 1 51 1-12 1-17 1 10 1 9 1 18 1-28 1-77 1 9 1 33 1 0 1-4 1 32 1 60 1 7 1-36 1-62 1-29 1 31 1 22 1-27 1 11 1 41 1-40 1-54 1-84 1 74 1 33 1-44 1-18 1 123 1-4 1-51 1 67 1 28 1-33 1-30 1-15 1-32 1-17 1-26 1-10 1-41 1-29 1 23 1 31 1-7 1 19 1 15 1-57 1 60 1-58 1 97 1-33 1-116 1 6 1-16 1 75 1 37 1-114 1 236 1-2 1-144 1 66 1 44 1 66 1-73 1-56 1 25 1 98 1 49 1-147 1-35 1 36 1-106 1 25 1 49 1-19 1 7 1-94 1 16 1 28 1 150 1-41 1-131 1 52 1 88 1-78 1 5 1 64 1-116 1 45 1 91 1 115 1-114 1 73 1 50 1-134 1-16 1 57 1-115 1 116 1 56 1-124 1 79 1-66 1-50 1-24 1 12 1-87 1 130 1 174 1-111 1 22 1-16 1 78 1-20 1-130 1 49 1 16 1-18 1-12 1 26 1 17 1-94 1 105 1-143 1-29 1 31 1 10 1-30 1-65 1 70 1 72 1-8 1-3 1 18 1 54 1 28 1-69 1 35 1 2 1 36 1-62 1 13 1 11 1-20 1-75 1-73 1 23 1 27 1 32 1 63 1 49 1 28 1-77 1-15 1-129 1 19 1-34 1 132 1 27 1-94 1-32 1 3 1 70 1 39 1-7 1-41 1 0 1 125 1 14 1-73 1-35 1-152 1 131 1-58 1-59 1 69 1 9 1 100 1-3 1 27 1-32 1 20 1 54 1-14 1 10 1-28 1 44 1-42 1-17 1-9 1-18 1 5 1-45 1-20 1 30 1 63 1 22 1-56 1-1 1 57 1-35 1-3 1 53 1-27 1 10 1 60 1-29 1 1 1-37 1 10 1 13 1-40 1-11 1-59 1-34 1 33 1 60 1 62 1-3 1-15 1 41 1-3 1-4 1-9 1 44 1-38 1-52 1 32 1 44 1-103 1 87 1-10 1 59 1-44 1 16 1 12 1-40 1-44 1 2 1 6 1 54 1-75 1 15 1-66 1 56 1 46 1 30 1 30 1-19 1-35 1-8 1 9 1 35 1-51 1 37 1-62 1 25 1-9 1 76 1-40 1 70 1 29 1-96 1 26 1-30 1-45 1 43 1 9 1-48 1 70 1 25 1-6 1-71 1 21 1-36 1 27 1-15 1 154 1-145 1 70 1-89 1 107 1 51 1-123 1-4 1 59 1-41 1 39 1 13 1 18 1 43 1-14 1-75 1-49 1 82 1-15 1-3 1-34 1-1 1 47 1 61 1-31 1-10 1-27 1 18 1 50 1-47 1-42 1 56 1-38 1-42 1 46 1 4 1-70 1-37 1 67 1-12 1 53 1-34 1 4 1 4 1-7 1 34 1-25 1-3 1-17 1 11 1 19 1 57 1 16 1-57 1-77 1-49 1 129 1-48 1 18 1-34 1 39 1-42 1 32 1-55 1 9 1 15 1 67 1-119 1 35 1 72 1-94 1 51 1 19 1 9 1 18 1 50 1 1 1-97 1 54 1 10 1 0 1 27 1-46 1-111 1 1 1-77 1 4 1 78 1-19 1 20 1 3 1 27 1 6 1-59 1-46 1-10 1 87 1 63 1-12 1-51 1-69 1 5 1 34 1 27 1-22 1 20 1 68 1-127 1-38 1-29 1 43 1 43 1-34 1-6 1-13 1-6 1 54 1-71 1-36 1 1 1 110 1 16 1 27 1-41 1 76 1 41 1-18 1-42 1 1 1-45 1 42 1-62 1 27 1 42 1-17 1-124 1-6 1-83 1 76 1 86 1 10 1 43 1-39 1 20 1-53 1-43 1-10 1-50 1 126 1 26 1-45 1 22 1 45 1 7 1-104 1-40 1-38 1 7 1-1 1-16 1 29 1-27 1 39 1-114 1 54 1 18 1 21 1-16 1 64 1 25 1-25 1 55 1 30 1-40 1-61 1 25 1 11 1 44 1 57 1-31 1-2 1-75 1 14 1 26 1-31 1-21 1 7 1-38 1 16 1 21 1 155 1-241 1-20 1-61 1 55 1 84 1 32 1-45 1 23 1 78 1-3 1-3 1-2 1 45 1-11 1-109 1-194 1 172 1 101 1-46 1-39 1 6 1 10 1-39 1-36 1 90 1-4 1 71 1-133 1-16 1 85 1-14 1 56 1-123 1-68 1 64 1-51 1 87 1-48 1 45 1 63 1-40 1-41 1 13 1-42 1-16 1 45 1 6 1-18 1 36 1 19 1 47 1 7 1-20 1 18 1 78 1-6 1-47 1-138 1 31 1 33 1 24 1-39 1 15 1 30 1 21 1 24 1 56 1-66 1-12 1 16 1-58 1-1 1-34 1 41 1 62 1-35 1 90 1-70 1 1 1 26 1-1 1-33 1 45 1-59 1 14 1 6 1-59 1 39 1 39 1-15 1-9 1-31 1 95 1-13 1 6 1 4 1-27 1 46 1-32 1 26 1 2 1 2 1-42 1 77 1-34 1-22 1 11 1-43 1-44 1 65 1 81 1-35 1 37 1-48 1-47 1 52 1 48 1-10 1-27 1-47 1-7 1-10 1 36 1-22 1 41 1-4 1-42 1 27 1-53 1 80 1-3 1 4 1-5 1-36 1 7 1-24 1 27 1-22 1 62 1 15 1 8 1 24 1 24 1-6 1-31 1-14 1 21 1-28 1 23 1-37 1-15 1-13 1 1 1-2 1 16 1-11 1 7 1-1 1-22 1 23 1 36 1 17 1 13 1-25 1 39 1-24 1 43 1-36 1-26 1 11 1-9 1 4 1 51 1-43 1-1 1-7 1-18 1 0 1 169 1-198 1 48 1-15 1 4 1 11 1 20 1-47 1 14 1 15 1-52 1 80 1 2 1 9 1 6 1-21 1-10 1-38 1 72 1-46 1-35 1-1 1-2 1 5 1 15 1 33 1-61 1 65 1-55 1-65 1-5 1-19 1-6 1 78 1 2 1 6 1-24 1 14 1-11 1 19 1-4 1 40 1-43 1 5 1 70 1-32 1-11 1-76 1-23 1 20 1 21 1-18 1-36 1 43 1 3 1-36 1 50 1-36 1 2 1-113 1 139 1-22 1-93 1-72 1 97 1 97 1-99 1 93 1-16 1-69 1-9 1-33 1 105 1-45 1-55 1 159 1-73 1 19 1-29 1-9 1 14 1 62 1 22 1 22 1-39 1-16 1 52 1-43 1 60 1-4 1 10 1 5 1-45 1 39 1-91 1 160 1-151 1-9 1-83 1-22 1-31 1 168 1-89 1 0 1 27 1 29 1 14 1-42 1-12 1-2 1-4 1-4 1-38 1 54 1 20 1-19 1-35 1-21 1-2 1-72 1 111 1 45 1 33 1 48 1-126 1-57 1 12 1-26 1 115 1-13 1-10 1 60 1-45 1-94 1 6 1 9 1-66 1-40 1 39 1-28 1 22 1 4 1 74 1-104 1 89 1-60 1 28 1-102 1 235 1-101 1-52 1 114 1 82 1-62 1-20 1 3 1 22 1-82 1 61 1-37 1-106 1 71 1 14 1-12 1 32 1-40 1-168 1 262 1 12 1-218 1 28 1-27 1 16 1-29 1 4 1 126 1 2 1 42 1-59 1 15 1-5 1-37 1-80 1 205 1-23 1-119 1 19 1 44 1-1 1-71 1 95 1 39 1-56 1-90 1 17 1 51 1 30 1 85 1-35 1-53 1-1 1-108 1 81 1 32 1-16 1 26 1-34 1-16 1-60 1 125 1-16 1 8 1-33 1-1 1 65 1 42 1-7 1 24 1-100 1 52 1-130 1-21 1 25 1 24 1 31 1 41 1-33 1 18 1 10 1-3 1-17 1 47 1-51 1 21 1-12 1 50 1 3 1 12 1-3 1-14 1-55 1-13 1-61 1 55 1 27 1 6 1 70 1-21 1-101 1 0 1 8 1 30 1 89 1 25 1 32 1-67 1-53 1 65 1-53 1-7 1 5 1-30 1 78 1 89 1 14 1-47 1 15 1-49 1-126 1 76 1 68 1 23 1-18 1 12 1-82 1 59 1-54 1-31 1 41 1 22 1 1 1 3 1-47 1-14 1-20 1 85 1-9 1-46 1 11 1-5 1 3 1 45 1 8 1 51 1-23 1 73 1-28 1-9 1-60 1-17 1 7 1 19 1 0 1 35 1-11 1 7 1 20 1 15 1 13 1-53 1-30 1 36 1-38 1 21 1 14 1 28 1-2 1-22 1 13 1 31 1 15 1-18 1-2 1-31 1-53 1-8 1 22 1 14 1 41 1 0 1 74 1-50 1-53 1-16 1 42 1-35 1-8 1 34 1-9 1 13 1-42 1-12 1 77 1 31 1 0 1 39 1-51 1-18 1-1 1-16 1 52 1 4 1-71 1 6 1 8 1-12 1 8 1-31 1 76 1-60 1-21 1 60 1-17 1 45 1-16 1-54 1 15 1 37 1-60 1-23 1 38 1-39 1-14 1 132 1 19 1-21 1-52 1 12 1 43 1-49 1 2 1 11 1 60 1 24 1-146 1-38 1 7 1 18 1 75 1 31 1 22 1 21 1-38 1-32 1-4 1 16 1-56 1-63 1 1 1 175 1-50 1-58 1-9 1-41 1 40 1 22 1 48 1-13 1 6 1 31 1-73 1 36 1-15 1-64 1-5 1-16 1 52 1-20 1-36 1-35 1 161 1-64 1 29 1-64 1-114 1 116 1 39 1-40 1 6 1-2 1-23 1 63 1-50 1 32 1-43 1-26 1 17 1-68 1 33 1 60 1-48 1-76 1 7 1-33 1 57 1-21 1 11 1 88 1 72 1-55 1 33 1-46 1-85 1-6 1 19 1-13 1-50 1 87 1 51 1 67 1-51 1 11 1-34 1-46 1-71 1 55 1 25 1-49 1-14 1 35 1-2 1-41 1-26 1-47 1 115 1 90 1 9 1 21 1-110 1 63 1-15 1-38 1-11 1 48 1 43 1-15 1 36 1-144 1-34 1 129 1 5 1-17 1 32 1-62 1-43 1-102 1 15 1 75 1-34 1 109 1 35 1-41 1-54 1 107 1-110 1-1 1 47 1-49 1 52 1-36 1 62 1-89 1-130 1 74 1 221 1-241 1 127 1 89 1-32 1-23 1-38 1 15 1-15 1-3 1 3 1-1 1-8 1 16 1-18 1-76 1-40 1 38 1-25 1-39 1-5 1 20 1-19 1 41 1 27 1 10 1-27 1 58 1-4 1-19 1 33 1-88 1-50 1 38 1 52 1-52 1 25 1-79 1 86 1 40 1-23 1-58 1-47 1 37 1 119 1 58 1-53 1 14 1 24 1 21 1-40 1-27 1-89 1-1 1 35 1-47 1 15 1 22 1-17 1-62 1 34 1-11 1 27 1 0 1-22 1 91 1-28 1 61 1 22 1-100 1 69 1-54 1 0 1-2 1-64 1 70 1-6 1-5 1-5 1-15 1-51 1 97 1 102 1-14 1-36 1-30 1 5 1 35 1-66 1 47 1-7 1-97 1 100 1-9 1-17 1-16 1 59 1 27 1-22 1-36 1 10 1 79 1-49 1-36 1 14 1-25 1-2 1 80 1-100 1 8 1-72 1 84 1 37 1-54 1-6 1 88 1-33 1-27 1-9 1 20 1 17 1 77 1 34 1-68 1-22 1-92 1-5 1 14 1 35 1-77 1 117 1-24 1-13 1-18 1 62 1-55 1 85 1 56 1-82 1 19 1 45 1-44 1 27 1-57 1 25 1 52 1-76 1 28 1 2 1-29 1-30 1 11 1 56 1-49 1-30 1 87 1-18 1-59 1 42 1 56 1 52 1-37 1-29 1-11 1-12 1-21 1 11 1-9 1-25 1 4 1 3 1 26 1 1 1 4 1 49 1 23 1 38 1-21 1-104 1 28 1 40 1 46 1 11 1-25 1 9 1-76 1 13 1-40 1-1 1 61 1 48 1-16 1 90 1-24 1-4 1 20 1-6 1 13 1-18 1-10 1 4 1-55 1-14 1-1 1 10 1-48 1 31 1-19 1 10 1 50 1-15 1 69 1-39 1-61 1-14 1-3 1 60 1 0 1 10 1-102 1 29 1 25 1 31 1-17 1 10 1 11 1-39 1 57 1-5 1 24 1-22 1 44 1-13 1-2 1-62 1-12 1 17 1 17 1-14 1 8 1-15 1 54 1-82 1 46 1 19 1-60 1-49 1 76 1-13 1-76 1-1 1 101 1 35 1-38 1 68 1-26 1-42 1 47 1 4 1-37 1-10 1 16 1-10 1-24 1 21 1 3 1-46 1-19 1-14 1 36 1-35 1-81 1 37 1 9 1 113 1-35 1 91 1 14 1-42 1-11 1-103 1-57 1-21 1-8 1 114 1 101 1-15 1 4 1-96 1 25 1-21 1-19 1-10 1-59 1-10 1 240 1-204 1 192 1 5 1-52 1-114 1-58 1-10 1-31 1 69 1-7 1-112 1 54 1 29 1 37 1 108 1 41 1-88 1 5 1-120 1 65 1-26 1 144 1 8 1-114 1-1 1 28 1 82 1-96 1-139 1-4 1-55 1 88 1-57 1 140 1 60 1-81 1 5 1-174 1 151 1 22 1-102 1-8 1 52 1 183 1-66 1 42 1-45 1 10 1-73 1 47 1 28 1-99 1 119 1-51 1 9 1-85 1-43 1-19 1 68 1 0 1-119 1 78 1 33 1 16 1-29 1 47 1 16 1 11 1-86 1 5 1-41 1 16 1-10 1 60 1 126 1-9 1-95 1-15 1-1 1 78 1-48 1-20 1 31 1-14 1-85 1 47 1 30 1-86 1 64 1 53 1-26 1-2 1-17 1-126 1-4 1 80 1-69 1 65 1 59 1-9 1 8 1 33 1-48 1-20 1 16 1 8 1 54 1-361 1 356 1-9 1-75 1-19 1-16 1-7 1 54 1-22 1-28 1-22 1-17 1 22 1 63 1 48 1-17 1-46 1 107 1-76 1-22 1 48 1 25 1-89 1-9 1-24 1 0 1 15 1 68 1 20 1 1 1-92 1-25 1 38 1-2 1 112 1-1 1-62 1 45 1 30 1-78 1 41 1 25 1 16 1 13 1-75 1-57 1 4 1 23 1 59 1-47 1 37 1-112 1 13 1-32 1 88 1-40 1 24 1-1 1-19 1 12 1 13 1-46 1 39 1 39 1-26 1 22 1 47 1 127 1-171 1 82 1 30 1 5 1-119 1 95 1-34 1-17 1 23 1-61 1-6 1-2 1 25 1 48 1-12 1-39 1 46 1-74 1 33 1 36 1-22 1-32 1 106 1-6 1 7 1-55 1-29 1 32 1 14 1 39 1-40 1 20 1-18 1-17 1-27 1-44 1 44 1 7 1-67 1 50 1-5 1-11 1 18 1-26 1-14 1 27 1-2 1 33 1-15 1 62 1 5 1 1 1 33 1-66 1-20 1 35 1-19 1 1 1 3 1 53 1 3 1 2 1 26 1-46 1 4 1-4 1 1 1-32 1 13 1 37 1 10 1-39 1-50 1 14 1 7 1 31 1 4 1 33 1-6 1-24 1 38 1 37 1-33 1-1 1 33 1-54 1 8 1 2 1 16 1 3 1-20 1-75 1 44 1 39 1-16 1-21 1-2 1 19 1-43 1 31 1 31 1 41 1 11 1-32 1 65 1-105 1 94 1-80 1-20 1 28 1 9 1 28 1-29 1-29 1 13 1 37 1-43 1-34 1 103 1-81 1-7 1 9 1-5 1 24 1-4 1-10 1 52 1-1 1-18 1 31 1 11 1 5 1-5 1-53 1-19 1 2 1 26 1 57 1-1 1-76 1-44 1 9 1-10 1 7 1 37 1 14 1 3 1-68 1 13 1-7 1-41 1 9 1 37 1 9 1 30 1-33 1-31 1-19 1-1 1 3 1-36 1 21 1 31 1 51 1-92 1-23 1-28 1 134 1-80 1-4 1 44 1 0 1 22 1-22 1-61 1 19 1 44 1 28 1-24 1-9 1-9 1 11 1-40 1-31 1-42 1 54 1-31 1 21 1 167 1-8 1-24 1-75 1 23 1-46 1-1 1-66 1 42 1 32 1-6 1-17 1-1 1-50 1 4 1 19 1-18 1-21 1 60 1-29 1 25 1 0 1-36 1-38 1-24 1 67 1-41 1 23 1-19 1 7 1 65 1 31 1-41 1 15 1 27 1 57 1-95 1-28 1 93 1-34 1-36 1 45 1-113 1-7 1-56 1 3 1 19 1 22 1-30 1-32 1-25 1 91 1 182 1-60 1-24 1-62 1-75 1-14 1 32 1 53 1 45 1-73 1 128 1-62 1-28 1-61 1-64 1 121 1 51 1 95 1-43 1-58 1-41 1 49 1-79 1 202 1-209 1 24 1-46 1 61 1 99 1-146 1-87 1 104 1 59 1-34 1-47 1 45 1-122 1 125 1 37 1-16 1 106 1 13 1-13 1-26 1 21 1 23 1-11 1-106 1-105 1-8 1-82 1 78 1-74 1 37 1 74 1 18 1-36 1 55 1 29 1 5 1 0 1-61 1 65 1 51 1-54 1 0 1 74 1 57 1-64 1-71 1 11 1-11 1-2 1 13 1-81 1 53 1 25 1 0 1-4 1-11 1-60 1-56 1 48 1 41 1 44 1 10 1 19 1-73 1-22 1 131 1-63 1 55 1 7 1-50 1 45 1-93 1-14 1 56 1 78 1-44 1-79 1 40 1-113 1 106 1 10 1 5 1 66 1-144 1 48 1 15 1-38 1-11 1 47 1 14 1-47 1 36 1 91 1-64 1 90 1-52 1-14 1 25 1-88 1 1 1 3 1-94 1 42 1-8 1 35 1-47 1 55 1 22 1 80 1-14 1 1 1 8 1-19 1 51 1-58 1-17 1-46 1 47 1 43 1 44 1 8 1-41 1-154 1-22 1 11 1 206 1 16 1-58 1-49 1 56 1 44 1-60 1 9 1 71 1-2 1-14 1-61 1 10 1-110 1 74 1-9 1 59 1-49 1 51 1-35 1 13 1-39 1-20 1 23 1-20 1-5 1 3 1 50 1-58 1 41 1 10 1 52 1 96 1-43 1 22 1 6 1-52 1-57 1-24 1 97 1-41 1-24 1 30 1 9 1 22 1-9 1-4 1 11 1-67 1-26 1-33 1 109 1 47 1 2 1 20 1-14 1-21 1 40 1 54 1-20 1-45 1 27 1-43 1-58 1 13 1 53 1 59 1 31 1-165 1 23 1 40 1-4 1-17 1 3 1 18 1 55 1 17 1-41 1-78 1 77 1-124 1 3 1 45 1 69 1-15 1-53 1 26 1-32 1 54 1-35 1 19 1 59 1-47 1 48 1-16 1 37 1-101 1-29 1 5 1 33 1 10 1-65 1-12 1 60 1 58 1 13 1-53 1 38 1-4 1-28 1 7 1-12 1 9 1-19 1 3 1 37 1-54 1 49 1-16 1 42 1 22 1 13 1-101 1 87 1-15 1-73 1 103 1-112 1 35 1-45 1-17 1-45 1-6 1-1 1 14 1-30 1 101 1-35 1 24 1-10 1-39 1 17 1-23 1 19 1 6 1 63 1 27 1-25 1-19 1 25 1-186 1 164 1-114 1-60 1 44 1 56 1 113 1-36 1 10 1 6 1-44 1-22 1 40 1 3 1-87 1-125 1 129 1-39 1 36 1 71 1-150 1 73 1-6 1-66 1-45 1 11 1 103 1 22 1-20 1-12 1-69 1 159 1-24 1-27 1 16 1 28 1-34 1 93 1-75 1-72 1-122 1 47 1 10 1 77 1-26 1-55 1-18 1 12 1 29 1 71 1 37 1-45 1 57 1-20 1 28 1-117 1-86 1-11 1 159 1 24 1-43 1-171 1 123 1 2 1 39 1 119 1-60 1-51 1-18 1-58 1 24 1-11 1 90 1-57 1 3 1 20 1-81 1 19 1 83 1-23 1-140 1-16 1 65 1 27 1-14 1 110 1-28 1-15 1-35 1-4 1-27 1 72 1-22 1 61 1-37 1 89 1-126 1 33 1-35 1-22 1-83 1 2 1 23 1 40 1 23 1-55 1 16 1 1 1-37 1 64 1 26 1-3 1-11 1 10 1 34 1 19 1-1 1-62 1 18 1-25 1-59 1-33 1 39 1 11 1-2 1 7 1 10 1 68 1 13 1 87 1-46 1-108 1 55 1 2 1-54 1-84 1 76 1-19 1-23 1 30 1-31 1 32 1 69 1-27 1-102 1 85 1-4 1 17 1-22 1 56 1 28 1-82 1-3 1 15 1-61 1 92 1-69 1 141 1-58 1-33 1-31 1 47 1-81 1 53 1-3 1-28 1 108 1 14 1-78 1 38 1 40 1-76 1 28 1 38 1-80 1-21 1 15 1 65 1-36 1-65 1 59 1 37 1-8 1-115 1 11 1 94 1-49 1 10 1 3 1-4 1-10 1 69 1-8 1-25 1-50 1 9 1-24 1 24 1 87 1 44 1-97 1 13 1-17 1 56 1-79 1 7 1 5 1 5 1-35 1 72 1 2 1 0 1-31 1-26 1 85 1 25 1-14 1-8 1 11 1 36 1 37 1-36 1-19 1-73 1 43 1 53 1-6 1-46 1-106 1 70 1 65 1 7 1-75 1 69 1 18 1-3 1-24 1 23 1-8 1 15 1 16 1-85 1 57 1-14 1 16 1-72 1 19 1 30 1-13 1 53 1 7 1-14 1 59 1 31 1-69 1 21 1-57 1 6 1 20 1 7 1-63 1-13 1 91 1 13 1-12 1-41 1-12 1-6 1 40 1 18 1 28 1-25 1-24 1 88 1 18 1-11 1-55 1-39 1 53 1 12 1-42 1 6 1 5 1-25 1-34 1 90 1-22 1 4 1 78 1-42 1 8 1-16 1-104 1 81 1-29 1-56 1 43 1 50 1 62 1-109 1 26 1 47 1-23 1-32 1 41 1-64 1 27 1-59 1 48 1-22 1 28 1-42 1 42 1 30 1-29 1 9 1 36 1 45 1-41 1-19 1-71 1 23 1 23 1 7 1 27 1-1 1-63 1-4 1 75 1 17 1-85 1-4 1 27 1-22 1 11 1-14 1-11 1-55 1 2 1 41 1 97 1 6 1-21 1-46 1 2 1-69 1 88 1-111 1 4 1 33 1 68 1 63 1-55 1-62 1-16 1 58 1-22 1-49 1 54 1 37 1-25 1 18 1-51 1 8 1-52 1-70 1 15 1 17 1 42 1-6 1-36 1 77 1 23 1-1 1-35 1-36 1 54 1-26 1 35 1 25 1-38 1-37 1-21 1 21 1 44 1 34 1-30 1-24 1-50 1 63 1-42 1-34 1-7 1-3 1-34 1-35 1 69 1-10 1 2 1 84 1 5 1-71 1 0 1 21 1 5 1-41 1 54 1-36 1 109 1-133 1 45 1-44 1 24 1-144 1 201 1-146 1 132 1-21 1-96 1 35 1 19 1 26 1 67 1-137 1-12 1 7 1 115 1 84 1-34 1-60 1-29 1 20 1-28 1-92 1-7 1 56 1 32 1-2 1-28 1 110 1-34 1-43 1 50 1 44 1 60 1-33 1-24 1 61 1-89 1 38 1-44 1 5 1-18 1-11 1 42 1-29 1-23 1 4 1-82 1 28 1-21 1-11 1-46 1 68 1 1 1 2 1-2 1 66 1 91 1-17 1-58 1 49 1-58 1-53 1-7 1 28 1-46 1 0 1 1 1-22 1 22 1-26 1-68 1 111 1 16 1-79 1-20 1-28 1 27 1 23 1 112 1-12 1 47 1 35 1-83 1-28 1-36 1-58 1 137 1 28 1 40 1-3 1-112 1 106 1-66 1 4 1-105 1 63 1 29 1-25 1 13 1 80 1-123 1-8 1 82 1-45 1-40 1-81 1 173 1-5 1-28 1 70 1 13 1-71 1-35 1 82 1-122 1 34 1-51 1 89 1 16 1 14 1-82 1-9 1-20 1-57 1 34 1 87 1-65 1 82 1-60 1 149 1-95 1 64 1-101 1-85 1 70 1 61 1-94 1 110 1-3 1 26 1-55 1-115 1 217 1-60 1-93 1-49 1 145 1-79 1 112 1-25 1 0 1-83 1 62 1 27 1-119 1 180 1-151 1 56 1-44 1 76 1-63 1 87 1 3 1-33 1 32 1-2 1 39 1-12 1-90 1-3 1-62 1-20 1 26 1 41 1-21 1 27 1 4 1 42 1 1 1 0 1-7 1-41 1-22 1-4 1 59 1 0 1 5 1 80 1-112 1-49 1 93 1 47 1 32 1-69 1 31 1 18 1-76 1 16 1 52 1-9 1-37 1-5 1 45 1 14 1 71 1-53 1-102 1-35 1 2 1 53 1 126 1 2 1-92 1 87 1-50 1 32 1-7 1-25 1-20 1 1 1-50 1 14 1 10 1-36 1 45 1-31 1-29 1 84 1-25 1 22 1 35 1 54 1 33 1-14 1-39 1-56 1 75 1-26 1 28 1-12 1 0 1-43 1 45 1-52 1-4 1 25 1 29 1-84 1-48 1 0 1 136 1-23 1-63 1 71 1 4 1 10 1 1 1-13 1-66 1-20 1 165 1-57 1-10 1-12 1-54 1 43 1-42 1 70 1 10 1 43 1-45 1-54 1 25 1-1 1 5 1-10 1-4 1-6 1 24 1 32 1-8 1-46 1 39 1-39 1-83 1 13 1 66 1-118 1 104 1-22 1-31 1 18 1 71 1 19 1-44 1-77 1 16 1 88 1-34 1 49 1-41 1-45 1-51 1 21 1-12 1 15 1-14 1 57 1-48 1-20 1-62 1 8 1 11 1-9 1-33 1 26 1 64 1 111 1 5 1-48 1 54 1-87 1-38 1-121 1 159 1-105 1 40 1 20 1-31 1-65 1 49 1-61 1 58 1 117 1-21 1-80 1 93 1 55 1-6 1-40 1-67 1 48 1-46 1 44 1 49 1-14 1-69 1 1 1-16 1-65 1 33 1 169 1-142 1 37 1 42 1-76 1-35 1 11 1 33 1 35 1-48 1-18 1 29 1-79 1-52 1 20 1 61 1 62 1 40 1-74 1-3 1-32 1 10 1-25 1-5 1 12 1 11 1-24 1-12 1 15 1 17 1 58 1 35 1 5 1-29 1-28 1-1 1-58 1-52 1 39 1-80 1 42 1-38 1 48 1 8 1-55 1 39 1-55 1 151 1-64 1 10 1-16 1-25 1 22 1 63 1 66 1-195 1 34 1 125 1 28 1-42 1-16 1-24 1-78 1 117 1 29 1 5 1-155 1 200 1-51 1-48 1-56 1 46 1 85 1-1 1 22 1-149 1-36 1 32 1-2 1 47 1 31 1-11 1-38 1-10 1 23 1-3 1 14 1-8 1 2 1-26 1-10 1-24 1 60 1-13 1 23 1 89 1-59 1-94 1-5 1-43 1 106 1 33 1 30 1-70 1-23 1-25 1 59 1 9 1-28 1 25 1 9 1-11 1-21 1-10 1-5 1-21 1-16 1 43 1 46 1 53 1 14 1-47 1-58 1-1 1 93 1-9 1-25 1-61 1-3 1-11 1-190 1 195 1-9 1-78 1 32 1-17 1-14 1 22 1 9 1 34 1 22 1-14 1-3 1 12 1 4 1 33 1 19 1-16 1 63 1 27 1-54 1-4 1-3 1-74 1 28 1 60 1 0 1-19 1-10 1-9 1 21 1-38 1-93 1 100 1 44 1-61 1-7 1 29 1-88 1 14 1 69 1 55 1-30 1 30 1 38 1 7 1 12 1-67 1 22 1-28 1-1 1 7 1-1 1 75 1-66 1 67 1-48 1-38 1-53 1-15 1-32 1-6 1 62 1 99 1-47 1 32 1 75 1-43 1-22 1-20 1 29 1 7 1 16 1-11 1-55 1-28 1 20 1 109 1-52 1 28 1 36 1-82 1 28 1-12 1-27 1-76 1 17 1 39 1 80 1-28 1 40 1-29 1 22 1 52 1-18 1-2 1-26 1-4 1 1 1 50 1-45 1-36 1-59 1 22 1 85 1-21 1-29 1 55 1 2 1 1 1-41 1-6 1-8 1 20 1 70 1 32 1 26 1-135 1 55 1-57 1-6 1-11 1-17 1 61 1-84 1 85 1 3 1-3 1-51 1 102 1-16 1-15 1-62 1 21 1 38 1-2 1 23 1-63 1 5 1 32 1-16 1-26 1 28 1-87 1 66 1-7 1-12 1-6 1 34 1 76 1-75 1-18 1-17 1 64 1-32 1-32 1 21 1-31 1-23 1 47 1-79 1 7 1 11 1 44 1 30 1 92 1-31 1-83 1 32 1-29 1 29 1-55 1-18 1 157 1-99 1-33 1 0 1-49 1 77 1 35 1 22 1-49 1-95 1 33 1 27 1-6 1 37 1-2 1-40 1-19 1-56 1-31 1 77 1 68 1-39 1 6 1 18 1 36 1 20 1-27 1-12 1 66 1-11 1-87 1-10 1-34 1-28 1 2 1-50 1 61 1 83 1 5 1-127 1-6 1 23 1 98 1 55 1-109 1-35 1-39 1 9 1 91 1 15 1 31 1-36 1-30 1-40 1-13 1-82 1-30 1 51 1-3 1 30 1 18 1-20 1 1 1-37 1 3 1 36 1 83 1 37 1-65 1-108 1-24 1-48 1 74 1-10 1 29 1 69 1 82 1-16 1-55 1-108 1-136 1 261 1 1 1-56 1-30 1-96 1-3 1 55 1-56 1-8 1 18 1 234 1-178 1 59 1-16 1 0 1 131 1-122 1 39 1 16 1 51 1-77 1 16 1-24 1-70 1 32 1 31 1-38 1 9 1-94 1-29 1-4 1 55 1-11 1 3 1 26 1 47 1 22 1 12 1-53 1 33 1 6 1-51 1-10 1 142 1-129 1 57 1 70 1-44 1-58 1 29 1-3 1 27 1 7 1 49 1-71 1 33 1-53 1 36 1-39 1-49 1 25 1 12 1-93 1-52 1 3 1 43 1 70 1-5 1 25 1-19 1 34 1-65 1 51 1 98 1 30 1-40 1-27 1-42 1 96 1-84 1-21 1 31 1-21 1-25 1-2 1 111 1-17 1-16 1 45 1-5 1-55 1-44 1 69 1-53 1-6 1 44 1 17 1-83 1 38 1 49 1-24 1-57 1 5 1-44 1-38 1 216 1-90 1 57 1-64 1 68 1 26 1-141 1 13 1 10 1 47 1-23 1 12 1-6 1 23 1 13 1-3 1-55 1 68 1-36 1-28 1-7 1-22 1-49 1-21 1 33 1 10 1 14 1 30 1-45 1-23 1-11 1 26 1 51 1 26 1-71 1-14 1 19 1 10 1 94 1 64 1-31 1-18 1-54 1 5 1-37 1-6 1 20 1-39 1 39 1 23 1-24 1-7 1 176 1-88 1-69 1 39 1 1 1 78 1-95 1-27 1 25 1-9 1-3 1-94 1 48 1 23 1 16 1 4 1 128 1 22 1-112 1-21 1-29 1 69 1-24 1 36 1-40 1-51 1 27 1-8 1 47 1-10 1 28 1-5 1-9 1-39 1 15 1 7 1 34 1-24 1-53 1-7 1 4 1 51 1 40 1-4 1 6 1 75 1-69 1-32 1 2 1 2 1 26 1-8 1 28 1-35 1-8 1-8 1 60 1 7 1 15 1-62 1-16 1 23 1 30 1 16 1 31 1-74 1 28 1 86 1-93 1-41 1 58 1 8 1-2 1-21 1-35 1 11 1 75 1 14 1-32 1 22 1-40 1-59 1-7 1 31 1 29 1 51 1-27 1-22 1-4 1 12 1 4 1-55 1 6 1 89 1 17 1 94 1-108 1-30 1-26 1-4 1 39 1-19 1-52 1 21 1 40 1 16 1-18 1-14 1 27 1-62 1 7 1 18 1-17 1-12 1-35 1 36 1 46 1 0 1 51 1-10 1-9 1-73 1 21 1-17 1 57 1-21 1-31 1 70 1 1 1-10 1-26 1 2 1-82 1 21 1-13 1 57 1 7 1-60 1-47 1 11 1 3 1 8 1 10 1 88 1 74 1-1 1-83 1-23 1-27 1-1 1 1 1 39 1 23 1-2 1-18 1-20 1-56 1-8 1-10 1-7 1-9 1 26 1 42 1 29 1 48 1-52 1 47 1-26 1-17 1 26 1 48 1-11 1-1 1-72 1 43 1-16 1 28 1-100 1 4 1 17 1 34 1-39 1 96 1-92 1 42 1-23 1-2 1-26 1-79 1 45 1-35 1-59 1 44 1 79 1 22 1-31 1 21 1-14 1 49 1-54 1-11 1 6 1-28 1-46 1 21 1-37 1 50 1 56 1-26 1-15 1 37 1-24 1-49 1-15 1 11 1 118 1-116 1-71 1 112 1-101 1-76 1 115 1-120 1 170 1-93 1 10 1-54 1 34 1-2 1 20 1 89 1-22 1-23 1-39 1 52 1 68 1 20 1-66 1 50 1-78 1 25 1 3 1 9 1 87 1-1 1-48 1-45 1-66 1 22 1-33 1 25 1-50 1 50 1 3 1 50 1-8 1-37 1-29 1-38 1 24 1-12 1 7 1 31 1-52 1-26 1 10 1 13 1 28 1 86 1-76 1-53 1 70 1 4 1 28 1 43 1-8 1-24 1 0 1 8 1-95 1-9 1-38 1 0 1 87 1-18 1-30 1-14 1-23 1 105 1 35 1 67 1-86 1-20 1-39 1 8 1-112 1 96 1-58 1 2 1 3 1 44 1 14 1-52 1 27 1-2 1 4 1 31 1-31 1 92 1-50 1-72 1-8 1 53 1 56 1-44 1-6 1-18 1 187 1-189 1 20 1 39 1 128 1-9 1-90 1 54 1-78 1 56 1-114 1 81 1 83 1-24 1 4 1-24 1 54 1-28 1 9 1 24 1-52 1 27 1 4 1-24 1-7 1-20 1-11 1-6 1-98 1 36 1 36 1 39 1-59 1 26 1-90 1 97 1 38 1 47 1-92 1-28 1 16 1 86 1-80 1-14 1 20 1 67 1 52 1-6 1-140 1 78 1-37 1-58 1 39 1 119 1-75 1 12 1 24 1-20 1-97 1 103 1-10 1 1 1-10 1-8 1 58 1-87 1-30 1-8 1 5 1 22 1 131 1 36 1-29 1-43 1 37 1 14 1-37 1-2 1-45 1 70 1-6 1 1 1 2 1 73 1 38 1-155 1 43 1 5 1 32 1-29 1 4 1 23 1 18 1-27 1-11 1-36 1 0 1-65 1 109 1-20 1 2 1 26 1-82 1 28 1 21 1-20 1 37 1 18 1 19 1 46 1-38 1 11 1 10 1-107 1 46 1-42 1 51 1-47 1 69 1-76 1 10 1 5 1 21 1-30 1 26 1 20 1 1 1 25 1 9 1-31 1-13 1 92 1-25 1-28 1-19 1 49 1-17 1 36 1-28 1-10 1-63 1-13 1-28 1 38 1 51 1 1 1-31 1 13 1-8 1 8 1-15 1-18 1 16 1 37 1 15 1-3 1 4 1 55 1-34 1 1 1 14 1 1 1 31 1-31 1 5 1-13 1 29 1-11 1-21 1 7 1-34 1-5 1-5 1-43 1-16 1-8 1 7 1 43 1 17 1 10 1 41 1-13 1-29 1-17 1-31 1-56 1 10 1 14 1 9 1 64 1 9 1-12 1 53 1 7 1 27 1-20 1-57 1 41 1-24 1 66 1-108 1-29 1-20 1-41 1 200 1-93 1-3 1 31 1 16 1-66 1-109 1 87 1 55 1 53 1 13 1-56 1-21 1-18 1 15 1-19 1-12 1 49 1-71 1-13 1-58 1 90 1-10 1-61 1 3 1-54 1 97 1-15 1 25 1-72 1 68 1 22 1-35 1-26 1-26 1 39 1-99 1 70 1 47 1-36 1-77 1 31 1-31 1 74 1 116 1-96 1-29 1-81 1 170 1-70 1 57 1-168 1 31 1-65 1 28 1 53 1 101 1-50 1-53 1-88 1 41 1 31 1-10 1 111 1-84 1-27 1 139 1 19 1-80 1-108 1-39 1 68 1 44 1 84 1-129 1 6 1-87 1-8 1-34 1 93 1-29 1 47 1-22 1 51 1-21 1-4 1-25 1 45 1-98 1 23 1 61 1-143 1 278 1-33 1-100 1-42 1 33 1 19 1 16 1-37 1-59 1 32 1-61"/>
</g>
<g class="chart">
<g class="ax">
<path d="M598.90,482.20V477.80H1045.30V482.20"/>
<line x1="623.69" x2="623.69" y1="477.80" y2="482.20"/><text x="623.69" y="490.50" text-anchor="middle">1962</text>
<line x1="673.27" x2="673.27" y1="477.80" y2="482.20"/><text x="673.27" y="490.50" text-anchor="middle">1964</text>
<line x1="722.91" x2="722.91" y1="477.80" y2="482.20"/><text x="722.91" y="490.50" text-anchor="middle">1966</text>
<line x1="772.49" x2="772.49" y1="477.80" y2="482.20"/><text x="772.49" y="490.50" text-anchor="middle">1968</text>
<line x1="822.13" x2="822.13" y1="477.80" y2="482.20"/><text x="822.13" y="490.50" text-anchor="middle">1970</text>
<line x1="871.71" x2="871.71" y1="477.80" y2="482.20"/><text x="871.71" y="490.50" text-anchor="middle">1972</text>
<line x1="921.36" x2="921.36" y1="477.80" y2="482.20"/><text x="921.36" y="490.50" text-anchor="middle">1974</text>
<line x1="970.93" x2="970.93" y1="477.80" y2="482.20"/><text x="970.93" y="490.50" text-anchor="middle">1976</text>
<line x1="1020.58" x2="1020.58" y1="477.80" y2="482.20"/><text x="1020.58" y="490.50" text-anchor="middle">1978</text>
<text x="833.70" y="504.30" text-anchor="middle" style="font-size:8.9px">DATE</text>
<path d="M594.50,284.90H598.90V477.80H594.50"/>
<line x1="594.50" x2="598.90" y1="460.89" y2="460.89"/><text x="592.90" y="464.19" text-anchor="end" style="font-size:9.6px">-10</text>
<line x1="594.50" x2="598.90" y1="441.68" y2="441.68"/><text x="592.90" y="444.98" text-anchor="end" style="font-size:9.6px">-5</text>
<line x1="594.50" x2="598.90" y1="422.47" y2="422.47"/><text x="592.90" y="425.77" text-anchor="end" style="font-size:9.6px">0</text>
<line x1="594.50" x2="598.90" y1="403.25" y2="403.25"/><text x="592.90" y="406.55" text-anchor="end" style="font-size:9.6px">5</text>
<line x1="594.50" x2="598.90" y1="384.04" y2="384.04"/><text x="592.90" y="387.34" text-anchor="end" style="font-size:9.6px">10</text>
<line x1="594.50" x2="598.90" y1="364.83" y2="364.83"/><text x="592.90" y="368.13" text-anchor="end" style="font-size:9.6px">15</text>
<line x1="594.50" x2="598.90" y1="345.61" y2="345.61"/><text x="592.90" y="348.91" text-anchor="end" style="font-size:9.6px">20</text>
<line x1="594.50" x2="598.90" y1="326.40" y2="326.40"/><text x="592.90" y="329.70" text-anchor="end" style="font-size:9.6px">25</text>
<line x1="594.50" x2="598.90" y1="307.19" y2="307.19"/><text x="592.90" y="310.49" text-anchor="end" style="font-size:9.6px">30</text>
<line x1="594.50" x2="598.90" y1="287.97" y2="287.97"/><text x="592.90" y="291.27" text-anchor="end" style="font-size:9.6px">35</text>
<text transform="translate(559.40,364.60) rotate(-90)" text-anchor="end">T.MIN.G</text>
</g>
<path class="ln" vector-effect="non-scaling-stroke" transform="translate(598.900,422.466) scale(0.067914,-0.192131)" d="M0-78l1 182 1-115 1 71 1-8 1-19 1-56 1 77 1-100 1-86 1 16 1 116 1-36 1 100 1-5 1 18 1 50 1-62 1 11 1-50 1-13 1 87 1 36 1-16 1-43 1-25 1 66 1-116 1-1 1 7 1 20 1 105 1-116 1-47 1 87 1-46 1-89 1 27 1 116 1 96 1-25 1-143 1 142 1 8 1-27 1-153 1 76 1-124 1 85 1 67 1 11 1-102 1 66 1 58 1-121 1 21 1-99 1 96 1 179 1-84 1-46 1 107 1-49 1-57 1 22 1 57 1-27 1-6 1-104 1-66 1 153 1 64 1 3 1-1 1-77 1 75 1 45 1-144 1 38 1-15 1 1 1 53 1-59 1-20 1 25 1-113 1 109 1-40 1 83 1 2 1-31 1 28 1-27 1-24 1-16 1-41 1 43 1 56 1 95 1-141 1 3 1-15 1 68 1-11 1-39 1-40 1 71 1-73 1 101 1-45 1-27 1-38 1 6 1-56 1 54 1-39 1 99 1-7 1 29 1-22 1-93 1 67 1 10 1-14 1 58 1 33 1 77 1-140 1 165 1-125 1-155 1 80 1 51 1-27 1 12 1-36 1 52 1-87 1 118 1 81 1-18 1-44 1-47 1 111 1-4 1-6 1 11 1-16 1 56 1-32 1-43 1-149 1 113 1-40 1 57 1 66 1-38 1-63 1 106 1 70 1-1 1-107 1 117 1-31 1-67 1 66 1-28 1-106 1-23 1 17 1 74 1-81 1 78 1 88 1-1 1-86 1-34 1-36 1-26 1 167 1-99 1-97 1 11 1-17 1 7 1 84 1 33 1 6 1-95 1 77 1 82 1-30 1-66 1-41 1 67 1-54 1-46 1 133 1-39 1-32 1-62 1 3 1 81 1-41 1-16 1 55 1-108 1 48 1 60 1-33 1 123 1-32 1-59 1 97 1-156 1 115 1-18 1-117 1 96 1-18 1-106 1-16 1 2 1 70 1 67 1-31 1-34 1 132 1-58 1 74 1-94 1 17 1 110 1-28 1-73 1 49 1-17 1-24 1-172 1-9 1 12 1 12 1 131 1-33 1-93 1 103 1 40 1-96 1 59 1-33 1-58 1 6 1-29 1-9 1 152 1 68 1-125 1-118 1 91 1 46 1-40 1-25 1 77 1 30 1-36 1-159 1 89 1 20 1-27 1-62 1-2 1 61 1 27 1-52 1 39 1 52 1 64 1-32 1-79 1-12 1-8 1 13 1 7 1-11 1-48 1 89 1-200 1 11 1 11 1 34 1-4 1 102 1 1 1-119 1 82 1 18 1 38 1-65 1 25 1-98 1 88 1-65 1-44 1 231 1-146 1-116 1 42 1-96 1 26 1 203 1-26 1-92 1-65 1 8 1 94 1-161 1 120 1 31 1-145 1 11 1 12 1 84 1-139 1 64 1 24 1 124 1 35 1 12 1-69 1-4 1 96 1-124 1 138 1-71 1 128 1-58 1-90 1 11 1-242 1 139 1 7 1-57 1-80 1 75 1-73 1 59 1-12 1 99 1 11 1 121 1 0 1-206 1 29 1-58 1 105 1-38 1 52 1 62 1-291 1 300 1 5 1-78 1-167 1 158 1-66 1 127 1-14 1 83 1-13 1-31 1-45 1-13 1 46 1-87 1 36 1-55 1 18 1 77 1-140 1 27 1 4 1 128 1-24 1-16 1 78 1-14 1-18 1-15 1-114 1 188 1-113 1 94 1-38 1 43 1-86 1 56 1-23 1 48 1-150 1-25 1 75 1 13 1-67 1-56 1 11 1 116 1 128 1-64 1 33 1 18 1-119 1-7 1-25 1-41 1 153 1-20 1 45 1 0 1-11 1 42 1-139 1-99 1-129 1 253 1-65 1-33 1 68 1-119 1 46 1 46 1 177 1-173 1 22 1-128 1-4 1 115 1 76 1-20 1-82 1-65 1 158 1-47 1 21 1-41 1 154 1-215 1 115 1 38 1-99 1-11 1 170 1-46 1-28 1 7 1 22 1-22 1-104 1-12 1-61 1 107 1 56 1-91 1 109 1-42 1-70 1-6 1-9 1 105 1-68 1 15 1 165 1-40 1-135 1-6 1-56 1 45 1 2 1 42 1-39 1 9 1 7 1 11 1 56 1 46 1-22 1-28 1 106 1-102 1 150 1-78 1-155 1 8 1 153 1-79 1-83 1 40 1 84 1 17 1-72 1-36 1 54 1-33 1 110 1-12 1-161 1 214 1 13 1-98 1 140 1-60 1-77 1 123 1 14 1-24 1 18 1-142 1 85 1 40 1-103 1 38 1-60 1 164 1-150 1 161 1-98 1 46 1-59 1-4 1 29 1 16 1-43 1 66 1-50 1 37 1-173 1 72 1-66 1 8 1 213 1 7 1-74 1-80 1 53 1 58 1-146 1 41 1 48 1 82 1-67 1 9 1 81 1-56 1-90 1-7 1 62 1 65 1-39 1-110 1 28 1 119 1-137 1 25 1 38 1 104 1-19 1-129 1 4 1 162 1-130 1-8 1 8 1-83 1 45 1 128 1 35 1-52 1-90 1-21 1 125 1-30 1-66 1 83 1-36 1 31 1-51 1 86 1-113 1-90 1 28 1 64 1-83 1 130 1-33 1-35 1-11 1-67 1 26 1 34 1-35 1-10 1 62 1 64 1-70 1 12 1 61 1 0 1 28 1-38 1 38 1-62 1-63 1-7 1-9 1 7 1-40 1 47 1-66 1 113 1 101 1-145 1-50 1 55 1-13 1-9 1 24 1-38 1-7 1-74 1 92 1-11 1 117 1-49 1 82 1-33 1-6 1-76 1 47 1-82 1-43 1 93 1 8 1-3 1-18 1 112 1 4 1-159 1-100 1 131 1 76 1 56 1-126 1-125 1-30 1 93 1 51 1-19 1 62 1 52 1-107 1 115 1-80 1 23 1 50 1-89 1-75 1 30 1-18 1 106 1-105 1 125 1-1 1-51 1-58 1 26 1-18 1-142 1 142 1-36 1-22 1 63 1-47 1 12 1 23 1 68 1 50 1-94 1-27 1-2 1-35 1-71 1 106 1-140 1 69 1 7 1 17 1-11 1 55 1 47 1-180 1-16 1 78 1-45 1 132 1 83 1-112 1-18 1-85 1 39 1 99 1 25 1-45 1-74 1 106 1-96 1 77 1 8 1-164 1 170 1-75 1-28 1 0 1-33 1-80 1 114 1-30 1 14 1 45 1-23 1 84 1-48 1 42 1 11 1-55 1-71 1-28 1-26 1-152 1 246 1-137 1 51 1-5 1 127 1-167 1 14 1-26 1 186 1-182 1 45 1 61 1-23 1 45 1-28 1-35 1-19 1 40 1 14 1 25 1 16 1-34 1 1 1-30 1 180 1-56 1-29 1-157 1 3 1 105 1-28 1 1 1 60 1-80 1 113 1 63 1-23 1-132 1-11 1 22 1 23 1 95 1-167 1 7 1 71 1 9 1-10 1 129 1 24 1 11 1-86 1-7 1 92 1-80 1-155 1 179 1-63 1-17 1 116 1-107 1 49 1 11 1-53 1 101 1-63 1 83 1 22 1-84 1-132 1 66 1 184 1-28 1-158 1 116 1 55 1-191 1 19 1 77 1 91 1-98 1-125 1 42 1-71 1 80 1 80 1-78 1 139 1-86 1 51 1-65 1 16 1 125 1 36 1-139 1-82 1 127 1 49 1-38 1-94 1-115 1 78 1 255 1-320 1 111 1 95 1 13 1 100 1-214 1-40 1 34 1-28 1 91 1 2 1-24 1-6 1-49 1 102 1-144 1 144 1 73 1-41 1-219 1 162 1-156 1 130 1 105 1-116 1-8 1-40 1-27 1 30 1 28 1-30 1-79 1 71 1-11 1 86 1 69 1 20 1 31 1 48 1-81 1-84 1-5 1 20 1-44 1-6 1 27 1 21 1 38 1-42 1-15 1 12 1-16 1 36 1 113 1-32 1-75 1 76 1-55 1 12 1 70 1-117 1 100 1-43 1 15 1 0 1 55 1-94 1-51 1 17 1 57 1-116 1 20 1 116 1-104 1 119 1-16 1-36 1 113 1-162 1 48 1 40 1 27 1 15 1-189 1 188 1-20 1 38 1 23 1 13 1-110 1 111 1-79 1 78 1-45 1-36 1 11 1-80 1-90 1 15 1 49 1-48 1 74 1-64 1 91 1 5 1 64 1-14 1 10 1-63 1-69 1 80 1 97 1-73 1-100 1-51 1 55 1 133 1-105 1 72 1 5 1-56 1 44 1 0 1-33 1-55 1-39 1 60 1-81 1 21 1 76 1-64 1 18 1 60 1 61 1-12 1-86 1 13 1 0 1 125 1-124 1 95 1-139 1 5 1 63 1-66 1-43 1 71 1-56 1-2 1-28 1-20 1 171 1-134 1 31 1 12 1 77 1 84 1-119 1-79 1-35 1 89 1 53 1-142 1 42 1 160 1 12 1-79 1-21 1-148 1 86 1-40 1-22 1 155 1-39 1-4 1 88 1-113 1-28 1 149 1-253 1 163 1-14 1 73 1-190 1 56 1-43 1 29 1 51 1 5 1-131 1 87 1 145 1-104 1 72 1-204 1 12 1 146 1 0 1-84 1 112 1-124 1-86 1 94 1 70 1 45 1 69 1-132 1-135 1 177 1-35 1 117 1-194 1-24 1 109 1-8 1 40 1-163 1-81 1 218 1 26 1-104 1-31 1-6 1-17 1 165 1 13 1-120 1 168 1-174 1-55 1 53 1 41 1-47 1-156 1 163 1-76 1-20 1 162 1 57 1-88 1 32 1-80 1 4 1-102 1-27 1 63 1-48 1 62 1 232 1-120 1-53 1 78 1-157 1 120 1-27 1-88 1 79 1-183 1 41 1 74 1 74 1-10 1 54 1-145 1 42 1 95 1-58 1 2 1 59 1 64 1-76 1-186 1 132 1 22 1-31 1 178 1-153 1-130 1 73 1 1 1 8 1-110 1 26 1-42 1-18 1 147 1 138 1-205 1 43 1-38 1 115 1 117 1-156 1 8 1-98 1 198 1-101 1-136 1 154 1 105 1-73 1-71 1 42 1 77 1-118 1 70 1 38 1-68 1 102 1-98 1-66 1 177 1-153 1 135 1-13 1-197 1 246 1-62 1-92 1-45 1 83 1 55 1-35 1-84 1 138 1-25 1-77 1 27 1 43 1-139 1 135 1-65 1 65 1-59 1 52 1-25 1-41 1-71 1 33 1 211 1-40 1-55 1-63 1 28 1 32 1-85 1 44 1-104 1-3 1 68 1-5 1 123 1-175 1 126 1-9 1-40 1 17 1 120 1 22 1-46 1 22 1 16 1 0 1-74 1 52 1-69 1-30 1-66 1 28 1-7 1 57 1 44 1 1 1 95 1-64 1 37 1-68 1 78 1-68 1-72 1-28 1 44 1-10 1 52 1 12 1 9 1-9 1 19 1 82 1-107 1 18 1-16 1 28 1-27 1-79 1 114 1-51 1 50 1-12 1-59 1 94 1-19 1-50 1 115 1-84 1 65 1-90 1-27 1 31 1 37 1 74 1-93 1 113 1-64 1-59 1 58 1-43 1 29 1-70 1 136 1-11 1-156 1 13 1 124 1 68 1-83 1-1 1 22 1-63 1-4 1 91 1-21 1-95 1 86 1 29 1-80 1-33 1 70 1 18 1-6 1 45 1-88 1 50 1 50 1-92 1 105 1 24 1-117 1 77 1-4 1-86 1-64 1 37 1 75 1-61 1 66 1-16 1-30 1 77 1 72 1-57 1 25 1 4 1-84 1 14 1 59 1-94 1 81 1-184 1 77 1 4 1-5 1-71 1 163 1-181 1 88 1-19 1 46 1-119 1 147 1-69 1-54 1 16 1-59 1 47 1 110 1 128 1-16 1-145 1-79 1-8 1 14 1-74 1 53 1-22 1 125 1-184 1 17 1 66 1 146 1-125 1 11 1 177 1 8 1-117 1-139 1 186 1-123 1 27 1 68 1 142 1-64 1 57 1-204 1 29 1-37 1-139 1 77 1 62 1 101 1-139 1 163 1-178 1 94 1-34 1 107 1 44 1-110 1 12 1-137 1-28 1 41 1 175 1-149 1 73 1 65 1-33 1-85 1-157 1 204 1-95 1-108 1 206 1 23 1-154 1-36 1 55 1 73 1-103 1 113 1-73 1 184 1-263 1 81 1-147 1 102 1-16 1 206 1-13 1-96 1-75 1 29 1 150 1-114 1-7 1 83 1 59 1-124 1 0 1-79 1 31 1-174 1 172 1 57 1 79 1-32 1-91 1-192 1 207 1-111 1 180 1-51 1 108 1-22 1-83 1-133 1-20 1 108 1 12 1 8 1-207 1 83 1 112 1-96 1-33 1-41 1 42 1 26 1 2 1 86 1 44 1-105 1 147 1-191 1 263 1-104 1 39 1-57 1-122 1 39 1-104 1 21 1 158 1 34 1-277 1 41 1-15 1-29 1 269 1-244 1 102 1 27 1 224 1-3 1-5 1-147 1-34 1-31 1-37 1-20 1-38 1 74 1 38 1 72 1-3 1-137 1 25 1-113 1 122 1 48 1 15 1 128 1-96 1-3 1-58 1-51 1 21 1 64 1 68 1-15 1-5 1-41 1-12 1 51 1-52 1-81 1 59 1-147 1 130 1 54 1-93 1-62 1 81 1 17 1 90 1 54 1-121 1 22 1 20 1-34 1-86 1 33 1-30 1 44 1-74 1 236 1-170 1-102 1 98 1 156 1 48 1-87 1-44 1 41 1-132 1-92 1 2 1 89 1 52 1 81 1-45 1-94 1 53 1 68 1 15 1 105 1-68 1-99 1 110 1 27 1 47 1 2 1-38 1-188 1 60 1-56 1 40 1-10 1-8 1 33 1 81 1-11 1-77 1 48 1 40 1-33 1-81 1-72 1 57 1 82 1-99 1 62 1 90 1-56 1 83 1 56 1-46 1-70 1-42 1 6 1-45 1-85 1 103 1 25 1 28 1 90 1-23 1 60 1 26 1-69 1 2 1-27 1-41 1-95 1 4 1 34 1 41 1-77 1 118 1 14 1-119 1 139 1-167 1 98 1-10 1 96 1-107 1-125 1 99 1 54 1 146 1-8 1-113 1 16 1-19 1-47 1 95 1 80 1-88 1-49 1 1 1 3 1-16 1-26 1 126 1-29 1-11 1 3 1 59 1-156 1-36 1 109 1 50 1 8 1-10 1-71 1 187 1-20 1-98 1-36 1 39 1-20 1-26 1-84 1 100 1-40 1-51 1 64 1-9 1 26 1 139 1-63 1-34 1 9 1 107 1 7 1 5 1-37 1-3 1-79 1 93 1-67 1-150 1 94 1 65 1 20 1-106 1 16 1 79 1-103 1-27 1-26 1 9 1 57 1-62 1 237 1-235 1 31 1-12 1 87 1-72 1 76 1 34 1-36 1 40 1-52 1-20 1 65 1 28 1 72 1-75 1 19 1 23 1-141 1-48 1-20 1 82 1 54 1-9 1-58 1 23 1 0 1 23 1-1 1-120 1 119 1-20 1 60 1 54 1 13 1-99 1 23 1 7 1-44 1-1 1-69 1 79 1-63 1 80 1-60 1-14 1-23 1-112 1 63 1 73 1 40 1 15 1 38 1-19 1 78 1-146 1-31 1 72 1 36 1-87 1 56 1-133 1 107 1-3 1-48 1-29 1 40 1 48 1 33 1 25 1 41 1-210 1-29 1 101 1 86 1-75 1 130 1-62 1-68 1 45 1-77 1-10 1-139 1 32 1 86 1 26 1-42 1-76 1 21 1 52 1-14 1 107 1-66 1-29 1 166 1-170 1 57 1-48 1-66 1-70 1 110 1 29 1 80 1-107 1 59 1 0 1-115 1-1 1 107 1-95 1-96 1 123 1 83 1-18 1 50 1-58 1 52 1-162 1-52 1 124 1 50 1 92 1-27 1-92 1-28 1-34 1 36 1 61 1 46 1-108 1-61 1-82 1 19 1 151 1 22 1 16 1-230 1 215 1 51 1 48 1-89 1-64 1-76 1 97 1 50 1-161 1-27 1 96 1 43 1 14 1 16 1-227 1 258 1-113 1-141 1 331 1-123 1-173 1 175 1-9 1-44 1-51 1 23 1 23 1 118 1-61 1-79 1 183 1-72 1 10 1-52 1-170 1 96 1 63 1-26 1-37 1 56 1 31 1 7 1-18 1-71 1-18 1 34 1 50 1-29 1-29 1 82 1 43 1 72 1-183 1 76 1-42 1-110 1 67 1 192 1-176 1 18 1 41 1 0 1 94 1-51 1-42 1-75 1 29 1-35 1-57 1 46 1 37 1 36 1 103 1-147 1-54 1 70 1 70 1-27 1 7 1 21 1-8 1-76 1-3 1 16 1 70 1-62 1 93 1-128 1 77 1-34 1-58 1-34 1 20 1 68 1-3 1 52 1-87 1-23 1 75 1-35 1 127 1 1 1-69 1 28 1-32 1-57 1-32 1 42 1 24 1 44 1-121 1-32 1 13 1 23 1-135 1 221 1 93 1-70 1-25 1-42 1 4 1 45 1-17 1 28 1-94 1 80 1 45 1-111 1 59 1-50 1 107 1 49 1-206 1 167 1-48 1 35 1-43 1 62 1-16 1-23 1-7 1 23 1 2 1 28 53 53 1-48 1 33 1-24 1 23 1 2 1 79 1-57 1 3 1-8 1 32 1 37 1-101 1 70 1-72 1-27 1 58 1-101 1 61 1 23 1-43 1 6 1-4 1 40 1-98 1 9 1 57 1-20 1 97 1 88 1-143 1 48 1-56 1 18 1 15 1-9 1 61 1-68 1-37 1 14 1-53 1-72 1 90 1-47 1 59 1-6 1-41 1 73 1 20 1 42 1-35 1-40 1-36 1 114 1-57 1 157 1-46 1 15 1-153 1 58 1-105 1-80 1 29 1 43 1 49 1-107 1 134 1 130 1-84 1 3 1 30 1-12 1-8 1-15 1-20 1-41 1 16 1-150 1-16 1 134 1 106 1-16 1-24 1-17 1 68 1-125 1-137 1 95 1 18 1 41 1-104 1 166 1-104 1-100 1 100 1 75 1-87 1-97 1 79 1 12 1-41 1 16 1-49 1 90 1-1 1 60 1-18 1-64 1 106 1-2 1-192 1 17 1-109 1 3 1 181 1-13 1 18 1 46 1-150 1 50 1-58 1-42 1 35 1 66 1-8 1-1 1-15 1 28 1 118 1-50 1-49 1 83 1-148 1 16 1 8 1-59 1-24 1-65 1 107 1-106 1-30 1 163 1-20 1 79 1-74 1 109 1-107 1 43 1 55 1-219 1-49 1 142 1-66 1-97 1 36 1 105 1-22 1 18 1 63 1-23 1-48 1-53 1 107 1 129 1-143 1-25 1 128 1-119 1 8 1 116 1-145 1 38 1-88 1 150 1 31 1-79 1 48 1-33 1 95 1-113 1-64 1-12 1-109 1 3 1 24 1 160 1 65 1-14 1 33 1-65 1 22 1-4 1-29 1-8 1 160 1-41 1-63 1-127 1 42 1-26 1-86 1 159 1 90 1-124 1-27 1-78 1 94 1 185 1-83 1 31 1 30 1-107 1 180 1-163 1-70 1-81 1 243 1-89 1 96 1-6 1 112 1-182 1-127 1 49 1-82 1 88 1 247 1-70 1-260 1 18 1 1 1-38 1 141 1 10 1-25 1 19 1 22 1-128 1 103 1-174 1 34 1 78 1 38 1-142 1 81 1-77 1 184 1 120 1 42 1-112 1-61 1-8 1-37 1 80 1-105 1 107 1-186 1 134 1-32 1-17 1 149 1-207 1 51 1 46 1-57 1 63 1 5 1 3 1-25 1 100 1 96 1-180 1 94 1 40 1 7 1-151 1 50 1 27 1 0 1 61 1-101 1-127 1 141 1 58 1-110 1-48 1 47 1 69 1-27 1 10 1-56 1 91 1 12 1 70 1 15 1-38 1-37 1-25 1-20 1 35 1-135 1 8 1 44 1 30 1-35 1 14 1-65 1 9 1-135 1 185 1-14 1 45 1 102 1-40 1-156 1 99 1 73 1-87 1 21 1 43 1-38 1 116 1-63 1 62 1-207 1 0 1 149 1 98 1-205 1 5 1 51 1 20 1-36 1 206 1-142 1 48 1-124 1-78 1 10 1 140 1 162 1-158 1-2 1-40 1-14 1 74 1 130 1-134 1-41 1 26 1 63 1 27 1-65 1-167 1 153 1-118 1 85 1 103 1-97 1-58 1 28 1 153 1-39 1-143 1 50 1-16 1-18 1-30 1 76 1 1 1 7 1-130 1 188 1 108 1-149 1 28 1-109 1 72 1-7 1-126 1 24 1 105 1 103 1 55 1-127 1-14 1 57 1-131 1 70 1-22 1 62 1 79 1-79 1 66 1 24 1 45 1-53 1 55 1-328 1 134 1-9 1 129 1-51 1 50 1-109 1-50 1 80 1 37 1-51 1 154 1-179 1 20 1-67 1-21 1-104 1 169 1-71 1 105 1-80 1 79 1-134 1 163 1-40 1 13 1-44 1 31 1-10 1-25 1-32 1 54 1 148 1-32 1-10 1-93 1-24 1 89 1-14 1 64 1-127 1 46 1-165 1 139 1-46 1 49 1-45 1-15 1 94 1 57 1-45 1-88 1-111 1 90 1 180 1 10 1-99 1 30 1-4 1 10 1-45 1 66 1-23 1-64 1 28 1-210 1-16 1 223 1-50 1-91 1 3 1 250 1-166 1 9 1-204 1 363 1-196 1 65 1-56 1 99 1-92 1 38 1 57 1-194 1-47 1 51 1 129 1-113 1 138 1-39 1-170 1-114 1 235 1-20 1 20 1-61 1-34 1-30 1 2 1 244 1-386 1 184 1 194 1-186 1-15 1-7 1-78 1 117 1-90 1-117 1 227 1-163 1 123 1 27 1 70 1 41 1-9 1-68 1-36 1 154 1-78 1-58 1-188 1 51 1 104 1 58 1 21 1-79 1-135 1 225 1-109 1-32 1-123 1 220 1 111 1-136 1-117 1 75 1 10 1-49 1-83 1 112 1 28 1 24 1-168 1-31 1 72 1-1 1 69 1 98 1 24 1 71 1-101 1-13 1-48 1 148 1-136 1 54 1 97 1-256 1 26 1 19 1 28 1-46 1-64 1 149 1-164 1 56 1-74 1 79 1-57 1 90 1 143 1 77 1-104 1-46 1-57 1 5 1 14 1-131 1-38 1 208 1-43 1 1 1-147 1 61 1-30 1 188 1 16 1 156 1-273 1-13 1 25 1 38 1-147 1-59 1 89 1-40 1 114 1-131 1 36 1 265 1-77 1-232 1 176 1 85 1-159 1-88 1 131 1-60 1 12 1-10 1 94 1-131 1 149 1-15 1-103 1 41 1 83 1 24 1-54 1 83 1-153 1 43 1 45 1 148 1-102 1-125 1 27 1-39 1-40 1-8 1 82 1-58 1 74 1 44 1 17 1 52 1-64 1-81 1 18 1 139 1 76 1-218 1 157 1 5 1-63 1-23 1-138 1 79 1 23 1-128 1 58 1-74 1 128 1 40 1 3 1 54 1 30 1-261 1 277 1-146 1 85 1-9 1-57 1 46 1 113 1 48 1-108 1-116 1 85 1 110 1-32 1 43 1-205 1 71 1-134 1 71 1-75 1 186 1 63 1-8 1-33 1-87 1 93 1-44 1-93 1 87 1-60 1-71 1 192 1-1 1-10 1-23 1 15 1-30 1 74 1-79 1 94 1 85 1-153 1-128 1 36 1-4 1 9 1 70 1-31 1 61 1 56 1 11 1-127 1 35 1 34 1-47 1 106 1 59 1-83 1-96 1 153 1-58 1-121 1 18 1 76 1 76 1-46 1-7 1 122 1-88 1-79 1 65 1 18 1 32 1-64 1-81 1 41 1 55 1-8 1-93 1 13 1-20 1 150 1-40 1-86 1 23 1 94 1 75 1-89 1-60 1-37 1 75 1 104 1-44 1-62 1-33 1 39 1 35 1-20 1-29 1 15 1 29 1-62 1 49 1-85 1 110 1-39 1 88 1-68 1 59 1-62 1 46 1 28 1-46 1 10 1-47 1 29 1-23 1-103 1 48 1-24 1-9 1 82 1 30 1-19 1 116 1-70 1-98 1 6 1 73 1-52 1-20 1 112 1-130 1 67 1-36 1 61 1-39 1-121 1 194 1 19 1-85 1-26 1 103 1-166 1 72 1 74 1 34 1-78 1 30 1-172 1 106 1-57 1 15 1-15 1 79 1 69 1-3 1-95 1 137 1-114 1-16 1 45 1-172 1 38 1 156 1-43 1 124 1-22 1-8 1-102 1-4 1 1 1-37 1-41 1-59 1 273 1-173 1 30 1-81 1-98 1 295 1 0 1-178 1-69 1 41 1 107 1 33 1-74 1 37 1-18 1-45 1-129 1 73 1-101 1 16 1-53 1 223 1 34 1-93 1 81 1-20 1-56 1-28 1 101 1 26 1 20 1-98 1-46 1-55 1 13 1-165 1-40 1 69 1 120 1-52 1-36 1-5 1 19 1 60 1-167 1 295 1 22 1 18 1-65 1-66 1 34 1-84 1 2 1 28 1-56 1 2 1 113 1 73 1 64 1-148 1-23 1-4 1-12 1-91 1 43 1 27 1 21 1-116 1 108 1-66 1-92 1 25 1 45 1 107 1 88 1-125 1 83 1 48 1-85 1-143 1 113 1-10 1-172 1 147 1 40 1-117 1 6 1 78 1 115 1 1 1 7 1-113 1 51 1 88 1-188 1 55 1-90 1-34 1-65 1 143 1 47 1 15 1-114 1 84 1 60 1-51 1 40 1-98 1 58 1-138 1 286 1-20 1-82 1-134 1 268 1-215 1 169 1-113 1-55 1-83 1-62 1 314 1-219 1 115 1-99 1-45 1 220 1-218 1-3 1 37 1-132 1-29 1 100 1 28 1-50 1 135 1 36 1 95 1-92 1-119 1 95 1 15 1-133 1 19 1 55 1-104 1 163 1-44 1-44 1 47 1-79 1-77 1 62 1 125 1 47 1-64 1 65 1 95 1-46 1-55 1 25 1 64 1-59 1 6 1-88 1-65 1-21 1-69 1 29 1 100 1 40 1 48 1-24 1-28 1-1 1 97 1-115 1-70 1 109 1-74 1 71 1 108 1-49 1-148 1 280 1-106 1-135 1 52 1 203 1-159 1-100 1 35 1 37 1 53 1 83 1-39 1-49 1-18 1-24 1-64 1 18 1 2 1 144 1 49 1-32 1 50 1-172 1-86 1 92 1 37 1 89 1-37 1-41 1 5 1-52 1 0 1 59 1-40 1-52 1 75 1-43 1-39 1 75 1-27 1-13 1 181 1-130 1 51 1-166 1 88 1 48 1-53 1-72 1 2 1 76 1 23 1 68 1 47 1-79 1 34 1 64 1-34 1 21 1-119 1 13 1 82 1 17 1-90 1 57 1 98 1-177 1 49 1 20 1-79 1 21 1 22 1-44 1 37 1 5 1 73 1-133 1 54 1 29 1 40 1 1 1 85 1-90 1 3 1 46 1 53 1-172 1 24 1-40 1 101 1-21 1 12 1 42 1-97 1-62 1 5 1 98 1 36 1-18 1 78 1-44 1 70 1-131 1 114 1-164 1 90 1 76 1-69 1 43 1 79 1-92 1 0 1 26 1-39 1 6 1-57 86-133 1-28 1 9 1 22 1-58 1 82 1-65 1 17 1 41 1 29 1 158 1-262 1 92 1 18 1 11 1 69 1-100 1-61 1-171 1 9 1 81 1 84 1-100 1 55 1 87 1-1 1-37 1 114 1-34 1-18 1-48 1 30 1 12 1 26 1-161 1-37 1-79 1 11 1 37 1 161 1-59 1-145 1 150 1 52 1 126 1-209 1-132 1 182 1 29 1 32 1-153 1 39 1 86 1-30 1 67 1-138 1 25 1 82 1-198 1-38 1 148 1 80 1-221 1 70 1-34 1 67 1 134 1 3 1-7 1 104 1-94 1-188 1 71 1 247 1-169 1-200 1 131 1 15 1-22 1-179 1 344 1-165 1-33 1 191 1-60 1-11 1-28 1 65 1 126 1-409 1 78 1 128 1 72 1 75 1-253 1 122 1-101 1 171 1-56 1-51 1 55 1-53 1-127 1 132 1 116 1 73 1-25 1-121 1-85 1-5 1 173 1-40 1 17 1-71 1 115 1-81 1-14 1-13 1 26 1-143 1-54 1 117 1 125 1-49 1-60 1-3 1 108 1 42 1-212 1-3 1-19 1 111 1 41 1 77 1-36 1-172 1 73 1-99 1 58 1-75 1 86 1-58 1 128 1-66 1-38 1 120 1-93 1 23 1-39 1 112 1 54 1 83 1-170 1-81 1 6 1 0 1 45 1 66 1-12 1 24 1-69 1-25 1 122 1 53 1-191 1 8 1 243 1-96 1-32 1-131 1-28 1-6 1 133 1 97 1-117 1 25 1-16 1-60 1 119 1-50 1 42 1 54 1 35 1 48 1 34 1-128 1 107 1-145 1-32 1-92 1 192 1 56 1-222 1 155 1-100 1 105 1-20 1 26 1-86 1 54 1 27 1 64 1 20 1-59 1 44 1-204 1 87 1 50 1 66 1-62 1 42 1-3 1 69 1-155 1-42 1 108 1 107 1-167 1 91 1-32 1 36 1-102 1 100 1 5 1-4 1-25 1-76 1 99 1-69 1 74 1-33 1 121 1-85 1 22 1-18 1-88 1 16 1 25 1 60 1-57 1 13 1 39 1 3 1-9 1-102 1 57 1-81 1 92 1-30 1-32 1 40 1 74 1 25 1-59 1-6 1-34 1 84 1-105 1-17 1-27 1-10 1 217 1-59 1 1 1-55 1 127 1-75 1-226 1 288 1-95 1 67 1-105 1-3 1 8 1 92 1 41 1-71 1-6 1 79 1-107 1-90 1 13 1 201 1-49 1-161 1 117 1-69 1 137 1-88 1-80 1 97 1-146 1 57 1 14 1 61 1-53 1 89 1 15 1 21 1-78 1-65 1 52 1-71 1 57 1-23 1-39 1 40 1 43 1-112 1 158 1-195 1 51 1-6 1 64 1-7 1 3 1-66 1 108 1 38 1-167 1 164 1-107 1 39 1-152 1 244 1-207 1 76 1 63 1-74 1 112 1-92 1 47 1-26 1-71 1-12 1 161 1 19 1 33 1-21 1-43 1-86 1-86 1-73 1 82 1 73 1 74 1-109 1 2 1-62 1 38 1 46 1 66 1-78 1 94 1 62 1-202 1-61 1 15 1-21 1 3 1-60 1 94 1 7 1 28 1 128 1-7 1-191 1 117 1-5 1 132 1-10 1-20 1-144 1 90 1-138 1-133 1 117 1 69 1 15 1-33 1-164 1 113 1-83 1 180 1-89 1 20 1 43 1-23 1 108 1-88 1-5 1 92 1-159 1-50 1-61 1 87 1 30 1-159 1 3 1 64 1-46 1 120 1-23 1 64 1 38 1 126 1-146 1-98 1-21 1 44 1 77 1-127 1 9 1 28 1-88 1 14 1 101 1 31 1-123 1 266 1-104 1-234 1 272 1 45 1-54 1-121 1 80 1-150 1 55 1 258 1-313 1 206 1-190 1 51 1-153 1 20 1 399 1-349 1-27 1 57 1 162 1-3 1-47 1 19 1 96 1-95 1-35 1-18 1 207 1-108 1 57 1-103 1 122 1-225 1 158 1 34 1 12 1-141 1-34 1-40 1-145 1 211 1-213 1 315 1 48 1-125 1-95 1-49 1 6 1 164 1-149 1 142 1-51 1-159 1 124 1 75 1-193 1 166 1 138 1-134 1-31 1 42 1-85 1 71 1-39 1 8 1-80 1-68 1 141 1 51 1-26 1-2 1 140 1-178 1 121 1 1 1 37 1-44 1 68 1-83 1 44 1-59 1-25 1 0 1 65 1 18 1-115 1 54 1-2 1 119 1-277 1 84 1-15 1 155 1-30 1 31 1 30 1-52 1 27 1-5 1-73 1-73 1 139 1-91 1-88 1 43 1 32 1 187 1-36 1-144 1-47 1 61 1 50 1 45 1-8 1-99 1 32 1 137 1-34 1 1 1-223 1 47 1 14 1-24 1 63 1-31 1 140 1-55 1 34 1-72 1 53 1 61 1-90 1-14 1-134 1 114 1 77 1 79 1-155 1-75 1 51 1 21 1 113 1 78 1 4 1-49 1-88 1 41 1-36 1 64 1-79 1 60 1-49 1 20 1-1 1-50 1 120 1-135 1 189 1-65 1 53 1 19 1-88 1-113 1 31 1-36 1 37 1 82 1 8 1 12 1-6 1-133 1 10 1 36 1-28 1-5 1 148 1-123 1 151 1 13 1 11 1 64 1-43 1-35 1-110 1 64 1 26 1-39 1-8 1 9 1-66 1 100 1 67 1 20 1 3 1-18 1-90 1-77 1-14 1 3 1 218 1-130 1 47 1-29 1-31 1 19 1-28 1-90 1 94 1 29 1 14 1-25 1 27 1 107 1-54 1-31 1-35 1-4 1-54 1 20 1 13 1 0 1-3 1 82 1-13 1 56 1 36 1-229 1 48 1-15 1 27 1 12 1 123 1-85 1-118 1 44 1 48 1 3 1 61 1 18 1-173 1 135 1 44 1-52 1-76 1 25 1 12 1 65 1 1 1 83 1-91 1 50 1-49 1-66 1 19 1 122 1-106 1-122 1-11 1 53 1 63 1 126 1-69 1-76 1 35 1-105 1 162 1 45 1-204 1 59 1-113 1 88 1 26 1 102 1-21 1-162 1-1 1-6 1 61 1-7 1 7 1 12 1-24 1-20 1-38 1 101 1 160 1-165 1 31 1-70 1 50 1-53 1-24 1 95 1-81 1 27 1-10 1 73 1-230 1 277 1-85 1 41 1-82 1 33 1-60 1 54 1-122 1 129 1 0 1 130 1-69 1 68 1-172 1 50 1-103 1 48 1-191 1 185 1 50 1-78 1-7 1 116 1-36 1 26 1 40 1-46 1 64 1 19 1-8 1-324 1 166 1 41 1-73 1-186 1 219 1 52 1 99 1-1 1-117 1-21 1 24 1 92 1-92 1 1 1 13 1 54 1-202 1 65 1-23 1-38 1 70 1 82 1-56 1-198 1 129 1-27 1 133 1 82 1 18 1-81 1 68 1-132 1-99 1 60 1-85 1-2 1 183 1-87 1-94 1-31 1 20 1 7 1 89 1-23 1 85 1 104 1-104 1-143 1-70 1 136 1-57 1 61 1-62 1 13 1 29 1 41 1 16 1-11 1-23 1-51 1 164 1 11 1-89 1 110 1-101 1-25 1 94 1-155 1 1 1 4 1 17 1-120 1 132 1-81 1 99 1-97 1 63 1-191 1 200 1 22 1 42 1-16 1-205 1 143 1 24 1-55 1 169 1 6 1-140 1-83 1 45 1-86 1 143 1 131 1 7 1-109 1-47 1-3 1 106 1 41 1-176 1-28 1 95 1 9 1 76 1-127 1-60 1-9 1 39 1 63 1-120 1 72 1 137 1 39 1-89 1-63 1 6 1 6 1 5 1-7 1-144 1 171 1 145 1-131 1 45 1 63 1-135 1 127 1-12 1-30 1-48 1 2 1-80 1 89 1-15 1-157 1 160 1 99 1-54 1-24 1 174 1-44 1-232 1-32 1 52 1 33 1-9 1-56 1-63 1 151 1-46 1-30 1 198 1 4 1-43 1-69 1-2 1 114 1-64 1 16 1 0 1-182 1 102 1-37 1 132 1-86 1 12 1 124 1-46 1-48 1 78 1-158 1-20 1 95 1-53 1 68 1-25 1 39 1-9 1 7 1 66 1 6 1-89 1-22 1 43 1 77 1-117 1 10 1 38 1 34 1-106 1 26 1-53 1 94 1 29 1-1 1-51 1 77 1-61 1-6 1 43 1-24 1-9 1 39 1 0 1-51 1 32 1-56 1 24 1 30 1 47 1 38 1-117 1-32 1 68 1-79 1 53 1 33 1-93 1 56 1-28 1 15 1 85 1-16 1-11 1-90 1 20 1 49 1-25 1 38 1 107 1 13 1-114 1 2 1 6 1 5 1 95 1-53 1 42 1-112 1-23 1-68 1-8 1 137 1 97 1-76 1 109 1-252 1 37 1 39 1-23 1 56 1-66 1 58 1-32 1-15 1 74 1 26 1-33 1 47 1 12 1 72 1-141 1 28 1-128 1-55 1 130 1-77 1 183 1-53 1 41 1-93 1 88 1-42 1-121 1-4 1 187 1-110 1-119 1 96 1 75 1 85 1 30 1-216 1 208 1-184 1 143 1 27 1-206 1 9 1-78 1-11 1 18 1 10 1 170 1 11 1-55 1 40 1-53 1 41 1-57 1-1 1 64 1 41 1-156 1 84 1-162 1 114 1 85 1-50 1 61 1 29 1-117 1-64 1-57 1 156 1-25 1 72 1-169 1 59 1 105 1-80 1-62 1 14 1 84 1-178 1 124 1-96 1 57 1 66 1 93 1-70 1-4 1-58 1 77 1-44 1-109 1 26 1 79 1-28 1 43 1 111 1-9 1-127 1-42 1 164 1-95 1-146 1-86 1 117 1 102 1 88 1 36 1-83 1-74 1 2 1-123 1-56 1 75 1 124 1-100 1-208 1-20 1 307 1 122 1 2 1-32 1-25 1-184 1-118 1 107 1 129 1-59 1 52 1-122 1 59 1-30 1-115 1 16 1-91 1-13 1 181 1 15 1 47 1 33 1 57 1-36 1-78 1-80 1 58 1 144 1-29 1-23 1-68 1-101 1 6 1-52 1 154 1-196 1-29 1 280 1 25 1 87 1-136 1-178 1 56 1 32 1-8 1-55 1 330 1-326 1 170 1-134 1-50 1 65 1 228 1-151 1-186 1 44 1 153 1 108 1-354 1 157 1 63 1 97 1-18 1-39 1-64 1-24 1-60 1 91 1 4 1 114 1-48 1-222 1 66 1 84 1 169 1-72 1 68 1-96 1-32 1-37 1 45 1 140 1-31 1-243 1 137 1 129 1-129 1-81 1-23 1-92 1-8 1 259 1-45 1-8 1-129 1 199 1-171 1 100 1-65 1 8 1 21 1-20 1 79 1 105 1-129 1 70 1 8 1-59 1-117 1 119 1-99 1-70 1 55 1 47 1-36 1 142 1-253 1 99 1-92 1 113 1 56 1 56 1-161 1 71 1-92 1 143 1 105 1-159 1 105 1-36 1 55 1-87 1-14 1-134 1 8 1 135 1-69 1 101 1-119 1 112 1-118 1 29 1 151 1-67 1 89 1-177 1 49 1-14 1 168 1-139 1-136 1 68 1 129 1-90 1-46 1 27 1 158 1 5 1-69 1 86 1-55 1-83 1 44 1 73 1-117 1 173 1-124 1 3 1 3 1 15 1-23 1 56 1 33 1 35 1-109 1-129 1 113 1 41 1-41 1 45 1 10 1-54 1 123 1 3 1-88 1 7 1-78 1 72 1 125 1-97 1-4 1 25 1-3 1 87 1-65 1 19 1 15 1-121 1 127 1-120 1-26 1-18 1 75 1-58 1 128 1 67 1 1 1-135 1 39 1 74 1-51 1 45 1-148 1 72 1-66 1 164 1-142 1-51 1 218 1-63 1 0 1-29 1-39 1 90 1-29 1 32 1 34 1-74 1-27 1 6 1-10 1 161 1-166 1-17 1-48 1 161 1-112 1-70 1 123 1 80 1 44 1-129 1-28 1 53 1-45 1 11 1-16 1-46 1 116 1-15 1-53 1 34 1-122 1 141 1 52 1-24 1 34 1-28 1 6 1 7 1-83 1 68 1 53 1-93 1-65 1 126 1-104 1 100 1-48 1-128 1 44 1 63 1 2 1-132 1 54 1 87 1-64 1 133 1-112 1 3 1 14 1-30 1-7 1-4 1-14 1 174 1-56 1-119 1-48 1 79 1 104 1-125 1-63 1 127 1-56 1 136 1-60 1-27 1-40 1-2 1-52 1-87 1 50 1 72 1 98 1-51 1-8 1 63 1-28 1-10 1-61 1 26 1 37 1-49 1 49 1-62 1 174 1-240 1 55 1 172 1 5 1-82 1-97 1-101 1-9 1 20 1 79 1-53 1-87 1 129 1 6 1-1 1 40 1-100 1 103 1-5 1 46 1 33 1-55 1-22 1-29 1 55 1 89 1-277 1 93 1-137 1 79 1 44 1 51 1-21 1-69 1-4 1-54 1 120 1 88 1-71 1 43 1-37 1-86 1 82 1 49 1 42 1-98 1-81 1 39 1-124 1 62 1-60 1-2 1-24 1-24 1 44 1 23 1 92 1-40 1 204 1-224 1-10 1-25 1-89 1 1 1 214 1-4 1-116 1 37 1-34 1 90 1-103 1 107 1-108 1-20 1-38 1 107 1 106 1 53 1-165 1 188 1-44 1 17 1-101 1-38 1 129 1-6 1-93 1-133 1 131 1-10 1 92 1 67 1-82 1-44 1-140 1-21 1 74 1 2 1 62 1 37 1-89 1 20 1 176 1-230 1 24 1-15 1-15 1 60 1 92 1-140 1 45 1-9 1-29 1-35 1 103 1 156 1-60 1 56 1-104 1-11 1-68 1-77 1 53 1-104 1 39 1 38 1 57 1-159 1 36 1 114 1-153 1 66 1 176 1-112 1 28 1 21 1 89 1-180 1 119 1-10 1 113 1-111 1 16 1 49 1-142 1 11 1 142 1-45 1 10 1-59 1 54 1-216 1-17 1 68 1 101 1 82 1 32 1 2 1-174 1 7 1-68 1-2 1-13 1 50 1 5 1-65 1 23 1 160 1-30 1 27 1-110 1 42 1 78 1-151 1 118 1-31 1-122 1 34 1 56 1-108 1 123 1 78 1-4 1-187 1 211 1 55 1-213 1 77 1 77 1-84 1-42 1 10 1-78 1 81 1 76 1 26 1-40 1 36 1-92 1 53 1-38 1 111 1-42 1 44 1-195 1 66 1 180 1-117 1 5 1 11 1-52 1 110 1-81 1-174 1 105 1-44 1 21 1 26 1 108 1-110 1 22 1 26 1 26 1-14 1 40 1 30 1 98 1-129 1-15 1-38 1 32 1-65 1 23 1 135 1-85 1-22 1 2 1-79 1 68 1 81 1-32 1-95 1 63 1 130 1-103 1 82 1 103 1-38 1 21 1-123 1 12 1 18 1 130 1-195 1-18 1-25 1 40 1-64 1 102 1 38 1 6 1-7 1 33 1-7 1-42 1-21 1 63 1-9 1 42 1-48 1 56 1-32 1-81 1 5 1 158 1-140 1 83 1 25 1-93 1 63 1-85 1 58 1-31 1 69 1 43 1-81 1-91 1 111 1 15 1 2 1 20 1-30 1-31 1 47 1-36 1 15 1 13 1-35 1-36 1 11 1-61 1 17 1 64 1-15 1 31 1 19 1-63 1 88 1 27 1-40 1-37 1 58 1-58 1-70 1-31 1 27 1 43 1 92 1-25 1 11 1-46 1 36 1-34 1 50 1 14 1 7 1-106 1-1 1-108 1 127 1 20 1-64 1 50 1-31 1-111 1 52 1 4 1 60 1-14 1 15 1 89 1-184 1 43 1 132 1-163 1 58 1 33 1-192 1 61 1 46 1-21 1 37 1 5 1 70 1-135 1 81 1 61 1-39 1-210 1 33 1 133 1 115 1-25 1-47 1-102 1-39 1 81 1 80 1-31 1-95 1-9 1-42 1 42 1-23 1 148 1-77 1-66 1-13 1-15 1-31 1 89 1-9 1-31 1 7 1 1 1 178 1-94 1-10 1-85 1-55 1 145 1 3 1-5 1-9 1 38 1-47 1-67 1 37 1 27 1 58 1 5 1-107 1-10 1 96 1 7 1-59 1 19 1 5 1 18 1 84 1-86 1 5 1-41 1 0 1-181 1 82 1 187 1-98 1 23 1-178 1 122 1-193 1 364 1-29 1-38 1-245 1 140 1 3 1-10 1-33 1-40 1 165 1-221 1 106 1-89 1 94 1 17 1 100 1 82 1-180 1 54 1 21 1 23 1-46 1-109 1 14 1-25 1-68 1 103 1 45 1-57 1 58 1-138 1 139 1 150 1-102 1 9 1-36 1-36 1 163 1-79 1 27 1-43 1-129 1 48 1-3 1-6 1-78 1-15 1-61 1 174 1-100 1 4 1-5 1 139 1-4 1-101 1-113 1 5 1 194 1-224 1 42 1 222 1 84 1-78 1-67 1-97 1 21 1 125 1-185 1 8 1-13 1 234 1-14 1-116 1 64 1-34 1-112 1-73 1 269 1-222 1-30 1 18 1 177 1 82 1-281 1 59 1-21 1-2 1 99 1 34 1-171 1 67 1-30 1 81 1-11 1 184 1-83 1 13 1-150 1 119 1 56 1-27 1-86 1 58 1-79 1-80 1 137 1 2 1-35 1-18 1 66 1-89 1 32 1-81 1-19 1 55 1-19 1-16 1 13 1 122 1 19 1 14 1 57 1-35 1-2 1-83 1 114 1-115 1-71 1 8 1 6 1 68 1 67 1-34 1-40 1-35 1 79 1-17 1-113 1 101 1 70 1 3 1-8 1-36 1 11 1 80 1-80 1-92 1 14 1 65 1-9 1-7 1-30 1 42 1-19 1 75 1-39 1-18 1-21 1 6 1 32 1 29 1-127 1 199 1-120 1 86 1-39 1-70 1 37 1-67 1 61 1 57 1-80 1 84 1-101 1-20 1 56 1-39 1 26 1 18 1-60 1 53 1-84 1 103 1 25 1 110 1-217 1 115 1 92 1-4 1-246 1 208 1-20 1-18 1-68 1 24 1 1 1 70 1-154 1 137 1-18 1 127 1-49 1 58 1-176 1 159 1 1 1-159 1 104 1 86 1-60 1-14 1 61 1-20 1-54 1-47 1 101 1-48 1 17 1 74 1-46 1 104 1-126 1-77 1 77 1 100 1-12 1 26 1 69 1-83 1-46 1 29 1-137 1-18 1 33 1 218 1-33 1-168 1 56 1 165 1-61 1 8 1-22 1 42 1-82 1 7 1-53 1-58 1 46 1 74 1-158 1 104 1-95 1 130 1 92 1-173 1-9 1 107 1 29 1-144 1 36 1 31 1 49 1 73 1-31 1-64 1-69 1-16 1-17 1-77 1 45 1 124 1-35 1-55 1-57 1 77 1 47 1-122 1 89 1-80 1-49 1 94 1 164 1-68 1-9 1-48 1-41 1 44 1-29 1-11 1-75 1 114 1-155 1 156 1 18 1 21 1-60 1 51 1-200 1 66 1-36 1-58 1 14 1 47 1 162 1-20 1-88 1-25 1 42 1 53 1 66 1-89 1 34 1-105 1 0 1 54 1 46 1-55 1-168 1 168 1-13 1-36 1 15 1 154 1-5 1-325 1 79 1 142 1-1 1-17 1-158 1 28 1 201 1-119 1 88 1-166 1 39 1-6 1-69 1-34 1-41 1 73 1 29 1 111 1 39 1-99 1 18 1 190 1-222 1 55 1-39 1-67 1 62 1 31 1-99 1 44 1 130 1-57 1-85 1 13 1-26 1 13 1-131 1 125 1-79 1 21 1 56 1-2 1 49 1 73 1 88 1-244 1 16 1 96 1-68 1 13 1-102 1-41 1-9 1 119 1 119 1-35 1 152 1-161 1 1 1-77 1-68 1-51 1 96 1 40 1 79 1 81 1-87 1 65 1-72 1-11 1 36 1-64 1 62 1 109 1-9 1-73 1-28 1-103 1-5 1 226 1-81 1-84 1-44 1 78 1 58 1-80 1-134 1 32 1 4 1 68 1 119 1-122 1 19 1 83 1-143 1 18 1 44 1 126 1 18 1-40 1-42 1-82 1 122 1-98 1 90 1-64 1-64 1 77 1 127 1-64 1-197 1 31 1 23 1 85 1-25 1 8 1 27 1-20 1 26 1 68 1-69 1 23 1 17 1-6 1-39 1-91 1 100 1-99 1-62 1 140 1 12 1 70 1 26 1-138 1 40 1 22 1 41 1-54 1-15 1-162 1 62 1-14 1 164 1 54 1-24 1-109 1 75 1-77 1-46 1-143 1 180 1 66 1 20 1-25 1 115 1-102 1-93 1-60 1 20 1 44 1-12 1 38 1 51 1 54 1-10 1 40 1-103 1 116 1-50 1-96 1 46 1-160 1 265 1-271 1 111 1-82 1 239 1-87 1 37 1-173 1-19 1 81 1 105 1 39 1-2 1-95 1 0 1 141 1-91 1-73 1-37 1-28 1-19 1 130 1-96 1-59 1 93 1 94 1-110 1 69 1-94 1 110 1-20 1 10 1 29 1 18 1-97 1 21 1 83 1 91 1 3 1-36 1-46 1 42 1-24 1-108 1 62 1 58 1-56 1 46 1-24 1-152 1-1 1 93 1 33 1 53 1 9 1-57 1-10 1 40 1-7 1 26 1-103 1-31 1 16 1 76 1 145 1-31 1-82 1 28 1-3 1 18 1-78 1 49 1 24 1-14 1 17 1-21 1 12 1-45 1-64 1 186 1 30 1-127 1-23 1 37 1 80 1-10 1 14 1-48 1-15 1-116 1 8 1 125 1-42 1 150 1-125 1 21 1-58 1 7 1-23 1 47 1 24 1-30 1 5 1 126 1-26 1-42 1-110 1 26 1 31 1-127 1 20 1 37 1-18 1 27 1-25 1 59 1-21 1 102 1-68 1-15 1-73 1 29 1 7 1-14 1-69 1 84 1 82 1-20 1 70 1-85 1 20 1 61 1-75 1 116 1-44 1-74 1 8 1-45 1-11 1-38 1-6 1 86 1-13 1 52 1-205 1 43 1-8 1 100 1 103 1 18 1 9 1-217 1 12 1 54 1 77 1 51 1-102 1-38 1 36 1 4 1-44 1 9 1-82 1 108 1 91 1-62 1-213 1 51 1-24 1 39 1 93 1 89 1-79 1-113 1 148 1-46 1-67 1-9 1 94 1-55 1 94 1-28 1 8 1-133 1-105 1 58 1 76 1 61 1-88 1 36 1-124 1 50 1 4 1 27 1 34 1-22 1 23 1 118 1-286 1 69 1 88 1-21 1 62 1-67 1-83 1 63 1-5 1-15 1 121 1-57 1 57 1 16 1-45 1 68 1-143 1 41 1-186 1 99 1 59 1-108 1 1 1 71 1 46 1 110 1-65 1-80 1 22 1-42 1 121 1-64 1-63 1 65 1-74 1 117 1-170 1 68 1 60 1 86 1-124 1 41 1-93 1-101 1 92 1-96 1 41 1 76 1-71 1 105 1-165 1 165 1 152 1-109 1-75 1-93 1 22 1-7 1 22 1-34 1 17 1 188 1-7 1-107 1 36 1 100 1-93 1 20 1-97 1 71 1-88 1 89 1-128 1-57 1 125 1-18 1-52 1 124 1-44 1-66 1 22 1 41 1 67 1 35 1-64 1-55 1 65 1 69 1 59 1-122 1-65 1-25 1 129 1-126 1 65 1-127 1-50 1 173 1-112 1 198 1 21 1-104 1 2 1-8 1-10 1 32 1 118 1-83 1-159 1 95 1 21 1-108 1-32 1 136 1 25 1 120 1-170 1-30 1 119 1-106 1 22 1-88 1 35 1 89 1 91 1-20 1 18 1-113 1 29 1 53 1 79 1-84 1-43 1 0 1-20 1 22 1-79 1 39 1 50 1 24 1-31 1-28 1-116 1 53 1-23 1 72 1 9 1-2 1 81 1-71 1-48 1 74 1 22 1 79 1 28 1-112 1 41 1-68 1-117 1-74 1 60 1 27 1 13 1-49 1 5 1 85 1 68 1-85 1-34 1 55 1-68 1 62 1 109 1 88 1-116 1 14 1 24 1-57 1-85 1-49 1 58 1 44 1 40 1 67 1-88 1 93 1-140 1 232 1-282 1 90 1-46 1 40 1 39 1 53 1-86 1 75 1-75 1-99 1 172 1-56 1 10 1 17 1 110 1-173 1 45 1-43 1 57 1-51 1 10 1 53 1 5 1-126 1-33 1 60 1 100 1 22 1-127 1 46 1-20 1 22 1 147 1-63 1-72 1-41 1 67 1-18 1-11 1-52 1 178 1-144 1 41 1 47 1-15 1-89 1 21 1 23 1-93 1-14 1 72 1 131 1-42 1-22 1 11 1 102 1-95 1 84 1 68 1-160 1 98 1-53 1-9 1-24 1 154 1-20 1-117 1 12 1-26 1-130 1 191 1 63 1-50 1 119 1-127 1-33 1 112 1 60 1-64 1-196 1 152 1-64 1-46 1 216 1-82 1-91 1 12 1-35 1 14 1 11 1 10 1 44 1-12 1-26 1 231 1-121 1 65 1-183 1 40 1-62 1-27 1 52 1-35 1 146 1-27 1-105 1-50 1-18 1 28 1 25 1-1 1-28 1 56 1 86 1 9 1 74 1-238 1 50 1-3 1 7 1-14 1 142 1-185 1-26 1 72 1 41 1 53 1 2 1-4 1 77 1 22 1-99 1-80 1 25 1-53 1 117 1-68 1 7 1-45 1-45 1-38 1 150 1 14 1-78 1 106 1 16 1-13 1-152 1 33 1 139 1-55 1-73 1 91 1 27 1-73 1-111 1 164 1 58 1-28 1-91 1-136 1 126 1 53 1-60 1 36 1-81 1 5 1-40 1 65 1-10 1-60 1 125 1 86 1-74 1-83 1 12 1 12 1-4 1-25 1-53 1 30 1-2 1 33 1 109 1-45 1 9 1-117 1 45 1 7 1-45 1 8 1 65 1-63 1 48 1-94 1-68 1 160 1-102 1 44 1-27 1-49 1 89 1 131 1-18 1 15 1-184 1 43 1-47 1 38 1 99 1-154 1 110 1 11 1-103 1-191 1 99 1 173 1-204 1 207 1-16 1-67 1 9 1-44 1 73 1 47 1 15 1-149 1 24 1 51 1-5 1 124 1-74 1-60 1-100 1 96 1-84 1 42 1 20 1-34 1 81 1 35 1-64 1-114 1 46 1 161 1-103 1 54 1 19 1 35 1-54 1-56 1 137 1-12 1-64 1 23 1-49 1-26 1-28 1-86 1 132 1-158 1 82 1 172 1 3 1-132 1-63 1 33 1 39 1 9 1 36 1 73 1-213 1-20 1-22 1-8 1 167 1-187 1 95 1 145 1-31 1-8 1-23 1 14 1 67 1-4 1-118 1 91 1-24 1-81 1-17 1 42 1-139 1-25 1 103 1-50 1 27 1-49 1 278 1-187 1-155 1 90 1 46 1-53 1 26 1 180 1-81 1-122 1-43 1 77 1 65 1 80 1 7 1 6 1 64 1-99 1 106 1-100 1-20 1 113 1-128 1-101 1-64 1 278 1-152 1-80 1 34 1 90 1-64 1 11 1 140 1-43 1-42 1 53 1 45 1-23 1-44 1-113 1 57 1 31 1-94 1 54 1 124 1-12 1-66 1-172 1 62 1 79 1-41 1 99 1-134 1 106 1 46 1 27 1-92 1-150 1 159 1-54 1 53 1 116 1-139 1-45 1-50 1-28 1 126 1-137 1 27 1 42 1 111 1 27 1-66 1 138 1-96 1-43 1 205 1-168 1-7 1-89 1 158 1-172 1 136 1-19 1 6 1-114 1 107 1 52 1-188 1 94 1 177 1-75 1 16 1-39 1 19 1-77 1 118 1 129 1-26 1-126 1 149 1-11 1-184 1-118 1 145 1 19 1-129 1 212 1-19 1-45 1 70 1-113 1-13 1 136 1-81 1 73 1-40 1-15 1 20 1 59 1 0 1-97 1 178 1-40 1-89 1-14 1 25 1-61 1-94 1 67 1 27 1 33 1-8 1 82 1-40 1-62 1 102 1-39 1 41 1-39 1-58 1 113 1 51 1-183 1 11 1 170 1-127 1 3 1-5 1 12 1 26 1 61 1 34 1-31 1-4 1-41 1-40 1-2 1-6 1 54 1 37 1 51 1 22 1-138 1-88 1 21 1 12 1 10 1 65 1 67 1 1 1-12 1-17 1-61 1-25 1 115 1-6 1-12 1 22 1-8 1 13 1-49 1 25 1-15 1 86 1-47 1-64 1 42 1-14 1 66 1-102 1-117 1 241 1-149 1 29 1 73 1-18 1-37 1-46 1-9 1-110 1 45 1 30 1 87 1 96 1-221 1 20 1 78 1-90 1 135 1-63 1 4 1-51 1 83 1-44 1 85 1 23 1-54 1-105 1 3 1 25 1 40 1-65 1-51 1 99 1 27 1-16 1-14 1 68 1 55 1-175 1-10 1-7 1 67 1 106 1-131 1-21 1-97 1 181 1-164 1 76 1 80 1 54 1-172 1-2 1 62 1-58 1 88 1 37 1 76 1-154 1 91 1-7 1-86 1-91 1 167 1 68 1-138 1 57 1-67 1 36 1-14 1-154 1 68 1 46 1-34 1 5 1-44 1 242 1-129 1 134 1-61 1 65 1-62 1-209 1 43 1-140 1 208 1-24 1 94 1 9 1-16 1 1 1-163 1 7 1 44 1 11 1-47 1 194 1-92 1-66 1-34 1-113 1-12 1-25 1 7 1 97 1 48 1 13 1-146 1-6 1 8 1 116 1-156 1 120 1-164 1 154 1 9 1-169 1 272 1 99 1-107 1-146 1 37 1 51 1 36 1-205 1 62 1 78 1-35 1 84 1-29 1-96 1 26 1 71 1 133 1-43 1 70"/>
</g>
</svg>
</body></html>
